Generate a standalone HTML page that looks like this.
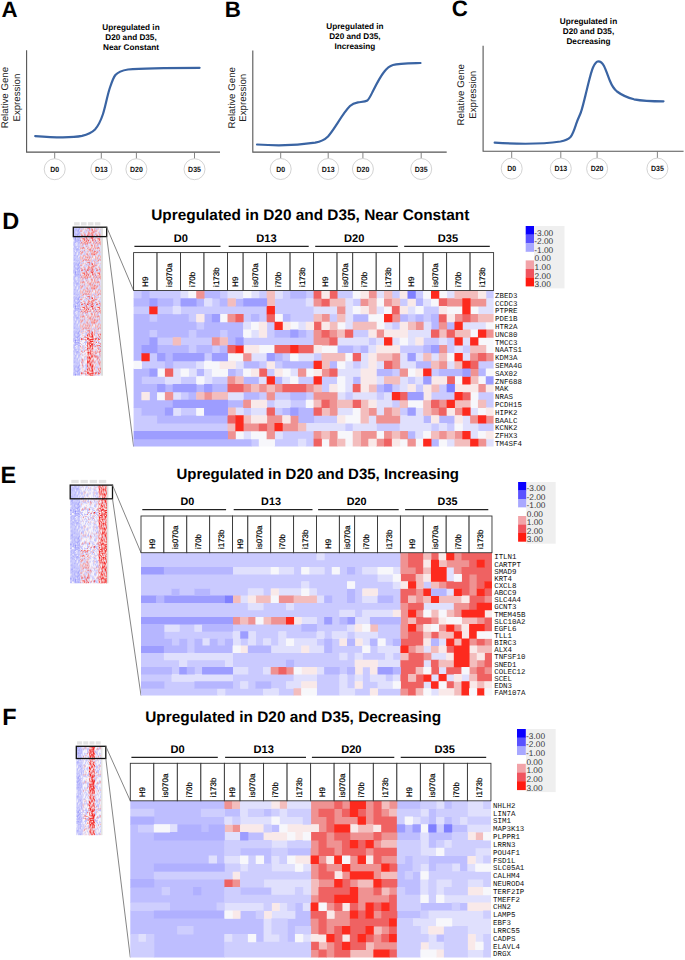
<!DOCTYPE html>
<html><head><meta charset="utf-8"><style>
html,body{margin:0;padding:0;background:#fff;width:685px;height:960px;overflow:hidden}
svg{display:block}
</style></head><body>
<svg width="685" height="960" viewBox="0 0 685 960" text-rendering="geometricPrecision">
<defs><pattern id="pB" patternUnits="userSpaceOnUse" width="15.0" height="34.199999999999996"><g transform="scale(0.75 0.95)"><path fill="#a4a4fa" d="M0 0h1v1h-1zM1 0h1v1h-1zM3 0h1v1h-1zM4 0h1v1h-1zM5 0h1v1h-1zM7 0h1v1h-1zM8 0h1v1h-1zM18 0h1v1h-1zM19 0h1v1h-1zM2 1h1v1h-1zM7 1h1v1h-1zM8 1h1v1h-1zM10 1h1v1h-1zM11 1h1v1h-1zM12 1h1v1h-1zM13 1h1v1h-1zM14 1h1v1h-1zM13 2h1v1h-1zM17 2h1v1h-1zM10 3h1v1h-1zM11 3h1v1h-1zM15 3h1v1h-1zM17 3h1v1h-1zM7 4h1v1h-1zM17 4h1v1h-1zM19 4h1v1h-1zM1 5h1v1h-1zM3 5h1v1h-1zM4 5h1v1h-1zM17 5h1v1h-1zM18 5h1v1h-1zM6 6h1v1h-1zM12 6h1v1h-1zM14 6h1v1h-1zM0 7h1v1h-1zM4 7h1v1h-1zM9 7h1v1h-1zM11 7h1v1h-1zM19 7h1v1h-1zM0 8h1v1h-1zM5 8h1v1h-1zM13 8h1v1h-1zM16 8h1v1h-1zM19 8h1v1h-1zM0 9h1v1h-1zM2 9h1v1h-1zM3 9h1v1h-1zM5 9h1v1h-1zM11 9h1v1h-1zM12 9h1v1h-1zM17 9h1v1h-1zM18 9h1v1h-1zM1 10h1v1h-1zM2 10h1v1h-1zM7 10h1v1h-1zM11 10h1v1h-1zM12 10h1v1h-1zM15 10h1v1h-1zM17 10h1v1h-1zM2 11h1v1h-1zM5 11h1v1h-1zM12 11h1v1h-1zM15 11h1v1h-1zM16 11h1v1h-1zM17 11h1v1h-1zM1 12h1v1h-1zM7 12h1v1h-1zM12 12h1v1h-1zM18 12h1v1h-1zM19 12h1v1h-1zM0 13h1v1h-1zM1 13h1v1h-1zM4 13h1v1h-1zM6 13h1v1h-1zM9 13h1v1h-1zM15 13h1v1h-1zM16 13h1v1h-1zM5 14h1v1h-1zM6 14h1v1h-1zM9 14h1v1h-1zM13 14h1v1h-1zM14 14h1v1h-1zM18 14h1v1h-1zM4 15h1v1h-1zM11 15h1v1h-1zM12 15h1v1h-1zM14 15h1v1h-1zM4 16h1v1h-1zM9 16h1v1h-1zM13 16h1v1h-1zM16 16h1v1h-1zM17 16h1v1h-1zM19 16h1v1h-1zM7 17h1v1h-1zM8 17h1v1h-1zM10 17h1v1h-1zM11 17h1v1h-1zM12 17h1v1h-1zM15 17h1v1h-1zM18 17h1v1h-1zM19 17h1v1h-1zM2 18h1v1h-1zM3 18h1v1h-1zM7 18h1v1h-1zM9 18h1v1h-1zM12 18h1v1h-1zM15 18h1v1h-1zM5 19h1v1h-1zM9 19h1v1h-1zM12 19h1v1h-1zM13 19h1v1h-1zM15 19h1v1h-1zM16 19h1v1h-1zM19 19h1v1h-1zM0 20h1v1h-1zM1 20h1v1h-1zM3 20h1v1h-1zM1 21h1v1h-1zM5 21h1v1h-1zM8 21h1v1h-1zM12 21h1v1h-1zM14 21h1v1h-1zM0 22h1v1h-1zM1 22h1v1h-1zM2 22h1v1h-1zM12 22h1v1h-1zM15 22h1v1h-1zM16 22h1v1h-1zM17 22h1v1h-1zM18 22h1v1h-1zM3 23h1v1h-1zM5 23h1v1h-1zM8 23h1v1h-1zM14 23h1v1h-1zM15 23h1v1h-1zM16 23h1v1h-1zM17 23h1v1h-1zM5 24h1v1h-1zM11 24h1v1h-1zM15 24h1v1h-1zM18 24h1v1h-1zM19 24h1v1h-1zM2 25h1v1h-1zM4 25h1v1h-1zM5 25h1v1h-1zM6 25h1v1h-1zM9 25h1v1h-1zM14 25h1v1h-1zM4 26h1v1h-1zM5 26h1v1h-1zM7 26h1v1h-1zM9 26h1v1h-1zM12 26h1v1h-1zM17 26h1v1h-1zM19 26h1v1h-1zM0 27h1v1h-1zM3 27h1v1h-1zM4 27h1v1h-1zM5 27h1v1h-1zM8 27h1v1h-1zM9 27h1v1h-1zM6 28h1v1h-1zM7 28h1v1h-1zM10 28h1v1h-1zM13 28h1v1h-1zM16 28h1v1h-1zM18 28h1v1h-1zM19 28h1v1h-1zM2 29h1v1h-1zM4 29h1v1h-1zM5 29h1v1h-1zM6 29h1v1h-1zM8 29h1v1h-1zM9 29h1v1h-1zM11 29h1v1h-1zM19 29h1v1h-1zM2 30h1v1h-1zM3 30h1v1h-1zM4 30h1v1h-1zM5 30h1v1h-1zM15 30h1v1h-1zM16 30h1v1h-1zM18 30h1v1h-1zM1 31h1v1h-1zM2 31h1v1h-1zM3 31h1v1h-1zM5 31h1v1h-1zM13 31h1v1h-1zM16 31h1v1h-1zM0 32h1v1h-1zM3 32h1v1h-1zM6 32h1v1h-1zM12 32h1v1h-1zM13 32h1v1h-1zM14 32h1v1h-1zM19 32h1v1h-1zM11 33h1v1h-1zM15 33h1v1h-1zM9 34h1v1h-1zM11 34h1v1h-1zM13 34h1v1h-1zM19 34h1v1h-1zM0 35h1v1h-1zM1 35h1v1h-1zM3 35h1v1h-1zM6 35h1v1h-1zM13 35h1v1h-1zM16 35h1v1h-1z"/><path fill="#8e8ef8" d="M2 0h1v1h-1zM12 2h1v1h-1zM8 5h1v1h-1zM13 5h1v1h-1zM15 5h1v1h-1zM16 6h1v1h-1zM7 7h1v1h-1zM15 7h1v1h-1zM7 8h1v1h-1zM11 8h1v1h-1zM14 8h1v1h-1zM3 10h1v1h-1zM10 10h1v1h-1zM13 10h1v1h-1zM19 10h1v1h-1zM9 11h1v1h-1zM0 14h1v1h-1zM2 14h1v1h-1zM7 14h1v1h-1zM12 14h1v1h-1zM1 15h1v1h-1zM7 15h1v1h-1zM8 16h1v1h-1zM10 16h1v1h-1zM3 17h1v1h-1zM5 18h1v1h-1zM11 18h1v1h-1zM16 18h1v1h-1zM8 20h1v1h-1zM11 20h1v1h-1zM14 20h1v1h-1zM9 21h1v1h-1zM8 22h1v1h-1zM11 22h1v1h-1zM10 23h1v1h-1zM1 24h1v1h-1zM6 24h1v1h-1zM1 25h1v1h-1zM3 26h1v1h-1zM15 26h1v1h-1zM2 27h1v1h-1zM19 27h1v1h-1zM3 28h1v1h-1zM5 28h1v1h-1zM11 28h1v1h-1zM17 29h1v1h-1zM10 30h1v1h-1zM5 32h1v1h-1zM12 33h1v1h-1zM13 33h1v1h-1zM14 33h1v1h-1zM0 34h1v1h-1zM1 34h1v1h-1zM11 35h1v1h-1z"/><path fill="#b4b4fc" d="M6 0h1v1h-1zM10 0h1v1h-1zM11 0h1v1h-1zM12 0h1v1h-1zM15 0h1v1h-1zM0 1h1v1h-1zM1 1h1v1h-1zM3 1h1v1h-1zM4 1h1v1h-1zM5 1h1v1h-1zM6 1h1v1h-1zM15 1h1v1h-1zM0 2h1v1h-1zM1 2h1v1h-1zM2 2h1v1h-1zM3 2h1v1h-1zM5 2h1v1h-1zM7 2h1v1h-1zM10 2h1v1h-1zM11 2h1v1h-1zM15 2h1v1h-1zM16 2h1v1h-1zM19 2h1v1h-1zM0 3h1v1h-1zM1 3h1v1h-1zM4 3h1v1h-1zM5 3h1v1h-1zM6 3h1v1h-1zM7 3h1v1h-1zM9 3h1v1h-1zM12 3h1v1h-1zM14 3h1v1h-1zM16 3h1v1h-1zM18 3h1v1h-1zM19 3h1v1h-1zM2 4h1v1h-1zM4 4h1v1h-1zM5 4h1v1h-1zM8 4h1v1h-1zM10 4h1v1h-1zM11 4h1v1h-1zM13 4h1v1h-1zM14 4h1v1h-1zM15 4h1v1h-1zM16 4h1v1h-1zM18 4h1v1h-1zM0 5h1v1h-1zM6 5h1v1h-1zM7 5h1v1h-1zM10 5h1v1h-1zM11 5h1v1h-1zM14 5h1v1h-1zM19 5h1v1h-1zM0 6h1v1h-1zM2 6h1v1h-1zM4 6h1v1h-1zM7 6h1v1h-1zM8 6h1v1h-1zM10 6h1v1h-1zM11 6h1v1h-1zM15 6h1v1h-1zM17 6h1v1h-1zM18 6h1v1h-1zM19 6h1v1h-1zM1 7h1v1h-1zM2 7h1v1h-1zM3 7h1v1h-1zM5 7h1v1h-1zM6 7h1v1h-1zM12 7h1v1h-1zM13 7h1v1h-1zM14 7h1v1h-1zM18 7h1v1h-1zM2 8h1v1h-1zM4 8h1v1h-1zM12 8h1v1h-1zM1 9h1v1h-1zM4 9h1v1h-1zM9 9h1v1h-1zM14 9h1v1h-1zM16 9h1v1h-1zM19 9h1v1h-1zM4 10h1v1h-1zM5 10h1v1h-1zM6 10h1v1h-1zM8 10h1v1h-1zM9 10h1v1h-1zM14 10h1v1h-1zM16 10h1v1h-1zM1 11h1v1h-1zM3 11h1v1h-1zM4 11h1v1h-1zM10 11h1v1h-1zM11 11h1v1h-1zM13 11h1v1h-1zM14 11h1v1h-1zM18 11h1v1h-1zM2 12h1v1h-1zM3 12h1v1h-1zM5 12h1v1h-1zM8 12h1v1h-1zM10 12h1v1h-1zM11 12h1v1h-1zM13 12h1v1h-1zM15 12h1v1h-1zM16 12h1v1h-1zM17 12h1v1h-1zM5 13h1v1h-1zM7 13h1v1h-1zM8 13h1v1h-1zM11 13h1v1h-1zM12 13h1v1h-1zM13 13h1v1h-1zM18 13h1v1h-1zM1 14h1v1h-1zM4 14h1v1h-1zM8 14h1v1h-1zM15 14h1v1h-1zM0 15h1v1h-1zM6 15h1v1h-1zM9 15h1v1h-1zM10 15h1v1h-1zM15 15h1v1h-1zM17 15h1v1h-1zM19 15h1v1h-1zM0 16h1v1h-1zM2 16h1v1h-1zM3 16h1v1h-1zM11 16h1v1h-1zM12 16h1v1h-1zM14 16h1v1h-1zM0 17h1v1h-1zM1 17h1v1h-1zM4 17h1v1h-1zM9 17h1v1h-1zM13 17h1v1h-1zM16 17h1v1h-1zM1 18h1v1h-1zM6 18h1v1h-1zM8 18h1v1h-1zM13 18h1v1h-1zM14 18h1v1h-1zM17 18h1v1h-1zM19 18h1v1h-1zM0 19h1v1h-1zM1 19h1v1h-1zM3 19h1v1h-1zM4 19h1v1h-1zM6 19h1v1h-1zM8 19h1v1h-1zM10 19h1v1h-1zM11 19h1v1h-1zM14 19h1v1h-1zM17 19h1v1h-1zM18 19h1v1h-1zM5 20h1v1h-1zM9 20h1v1h-1zM10 20h1v1h-1zM12 20h1v1h-1zM15 20h1v1h-1zM16 20h1v1h-1zM18 20h1v1h-1zM19 20h1v1h-1zM3 21h1v1h-1zM4 21h1v1h-1zM6 21h1v1h-1zM7 21h1v1h-1zM11 21h1v1h-1zM16 21h1v1h-1zM17 21h1v1h-1zM18 21h1v1h-1zM19 21h1v1h-1zM3 22h1v1h-1zM4 22h1v1h-1zM5 22h1v1h-1zM9 22h1v1h-1zM10 22h1v1h-1zM14 22h1v1h-1zM19 22h1v1h-1zM2 23h1v1h-1zM6 23h1v1h-1zM7 23h1v1h-1zM9 23h1v1h-1zM0 24h1v1h-1zM13 24h1v1h-1zM14 24h1v1h-1zM16 24h1v1h-1zM17 24h1v1h-1zM0 25h1v1h-1zM3 25h1v1h-1zM7 25h1v1h-1zM13 25h1v1h-1zM16 25h1v1h-1zM17 25h1v1h-1zM18 25h1v1h-1zM19 25h1v1h-1zM0 26h1v1h-1zM1 26h1v1h-1zM2 26h1v1h-1zM11 26h1v1h-1zM14 26h1v1h-1zM16 26h1v1h-1zM18 26h1v1h-1zM1 27h1v1h-1zM6 27h1v1h-1zM7 27h1v1h-1zM10 27h1v1h-1zM12 27h1v1h-1zM13 27h1v1h-1zM14 27h1v1h-1zM15 27h1v1h-1zM16 27h1v1h-1zM18 27h1v1h-1zM1 28h1v1h-1zM4 28h1v1h-1zM9 28h1v1h-1zM17 28h1v1h-1zM0 29h1v1h-1zM1 29h1v1h-1zM3 29h1v1h-1zM7 29h1v1h-1zM15 29h1v1h-1zM16 29h1v1h-1zM0 30h1v1h-1zM1 30h1v1h-1zM7 30h1v1h-1zM8 30h1v1h-1zM12 30h1v1h-1zM13 30h1v1h-1zM14 30h1v1h-1zM17 30h1v1h-1zM19 30h1v1h-1zM0 31h1v1h-1zM4 31h1v1h-1zM6 31h1v1h-1zM7 31h1v1h-1zM10 31h1v1h-1zM11 31h1v1h-1zM15 31h1v1h-1zM17 31h1v1h-1zM19 31h1v1h-1zM2 32h1v1h-1zM7 32h1v1h-1zM8 32h1v1h-1zM10 32h1v1h-1zM11 32h1v1h-1zM15 32h1v1h-1zM17 32h1v1h-1zM18 32h1v1h-1zM0 33h1v1h-1zM1 33h1v1h-1zM4 33h1v1h-1zM5 33h1v1h-1zM6 33h1v1h-1zM8 33h1v1h-1zM9 33h1v1h-1zM17 33h1v1h-1zM18 33h1v1h-1zM19 33h1v1h-1zM2 34h1v1h-1zM3 34h1v1h-1zM4 34h1v1h-1zM5 34h1v1h-1zM6 34h1v1h-1zM7 34h1v1h-1zM8 34h1v1h-1zM14 34h1v1h-1zM17 34h1v1h-1zM18 34h1v1h-1zM5 35h1v1h-1zM8 35h1v1h-1zM9 35h1v1h-1zM12 35h1v1h-1zM14 35h1v1h-1zM17 35h1v1h-1zM18 35h1v1h-1z"/><path fill="#c4c4fc" d="M9 0h1v1h-1zM13 0h1v1h-1zM14 0h1v1h-1zM9 1h1v1h-1zM18 1h1v1h-1zM19 1h1v1h-1zM4 2h1v1h-1zM6 2h1v1h-1zM9 2h1v1h-1zM18 2h1v1h-1zM3 3h1v1h-1zM8 3h1v1h-1zM13 3h1v1h-1zM1 4h1v1h-1zM3 4h1v1h-1zM6 4h1v1h-1zM12 4h1v1h-1zM5 5h1v1h-1zM9 5h1v1h-1zM12 5h1v1h-1zM16 5h1v1h-1zM3 6h1v1h-1zM5 6h1v1h-1zM9 6h1v1h-1zM13 6h1v1h-1zM10 7h1v1h-1zM16 7h1v1h-1zM1 8h1v1h-1zM6 8h1v1h-1zM8 8h1v1h-1zM9 8h1v1h-1zM10 8h1v1h-1zM15 8h1v1h-1zM17 8h1v1h-1zM18 8h1v1h-1zM7 9h1v1h-1zM8 9h1v1h-1zM10 9h1v1h-1zM13 9h1v1h-1zM15 9h1v1h-1zM0 10h1v1h-1zM18 10h1v1h-1zM0 11h1v1h-1zM6 11h1v1h-1zM7 11h1v1h-1zM8 11h1v1h-1zM19 11h1v1h-1zM4 12h1v1h-1zM6 12h1v1h-1zM9 12h1v1h-1zM14 12h1v1h-1zM2 13h1v1h-1zM10 13h1v1h-1zM14 13h1v1h-1zM17 13h1v1h-1zM19 13h1v1h-1zM3 14h1v1h-1zM10 14h1v1h-1zM11 14h1v1h-1zM16 14h1v1h-1zM17 14h1v1h-1zM19 14h1v1h-1zM5 15h1v1h-1zM8 15h1v1h-1zM13 15h1v1h-1zM16 15h1v1h-1zM18 15h1v1h-1zM1 16h1v1h-1zM5 16h1v1h-1zM6 16h1v1h-1zM7 16h1v1h-1zM15 16h1v1h-1zM18 16h1v1h-1zM2 17h1v1h-1zM5 17h1v1h-1zM17 17h1v1h-1zM0 18h1v1h-1zM10 18h1v1h-1zM18 18h1v1h-1zM2 19h1v1h-1zM7 19h1v1h-1zM2 20h1v1h-1zM4 20h1v1h-1zM6 20h1v1h-1zM7 20h1v1h-1zM17 20h1v1h-1zM0 21h1v1h-1zM2 21h1v1h-1zM13 21h1v1h-1zM15 21h1v1h-1zM6 22h1v1h-1zM13 22h1v1h-1zM0 23h1v1h-1zM1 23h1v1h-1zM4 23h1v1h-1zM11 23h1v1h-1zM12 23h1v1h-1zM13 23h1v1h-1zM19 23h1v1h-1zM2 24h1v1h-1zM3 24h1v1h-1zM4 24h1v1h-1zM7 24h1v1h-1zM8 24h1v1h-1zM9 24h1v1h-1zM10 24h1v1h-1zM12 24h1v1h-1zM10 25h1v1h-1zM11 25h1v1h-1zM15 25h1v1h-1zM10 26h1v1h-1zM13 26h1v1h-1zM11 27h1v1h-1zM17 27h1v1h-1zM0 28h1v1h-1zM12 28h1v1h-1zM15 28h1v1h-1zM10 29h1v1h-1zM14 29h1v1h-1zM18 29h1v1h-1zM6 30h1v1h-1zM11 30h1v1h-1zM8 31h1v1h-1zM9 31h1v1h-1zM12 31h1v1h-1zM14 31h1v1h-1zM18 31h1v1h-1zM4 32h1v1h-1zM9 32h1v1h-1zM16 32h1v1h-1zM2 33h1v1h-1zM3 33h1v1h-1zM7 33h1v1h-1zM10 33h1v1h-1zM16 33h1v1h-1zM10 34h1v1h-1zM12 34h1v1h-1zM15 34h1v1h-1zM16 34h1v1h-1zM4 35h1v1h-1zM7 35h1v1h-1zM10 35h1v1h-1zM15 35h1v1h-1zM19 35h1v1h-1z"/><path fill="#faf6f8" d="M16 0h1v1h-1zM17 0h1v1h-1zM16 1h1v1h-1zM17 1h1v1h-1zM8 2h1v1h-1zM14 2h1v1h-1zM2 3h1v1h-1zM0 4h1v1h-1zM9 4h1v1h-1zM2 5h1v1h-1zM1 6h1v1h-1zM8 7h1v1h-1zM17 7h1v1h-1zM3 8h1v1h-1zM6 9h1v1h-1zM0 12h1v1h-1zM3 13h1v1h-1zM2 15h1v1h-1zM3 15h1v1h-1zM6 17h1v1h-1zM14 17h1v1h-1zM4 18h1v1h-1zM13 20h1v1h-1zM10 21h1v1h-1zM7 22h1v1h-1zM18 23h1v1h-1zM8 25h1v1h-1zM12 25h1v1h-1zM6 26h1v1h-1zM8 26h1v1h-1zM2 28h1v1h-1zM8 28h1v1h-1zM14 28h1v1h-1zM12 29h1v1h-1zM13 29h1v1h-1zM9 30h1v1h-1zM1 32h1v1h-1zM2 35h1v1h-1z"/></g></pattern><pattern id="pM" patternUnits="userSpaceOnUse" width="15.0" height="34.199999999999996"><g transform="scale(0.75 0.95)"><path fill="#faf6f8" d="M0 0h1v1h-1zM1 0h1v1h-1zM2 0h1v1h-1zM8 0h1v1h-1zM9 0h1v1h-1zM10 0h1v1h-1zM11 0h1v1h-1zM19 0h1v1h-1zM6 1h1v1h-1zM14 1h1v1h-1zM16 1h1v1h-1zM2 2h1v1h-1zM3 2h1v1h-1zM9 2h1v1h-1zM12 2h1v1h-1zM13 2h1v1h-1zM17 2h1v1h-1zM19 2h1v1h-1zM3 3h1v1h-1zM9 3h1v1h-1zM11 3h1v1h-1zM15 3h1v1h-1zM0 4h1v1h-1zM2 4h1v1h-1zM17 4h1v1h-1zM0 5h1v1h-1zM5 5h1v1h-1zM7 5h1v1h-1zM8 5h1v1h-1zM9 5h1v1h-1zM18 5h1v1h-1zM19 5h1v1h-1zM0 6h1v1h-1zM4 6h1v1h-1zM5 6h1v1h-1zM12 6h1v1h-1zM13 6h1v1h-1zM18 6h1v1h-1zM1 7h1v1h-1zM5 7h1v1h-1zM7 7h1v1h-1zM12 7h1v1h-1zM19 7h1v1h-1zM0 8h1v1h-1zM1 8h1v1h-1zM3 8h1v1h-1zM4 8h1v1h-1zM9 8h1v1h-1zM13 8h1v1h-1zM15 8h1v1h-1zM19 8h1v1h-1zM2 9h1v1h-1zM14 9h1v1h-1zM15 9h1v1h-1zM18 9h1v1h-1zM5 10h1v1h-1zM8 10h1v1h-1zM9 10h1v1h-1zM11 10h1v1h-1zM12 10h1v1h-1zM16 10h1v1h-1zM1 11h1v1h-1zM7 11h1v1h-1zM13 11h1v1h-1zM15 11h1v1h-1zM18 11h1v1h-1zM9 12h1v1h-1zM7 13h1v1h-1zM13 13h1v1h-1zM15 13h1v1h-1zM16 13h1v1h-1zM18 13h1v1h-1zM19 13h1v1h-1zM1 14h1v1h-1zM2 14h1v1h-1zM4 14h1v1h-1zM7 14h1v1h-1zM8 14h1v1h-1zM11 14h1v1h-1zM13 14h1v1h-1zM15 14h1v1h-1zM18 14h1v1h-1zM9 15h1v1h-1zM10 15h1v1h-1zM18 15h1v1h-1zM2 16h1v1h-1zM6 16h1v1h-1zM14 16h1v1h-1zM15 16h1v1h-1zM18 16h1v1h-1zM6 17h1v1h-1zM8 17h1v1h-1zM9 17h1v1h-1zM13 17h1v1h-1zM15 17h1v1h-1zM2 18h1v1h-1zM4 18h1v1h-1zM5 18h1v1h-1zM6 18h1v1h-1zM12 18h1v1h-1zM3 19h1v1h-1zM5 19h1v1h-1zM6 19h1v1h-1zM8 19h1v1h-1zM13 19h1v1h-1zM0 20h1v1h-1zM1 20h1v1h-1zM2 20h1v1h-1zM3 20h1v1h-1zM10 20h1v1h-1zM13 20h1v1h-1zM15 20h1v1h-1zM16 20h1v1h-1zM17 20h1v1h-1zM18 20h1v1h-1zM1 22h1v1h-1zM2 22h1v1h-1zM9 22h1v1h-1zM14 22h1v1h-1zM17 22h1v1h-1zM0 23h1v1h-1zM4 23h1v1h-1zM7 23h1v1h-1zM12 23h1v1h-1zM13 23h1v1h-1zM16 23h1v1h-1zM17 23h1v1h-1zM3 24h1v1h-1zM4 24h1v1h-1zM10 24h1v1h-1zM12 24h1v1h-1zM14 24h1v1h-1zM2 25h1v1h-1zM5 25h1v1h-1zM12 25h1v1h-1zM14 25h1v1h-1zM15 25h1v1h-1zM4 26h1v1h-1zM7 26h1v1h-1zM10 26h1v1h-1zM11 26h1v1h-1zM12 26h1v1h-1zM2 27h1v1h-1zM3 27h1v1h-1zM11 27h1v1h-1zM0 28h1v1h-1zM1 28h1v1h-1zM6 28h1v1h-1zM9 28h1v1h-1zM10 28h1v1h-1zM13 28h1v1h-1zM16 28h1v1h-1zM17 28h1v1h-1zM5 29h1v1h-1zM8 29h1v1h-1zM9 29h1v1h-1zM15 29h1v1h-1zM16 29h1v1h-1zM18 29h1v1h-1zM1 30h1v1h-1zM5 30h1v1h-1zM10 30h1v1h-1zM11 30h1v1h-1zM12 30h1v1h-1zM15 30h1v1h-1zM19 30h1v1h-1zM8 31h1v1h-1zM7 32h1v1h-1zM3 33h1v1h-1zM5 33h1v1h-1zM16 33h1v1h-1zM0 34h1v1h-1zM6 34h1v1h-1zM10 34h1v1h-1zM11 34h1v1h-1zM12 34h1v1h-1zM17 34h1v1h-1zM8 35h1v1h-1zM13 35h1v1h-1z"/><path fill="#f22a2a" d="M3 0h1v1h-1zM4 0h1v1h-1zM12 0h1v1h-1zM14 0h1v1h-1zM16 0h1v1h-1zM18 0h1v1h-1zM3 1h1v1h-1zM4 1h1v1h-1zM7 1h1v1h-1zM10 1h1v1h-1zM12 1h1v1h-1zM15 1h1v1h-1zM17 1h1v1h-1zM18 1h1v1h-1zM5 2h1v1h-1zM14 2h1v1h-1zM0 3h1v1h-1zM8 3h1v1h-1zM12 3h1v1h-1zM16 3h1v1h-1zM4 4h1v1h-1zM10 4h1v1h-1zM15 4h1v1h-1zM16 4h1v1h-1zM1 5h1v1h-1zM13 5h1v1h-1zM6 6h1v1h-1zM6 7h1v1h-1zM15 7h1v1h-1zM2 8h1v1h-1zM10 8h1v1h-1zM11 8h1v1h-1zM18 8h1v1h-1zM7 9h1v1h-1zM16 9h1v1h-1zM19 10h1v1h-1zM3 11h1v1h-1zM12 11h1v1h-1zM5 12h1v1h-1zM10 12h1v1h-1zM17 12h1v1h-1zM2 13h1v1h-1zM4 13h1v1h-1zM5 13h1v1h-1zM6 13h1v1h-1zM14 13h1v1h-1zM1 15h1v1h-1zM2 15h1v1h-1zM3 15h1v1h-1zM4 15h1v1h-1zM5 15h1v1h-1zM6 15h1v1h-1zM8 15h1v1h-1zM15 15h1v1h-1zM5 16h1v1h-1zM16 16h1v1h-1zM14 17h1v1h-1zM0 18h1v1h-1zM7 19h1v1h-1zM9 19h1v1h-1zM14 19h1v1h-1zM1 21h1v1h-1zM7 21h1v1h-1zM13 21h1v1h-1zM14 21h1v1h-1zM15 21h1v1h-1zM17 21h1v1h-1zM18 21h1v1h-1zM4 22h1v1h-1zM19 22h1v1h-1zM6 23h1v1h-1zM10 23h1v1h-1zM1 24h1v1h-1zM17 24h1v1h-1zM18 24h1v1h-1zM19 24h1v1h-1zM1 25h1v1h-1zM3 25h1v1h-1zM2 26h1v1h-1zM3 26h1v1h-1zM6 26h1v1h-1zM19 26h1v1h-1zM5 27h1v1h-1zM7 27h1v1h-1zM17 27h1v1h-1zM4 28h1v1h-1zM5 28h1v1h-1zM18 28h1v1h-1zM1 29h1v1h-1zM17 29h1v1h-1zM19 29h1v1h-1zM2 30h1v1h-1zM7 30h1v1h-1zM8 30h1v1h-1zM13 30h1v1h-1zM17 30h1v1h-1zM3 31h1v1h-1zM4 31h1v1h-1zM10 31h1v1h-1zM12 31h1v1h-1zM17 31h1v1h-1zM19 31h1v1h-1zM1 32h1v1h-1zM8 32h1v1h-1zM13 32h1v1h-1zM16 32h1v1h-1zM17 32h1v1h-1zM2 33h1v1h-1zM4 33h1v1h-1zM14 33h1v1h-1zM1 34h1v1h-1zM2 34h1v1h-1zM3 34h1v1h-1zM13 34h1v1h-1zM15 34h1v1h-1zM3 35h1v1h-1zM10 35h1v1h-1zM11 35h1v1h-1zM12 35h1v1h-1zM15 35h1v1h-1z"/><path fill="#f4b0b0" d="M5 0h1v1h-1zM13 0h1v1h-1zM0 1h1v1h-1zM1 1h1v1h-1zM11 1h1v1h-1zM13 1h1v1h-1zM0 2h1v1h-1zM1 2h1v1h-1zM4 2h1v1h-1zM10 2h1v1h-1zM11 2h1v1h-1zM16 2h1v1h-1zM2 3h1v1h-1zM5 3h1v1h-1zM6 3h1v1h-1zM14 3h1v1h-1zM17 3h1v1h-1zM6 4h1v1h-1zM13 4h1v1h-1zM2 5h1v1h-1zM8 6h1v1h-1zM10 6h1v1h-1zM17 6h1v1h-1zM2 7h1v1h-1zM3 7h1v1h-1zM14 7h1v1h-1zM16 7h1v1h-1zM17 7h1v1h-1zM5 8h1v1h-1zM7 8h1v1h-1zM8 8h1v1h-1zM12 8h1v1h-1zM17 8h1v1h-1zM0 9h1v1h-1zM3 9h1v1h-1zM5 9h1v1h-1zM8 9h1v1h-1zM11 9h1v1h-1zM17 9h1v1h-1zM1 10h1v1h-1zM7 10h1v1h-1zM13 10h1v1h-1zM15 10h1v1h-1zM17 10h1v1h-1zM18 10h1v1h-1zM8 11h1v1h-1zM11 11h1v1h-1zM17 11h1v1h-1zM0 12h1v1h-1zM1 12h1v1h-1zM2 12h1v1h-1zM3 12h1v1h-1zM14 12h1v1h-1zM16 12h1v1h-1zM3 13h1v1h-1zM11 13h1v1h-1zM17 13h1v1h-1zM3 14h1v1h-1zM5 14h1v1h-1zM6 14h1v1h-1zM16 14h1v1h-1zM17 14h1v1h-1zM1 16h1v1h-1zM3 16h1v1h-1zM11 16h1v1h-1zM2 17h1v1h-1zM3 17h1v1h-1zM10 17h1v1h-1zM12 17h1v1h-1zM19 17h1v1h-1zM7 18h1v1h-1zM8 18h1v1h-1zM9 18h1v1h-1zM11 18h1v1h-1zM13 18h1v1h-1zM15 18h1v1h-1zM17 18h1v1h-1zM18 18h1v1h-1zM19 18h1v1h-1zM2 19h1v1h-1zM4 19h1v1h-1zM15 19h1v1h-1zM5 20h1v1h-1zM7 20h1v1h-1zM8 20h1v1h-1zM9 20h1v1h-1zM19 20h1v1h-1zM0 21h1v1h-1zM4 21h1v1h-1zM9 21h1v1h-1zM10 21h1v1h-1zM12 21h1v1h-1zM16 21h1v1h-1zM0 22h1v1h-1zM10 22h1v1h-1zM5 23h1v1h-1zM8 23h1v1h-1zM9 23h1v1h-1zM19 23h1v1h-1zM7 24h1v1h-1zM15 24h1v1h-1zM11 25h1v1h-1zM1 26h1v1h-1zM5 26h1v1h-1zM8 26h1v1h-1zM9 26h1v1h-1zM17 26h1v1h-1zM0 27h1v1h-1zM9 27h1v1h-1zM14 27h1v1h-1zM16 27h1v1h-1zM11 28h1v1h-1zM19 28h1v1h-1zM0 29h1v1h-1zM3 29h1v1h-1zM6 29h1v1h-1zM10 29h1v1h-1zM11 29h1v1h-1zM0 30h1v1h-1zM9 31h1v1h-1zM14 31h1v1h-1zM4 32h1v1h-1zM14 32h1v1h-1zM8 33h1v1h-1zM10 33h1v1h-1zM9 34h1v1h-1zM16 34h1v1h-1zM0 35h1v1h-1zM5 35h1v1h-1zM6 35h1v1h-1zM7 35h1v1h-1zM16 35h1v1h-1zM17 35h1v1h-1zM18 35h1v1h-1zM19 35h1v1h-1z"/><path fill="#f06060" d="M6 0h1v1h-1zM15 2h1v1h-1zM4 3h1v1h-1zM10 3h1v1h-1zM13 3h1v1h-1zM18 3h1v1h-1zM19 3h1v1h-1zM7 4h1v1h-1zM11 4h1v1h-1zM14 4h1v1h-1zM6 5h1v1h-1zM10 5h1v1h-1zM14 5h1v1h-1zM16 5h1v1h-1zM1 6h1v1h-1zM2 6h1v1h-1zM3 6h1v1h-1zM9 6h1v1h-1zM6 8h1v1h-1zM1 9h1v1h-1zM4 9h1v1h-1zM9 9h1v1h-1zM10 9h1v1h-1zM12 9h1v1h-1zM0 10h1v1h-1zM4 10h1v1h-1zM0 11h1v1h-1zM2 11h1v1h-1zM5 11h1v1h-1zM19 11h1v1h-1zM6 12h1v1h-1zM7 12h1v1h-1zM0 13h1v1h-1zM8 13h1v1h-1zM9 13h1v1h-1zM10 13h1v1h-1zM9 14h1v1h-1zM7 15h1v1h-1zM16 15h1v1h-1zM19 15h1v1h-1zM4 16h1v1h-1zM12 16h1v1h-1zM17 16h1v1h-1zM7 17h1v1h-1zM11 17h1v1h-1zM18 17h1v1h-1zM3 18h1v1h-1zM14 18h1v1h-1zM16 18h1v1h-1zM1 19h1v1h-1zM10 19h1v1h-1zM16 19h1v1h-1zM18 19h1v1h-1zM19 19h1v1h-1zM12 20h1v1h-1zM11 21h1v1h-1zM5 22h1v1h-1zM11 22h1v1h-1zM16 22h1v1h-1zM1 23h1v1h-1zM6 24h1v1h-1zM16 24h1v1h-1zM6 25h1v1h-1zM10 25h1v1h-1zM13 25h1v1h-1zM19 25h1v1h-1zM15 26h1v1h-1zM4 27h1v1h-1zM8 27h1v1h-1zM2 28h1v1h-1zM3 28h1v1h-1zM2 29h1v1h-1zM4 29h1v1h-1zM12 29h1v1h-1zM3 30h1v1h-1zM18 30h1v1h-1zM0 31h1v1h-1zM2 31h1v1h-1zM5 31h1v1h-1zM13 31h1v1h-1zM16 31h1v1h-1zM2 32h1v1h-1zM3 32h1v1h-1zM9 32h1v1h-1zM10 32h1v1h-1zM18 32h1v1h-1zM0 33h1v1h-1zM15 33h1v1h-1zM18 33h1v1h-1zM4 34h1v1h-1zM1 35h1v1h-1zM9 35h1v1h-1z"/><path fill="#c4c4fc" d="M7 0h1v1h-1zM15 0h1v1h-1zM17 0h1v1h-1zM2 1h1v1h-1zM5 1h1v1h-1zM8 1h1v1h-1zM9 1h1v1h-1zM19 1h1v1h-1zM6 2h1v1h-1zM7 2h1v1h-1zM8 2h1v1h-1zM18 2h1v1h-1zM1 3h1v1h-1zM7 3h1v1h-1zM1 4h1v1h-1zM3 4h1v1h-1zM5 4h1v1h-1zM8 4h1v1h-1zM9 4h1v1h-1zM12 4h1v1h-1zM18 4h1v1h-1zM19 4h1v1h-1zM3 5h1v1h-1zM4 5h1v1h-1zM11 5h1v1h-1zM12 5h1v1h-1zM15 5h1v1h-1zM17 5h1v1h-1zM7 6h1v1h-1zM11 6h1v1h-1zM14 6h1v1h-1zM15 6h1v1h-1zM16 6h1v1h-1zM19 6h1v1h-1zM0 7h1v1h-1zM4 7h1v1h-1zM8 7h1v1h-1zM9 7h1v1h-1zM10 7h1v1h-1zM11 7h1v1h-1zM13 7h1v1h-1zM18 7h1v1h-1zM14 8h1v1h-1zM16 8h1v1h-1zM6 9h1v1h-1zM13 9h1v1h-1zM19 9h1v1h-1zM2 10h1v1h-1zM3 10h1v1h-1zM6 10h1v1h-1zM10 10h1v1h-1zM14 10h1v1h-1zM4 11h1v1h-1zM6 11h1v1h-1zM9 11h1v1h-1zM10 11h1v1h-1zM14 11h1v1h-1zM16 11h1v1h-1zM4 12h1v1h-1zM8 12h1v1h-1zM11 12h1v1h-1zM12 12h1v1h-1zM13 12h1v1h-1zM15 12h1v1h-1zM18 12h1v1h-1zM19 12h1v1h-1zM1 13h1v1h-1zM12 13h1v1h-1zM0 14h1v1h-1zM10 14h1v1h-1zM12 14h1v1h-1zM14 14h1v1h-1zM19 14h1v1h-1zM0 15h1v1h-1zM11 15h1v1h-1zM12 15h1v1h-1zM13 15h1v1h-1zM14 15h1v1h-1zM17 15h1v1h-1zM0 16h1v1h-1zM7 16h1v1h-1zM8 16h1v1h-1zM9 16h1v1h-1zM10 16h1v1h-1zM13 16h1v1h-1zM19 16h1v1h-1zM0 17h1v1h-1zM1 17h1v1h-1zM4 17h1v1h-1zM5 17h1v1h-1zM16 17h1v1h-1zM17 17h1v1h-1zM1 18h1v1h-1zM10 18h1v1h-1zM0 19h1v1h-1zM11 19h1v1h-1zM12 19h1v1h-1zM17 19h1v1h-1zM4 20h1v1h-1zM6 20h1v1h-1zM11 20h1v1h-1zM14 20h1v1h-1zM2 21h1v1h-1zM3 21h1v1h-1zM5 21h1v1h-1zM6 21h1v1h-1zM8 21h1v1h-1zM19 21h1v1h-1zM3 22h1v1h-1zM6 22h1v1h-1zM7 22h1v1h-1zM8 22h1v1h-1zM12 22h1v1h-1zM13 22h1v1h-1zM15 22h1v1h-1zM18 22h1v1h-1zM2 23h1v1h-1zM3 23h1v1h-1zM11 23h1v1h-1zM14 23h1v1h-1zM15 23h1v1h-1zM18 23h1v1h-1zM0 24h1v1h-1zM2 24h1v1h-1zM5 24h1v1h-1zM8 24h1v1h-1zM9 24h1v1h-1zM11 24h1v1h-1zM13 24h1v1h-1zM0 25h1v1h-1zM4 25h1v1h-1zM7 25h1v1h-1zM8 25h1v1h-1zM9 25h1v1h-1zM16 25h1v1h-1zM17 25h1v1h-1zM18 25h1v1h-1zM0 26h1v1h-1zM13 26h1v1h-1zM14 26h1v1h-1zM16 26h1v1h-1zM18 26h1v1h-1zM1 27h1v1h-1zM6 27h1v1h-1zM10 27h1v1h-1zM12 27h1v1h-1zM13 27h1v1h-1zM15 27h1v1h-1zM18 27h1v1h-1zM19 27h1v1h-1zM7 28h1v1h-1zM8 28h1v1h-1zM12 28h1v1h-1zM14 28h1v1h-1zM15 28h1v1h-1zM7 29h1v1h-1zM13 29h1v1h-1zM14 29h1v1h-1zM4 30h1v1h-1zM6 30h1v1h-1zM9 30h1v1h-1zM14 30h1v1h-1zM16 30h1v1h-1zM1 31h1v1h-1zM6 31h1v1h-1zM7 31h1v1h-1zM11 31h1v1h-1zM15 31h1v1h-1zM18 31h1v1h-1zM0 32h1v1h-1zM5 32h1v1h-1zM6 32h1v1h-1zM11 32h1v1h-1zM12 32h1v1h-1zM15 32h1v1h-1zM19 32h1v1h-1zM1 33h1v1h-1zM6 33h1v1h-1zM7 33h1v1h-1zM9 33h1v1h-1zM11 33h1v1h-1zM12 33h1v1h-1zM13 33h1v1h-1zM17 33h1v1h-1zM19 33h1v1h-1zM5 34h1v1h-1zM7 34h1v1h-1zM8 34h1v1h-1zM14 34h1v1h-1zM18 34h1v1h-1zM19 34h1v1h-1zM2 35h1v1h-1zM4 35h1v1h-1zM14 35h1v1h-1z"/></g></pattern><pattern id="pR" patternUnits="userSpaceOnUse" width="15.0" height="34.199999999999996"><g transform="scale(0.75 0.95)"><path fill="#f22a2a" d="M0 0h1v1h-1zM4 0h1v1h-1zM5 0h1v1h-1zM6 0h1v1h-1zM7 0h1v1h-1zM9 0h1v1h-1zM11 0h1v1h-1zM12 0h1v1h-1zM16 0h1v1h-1zM17 0h1v1h-1zM18 0h1v1h-1zM6 1h1v1h-1zM12 1h1v1h-1zM14 1h1v1h-1zM15 1h1v1h-1zM2 2h1v1h-1zM5 2h1v1h-1zM6 2h1v1h-1zM8 2h1v1h-1zM12 2h1v1h-1zM14 2h1v1h-1zM15 2h1v1h-1zM16 2h1v1h-1zM17 2h1v1h-1zM18 2h1v1h-1zM4 3h1v1h-1zM5 3h1v1h-1zM9 3h1v1h-1zM14 3h1v1h-1zM18 3h1v1h-1zM2 4h1v1h-1zM6 4h1v1h-1zM8 4h1v1h-1zM9 4h1v1h-1zM10 4h1v1h-1zM12 4h1v1h-1zM13 4h1v1h-1zM14 4h1v1h-1zM18 4h1v1h-1zM0 5h1v1h-1zM1 5h1v1h-1zM2 5h1v1h-1zM4 5h1v1h-1zM5 5h1v1h-1zM6 5h1v1h-1zM8 5h1v1h-1zM10 5h1v1h-1zM12 5h1v1h-1zM13 5h1v1h-1zM19 5h1v1h-1zM0 6h1v1h-1zM4 6h1v1h-1zM7 6h1v1h-1zM9 6h1v1h-1zM10 6h1v1h-1zM11 6h1v1h-1zM12 6h1v1h-1zM13 6h1v1h-1zM14 6h1v1h-1zM16 6h1v1h-1zM19 6h1v1h-1zM1 7h1v1h-1zM4 7h1v1h-1zM5 7h1v1h-1zM7 7h1v1h-1zM9 7h1v1h-1zM11 7h1v1h-1zM12 7h1v1h-1zM14 7h1v1h-1zM15 7h1v1h-1zM16 7h1v1h-1zM0 8h1v1h-1zM2 8h1v1h-1zM4 8h1v1h-1zM7 8h1v1h-1zM8 8h1v1h-1zM9 8h1v1h-1zM11 8h1v1h-1zM13 8h1v1h-1zM14 8h1v1h-1zM16 8h1v1h-1zM7 9h1v1h-1zM8 9h1v1h-1zM12 9h1v1h-1zM14 9h1v1h-1zM15 9h1v1h-1zM16 9h1v1h-1zM17 9h1v1h-1zM19 9h1v1h-1zM8 10h1v1h-1zM10 10h1v1h-1zM11 10h1v1h-1zM14 10h1v1h-1zM17 10h1v1h-1zM18 10h1v1h-1zM19 10h1v1h-1zM0 11h1v1h-1zM2 11h1v1h-1zM9 11h1v1h-1zM13 11h1v1h-1zM16 11h1v1h-1zM18 11h1v1h-1zM0 12h1v1h-1zM1 12h1v1h-1zM3 12h1v1h-1zM8 12h1v1h-1zM13 12h1v1h-1zM15 12h1v1h-1zM17 12h1v1h-1zM18 12h1v1h-1zM1 13h1v1h-1zM4 13h1v1h-1zM6 13h1v1h-1zM9 13h1v1h-1zM10 13h1v1h-1zM11 13h1v1h-1zM16 13h1v1h-1zM5 14h1v1h-1zM6 14h1v1h-1zM9 14h1v1h-1zM3 15h1v1h-1zM8 15h1v1h-1zM18 15h1v1h-1zM19 15h1v1h-1zM0 16h1v1h-1zM1 16h1v1h-1zM2 16h1v1h-1zM4 16h1v1h-1zM6 16h1v1h-1zM7 16h1v1h-1zM9 16h1v1h-1zM10 16h1v1h-1zM11 16h1v1h-1zM12 16h1v1h-1zM14 16h1v1h-1zM15 16h1v1h-1zM16 16h1v1h-1zM18 16h1v1h-1zM19 16h1v1h-1zM7 17h1v1h-1zM8 17h1v1h-1zM13 17h1v1h-1zM17 17h1v1h-1zM18 17h1v1h-1zM2 18h1v1h-1zM4 18h1v1h-1zM6 18h1v1h-1zM9 18h1v1h-1zM11 18h1v1h-1zM12 18h1v1h-1zM13 18h1v1h-1zM15 18h1v1h-1zM0 19h1v1h-1zM1 19h1v1h-1zM2 19h1v1h-1zM3 19h1v1h-1zM5 19h1v1h-1zM6 19h1v1h-1zM11 19h1v1h-1zM12 19h1v1h-1zM14 19h1v1h-1zM15 19h1v1h-1zM17 19h1v1h-1zM18 19h1v1h-1zM1 20h1v1h-1zM14 20h1v1h-1zM16 20h1v1h-1zM18 20h1v1h-1zM13 21h1v1h-1zM14 21h1v1h-1zM18 21h1v1h-1zM19 21h1v1h-1zM3 22h1v1h-1zM7 22h1v1h-1zM13 22h1v1h-1zM0 23h1v1h-1zM2 23h1v1h-1zM9 23h1v1h-1zM12 23h1v1h-1zM13 23h1v1h-1zM18 23h1v1h-1zM0 24h1v1h-1zM4 24h1v1h-1zM7 24h1v1h-1zM9 24h1v1h-1zM15 24h1v1h-1zM17 24h1v1h-1zM19 24h1v1h-1zM1 25h1v1h-1zM3 25h1v1h-1zM4 25h1v1h-1zM10 25h1v1h-1zM13 25h1v1h-1zM14 25h1v1h-1zM15 25h1v1h-1zM0 26h1v1h-1zM3 26h1v1h-1zM5 26h1v1h-1zM6 26h1v1h-1zM9 26h1v1h-1zM11 26h1v1h-1zM14 26h1v1h-1zM17 26h1v1h-1zM18 26h1v1h-1zM2 27h1v1h-1zM6 27h1v1h-1zM9 27h1v1h-1zM10 27h1v1h-1zM13 27h1v1h-1zM15 27h1v1h-1zM16 27h1v1h-1zM0 28h1v1h-1zM8 28h1v1h-1zM10 28h1v1h-1zM17 28h1v1h-1zM19 28h1v1h-1zM2 29h1v1h-1zM5 29h1v1h-1zM6 29h1v1h-1zM9 29h1v1h-1zM10 29h1v1h-1zM15 29h1v1h-1zM17 29h1v1h-1zM18 29h1v1h-1zM1 30h1v1h-1zM3 30h1v1h-1zM4 30h1v1h-1zM5 30h1v1h-1zM11 30h1v1h-1zM13 30h1v1h-1zM14 30h1v1h-1zM18 30h1v1h-1zM1 31h1v1h-1zM2 31h1v1h-1zM4 31h1v1h-1zM5 31h1v1h-1zM6 31h1v1h-1zM11 31h1v1h-1zM13 31h1v1h-1zM16 31h1v1h-1zM18 31h1v1h-1zM19 31h1v1h-1zM2 32h1v1h-1zM4 32h1v1h-1zM8 32h1v1h-1zM10 32h1v1h-1zM11 32h1v1h-1zM12 32h1v1h-1zM13 32h1v1h-1zM14 32h1v1h-1zM17 32h1v1h-1zM19 32h1v1h-1zM5 33h1v1h-1zM7 33h1v1h-1zM8 33h1v1h-1zM11 33h1v1h-1zM12 33h1v1h-1zM14 33h1v1h-1zM18 33h1v1h-1zM3 34h1v1h-1zM4 34h1v1h-1zM9 34h1v1h-1zM11 34h1v1h-1zM16 34h1v1h-1zM1 35h1v1h-1zM2 35h1v1h-1zM3 35h1v1h-1zM7 35h1v1h-1zM8 35h1v1h-1zM10 35h1v1h-1zM11 35h1v1h-1zM12 35h1v1h-1zM13 35h1v1h-1zM14 35h1v1h-1zM15 35h1v1h-1zM18 35h1v1h-1zM19 35h1v1h-1z"/><path fill="#f4b0b0" d="M1 0h1v1h-1zM2 0h1v1h-1zM15 0h1v1h-1zM10 1h1v1h-1zM19 1h1v1h-1zM0 2h1v1h-1zM3 2h1v1h-1zM10 2h1v1h-1zM19 2h1v1h-1zM2 3h1v1h-1zM8 3h1v1h-1zM17 3h1v1h-1zM0 4h1v1h-1zM1 4h1v1h-1zM3 4h1v1h-1zM4 4h1v1h-1zM5 4h1v1h-1zM11 4h1v1h-1zM15 4h1v1h-1zM16 4h1v1h-1zM17 4h1v1h-1zM7 5h1v1h-1zM18 5h1v1h-1zM5 6h1v1h-1zM8 6h1v1h-1zM18 6h1v1h-1zM3 7h1v1h-1zM1 8h1v1h-1zM6 8h1v1h-1zM17 8h1v1h-1zM18 8h1v1h-1zM3 9h1v1h-1zM4 9h1v1h-1zM9 9h1v1h-1zM11 9h1v1h-1zM0 10h1v1h-1zM5 10h1v1h-1zM7 10h1v1h-1zM12 11h1v1h-1zM17 11h1v1h-1zM2 12h1v1h-1zM10 12h1v1h-1zM3 13h1v1h-1zM12 13h1v1h-1zM1 14h1v1h-1zM2 14h1v1h-1zM3 14h1v1h-1zM4 14h1v1h-1zM8 14h1v1h-1zM10 14h1v1h-1zM11 14h1v1h-1zM18 14h1v1h-1zM4 15h1v1h-1zM6 15h1v1h-1zM16 15h1v1h-1zM17 16h1v1h-1zM0 17h1v1h-1zM2 17h1v1h-1zM3 17h1v1h-1zM4 17h1v1h-1zM9 17h1v1h-1zM14 17h1v1h-1zM19 17h1v1h-1zM0 18h1v1h-1zM3 18h1v1h-1zM5 18h1v1h-1zM16 18h1v1h-1zM17 18h1v1h-1zM19 18h1v1h-1zM3 20h1v1h-1zM4 20h1v1h-1zM7 20h1v1h-1zM10 20h1v1h-1zM12 20h1v1h-1zM19 20h1v1h-1zM2 21h1v1h-1zM3 21h1v1h-1zM6 21h1v1h-1zM8 21h1v1h-1zM11 21h1v1h-1zM12 21h1v1h-1zM6 22h1v1h-1zM11 22h1v1h-1zM14 22h1v1h-1zM17 22h1v1h-1zM4 23h1v1h-1zM11 23h1v1h-1zM6 24h1v1h-1zM8 24h1v1h-1zM10 24h1v1h-1zM12 24h1v1h-1zM14 24h1v1h-1zM18 24h1v1h-1zM2 25h1v1h-1zM5 25h1v1h-1zM6 25h1v1h-1zM8 25h1v1h-1zM11 25h1v1h-1zM12 25h1v1h-1zM18 25h1v1h-1zM19 25h1v1h-1zM1 26h1v1h-1zM4 26h1v1h-1zM12 26h1v1h-1zM15 26h1v1h-1zM19 26h1v1h-1zM1 27h1v1h-1zM4 27h1v1h-1zM8 27h1v1h-1zM17 27h1v1h-1zM18 27h1v1h-1zM1 28h1v1h-1zM4 28h1v1h-1zM6 28h1v1h-1zM15 28h1v1h-1zM18 28h1v1h-1zM0 29h1v1h-1zM1 29h1v1h-1zM7 29h1v1h-1zM13 29h1v1h-1zM16 29h1v1h-1zM19 29h1v1h-1zM0 30h1v1h-1zM17 30h1v1h-1zM10 31h1v1h-1zM3 32h1v1h-1zM6 32h1v1h-1zM15 32h1v1h-1zM0 33h1v1h-1zM9 33h1v1h-1zM16 33h1v1h-1zM17 33h1v1h-1zM19 33h1v1h-1zM10 34h1v1h-1zM17 34h1v1h-1zM16 35h1v1h-1z"/><path fill="#faf6f8" d="M3 0h1v1h-1zM8 0h1v1h-1zM14 0h1v1h-1zM19 0h1v1h-1zM0 1h1v1h-1zM1 1h1v1h-1zM2 1h1v1h-1zM3 1h1v1h-1zM5 1h1v1h-1zM7 1h1v1h-1zM9 1h1v1h-1zM16 1h1v1h-1zM17 1h1v1h-1zM1 2h1v1h-1zM6 3h1v1h-1zM7 3h1v1h-1zM11 3h1v1h-1zM12 3h1v1h-1zM13 3h1v1h-1zM15 3h1v1h-1zM7 4h1v1h-1zM11 5h1v1h-1zM3 6h1v1h-1zM6 6h1v1h-1zM17 6h1v1h-1zM0 7h1v1h-1zM8 7h1v1h-1zM10 7h1v1h-1zM18 7h1v1h-1zM3 8h1v1h-1zM5 8h1v1h-1zM10 8h1v1h-1zM15 8h1v1h-1zM5 9h1v1h-1zM10 9h1v1h-1zM18 9h1v1h-1zM1 10h1v1h-1zM3 10h1v1h-1zM6 10h1v1h-1zM9 10h1v1h-1zM15 10h1v1h-1zM3 11h1v1h-1zM4 11h1v1h-1zM7 11h1v1h-1zM19 11h1v1h-1zM4 12h1v1h-1zM7 12h1v1h-1zM9 12h1v1h-1zM14 12h1v1h-1zM16 12h1v1h-1zM8 13h1v1h-1zM15 13h1v1h-1zM19 13h1v1h-1zM0 14h1v1h-1zM7 14h1v1h-1zM13 14h1v1h-1zM14 14h1v1h-1zM16 14h1v1h-1zM11 15h1v1h-1zM12 15h1v1h-1zM17 15h1v1h-1zM1 17h1v1h-1zM5 17h1v1h-1zM6 17h1v1h-1zM12 17h1v1h-1zM7 18h1v1h-1zM10 18h1v1h-1zM4 19h1v1h-1zM7 19h1v1h-1zM8 19h1v1h-1zM19 19h1v1h-1zM0 20h1v1h-1zM2 20h1v1h-1zM6 20h1v1h-1zM8 20h1v1h-1zM11 20h1v1h-1zM15 20h1v1h-1zM1 21h1v1h-1zM4 21h1v1h-1zM7 21h1v1h-1zM9 21h1v1h-1zM10 21h1v1h-1zM0 22h1v1h-1zM2 22h1v1h-1zM4 22h1v1h-1zM9 22h1v1h-1zM10 22h1v1h-1zM16 22h1v1h-1zM19 22h1v1h-1zM10 23h1v1h-1zM16 23h1v1h-1zM19 23h1v1h-1zM1 24h1v1h-1zM5 24h1v1h-1zM7 25h1v1h-1zM17 25h1v1h-1zM8 26h1v1h-1zM13 26h1v1h-1zM0 27h1v1h-1zM3 27h1v1h-1zM11 27h1v1h-1zM14 27h1v1h-1zM2 28h1v1h-1zM9 28h1v1h-1zM11 28h1v1h-1zM12 28h1v1h-1zM13 28h1v1h-1zM14 28h1v1h-1zM3 29h1v1h-1zM6 30h1v1h-1zM7 30h1v1h-1zM8 30h1v1h-1zM15 30h1v1h-1zM16 30h1v1h-1zM19 30h1v1h-1zM7 31h1v1h-1zM8 31h1v1h-1zM9 31h1v1h-1zM12 31h1v1h-1zM17 31h1v1h-1zM0 32h1v1h-1zM7 32h1v1h-1zM13 33h1v1h-1zM15 33h1v1h-1zM7 34h1v1h-1zM8 34h1v1h-1zM12 34h1v1h-1zM18 34h1v1h-1zM4 35h1v1h-1zM9 35h1v1h-1z"/><path fill="#f06060" d="M10 0h1v1h-1zM13 0h1v1h-1zM8 1h1v1h-1zM11 1h1v1h-1zM13 1h1v1h-1zM4 2h1v1h-1zM7 2h1v1h-1zM9 2h1v1h-1zM11 2h1v1h-1zM13 2h1v1h-1zM1 3h1v1h-1zM10 3h1v1h-1zM16 3h1v1h-1zM19 4h1v1h-1zM9 5h1v1h-1zM14 5h1v1h-1zM16 5h1v1h-1zM17 5h1v1h-1zM1 6h1v1h-1zM15 6h1v1h-1zM2 7h1v1h-1zM6 7h1v1h-1zM13 7h1v1h-1zM17 7h1v1h-1zM12 8h1v1h-1zM0 9h1v1h-1zM2 9h1v1h-1zM4 10h1v1h-1zM13 10h1v1h-1zM16 10h1v1h-1zM5 11h1v1h-1zM8 11h1v1h-1zM10 11h1v1h-1zM14 11h1v1h-1zM15 11h1v1h-1zM5 12h1v1h-1zM6 12h1v1h-1zM11 12h1v1h-1zM19 12h1v1h-1zM2 13h1v1h-1zM5 13h1v1h-1zM7 13h1v1h-1zM13 13h1v1h-1zM12 14h1v1h-1zM15 14h1v1h-1zM17 14h1v1h-1zM19 14h1v1h-1zM1 15h1v1h-1zM7 15h1v1h-1zM9 15h1v1h-1zM10 15h1v1h-1zM14 15h1v1h-1zM15 15h1v1h-1zM13 16h1v1h-1zM10 17h1v1h-1zM11 17h1v1h-1zM15 17h1v1h-1zM16 17h1v1h-1zM14 18h1v1h-1zM18 18h1v1h-1zM9 19h1v1h-1zM10 19h1v1h-1zM13 19h1v1h-1zM9 20h1v1h-1zM13 20h1v1h-1zM17 20h1v1h-1zM0 21h1v1h-1zM5 21h1v1h-1zM15 21h1v1h-1zM16 21h1v1h-1zM1 22h1v1h-1zM5 22h1v1h-1zM8 22h1v1h-1zM12 22h1v1h-1zM15 22h1v1h-1zM18 22h1v1h-1zM5 23h1v1h-1zM7 23h1v1h-1zM8 23h1v1h-1zM14 23h1v1h-1zM17 23h1v1h-1zM2 24h1v1h-1zM13 24h1v1h-1zM16 24h1v1h-1zM0 25h1v1h-1zM16 25h1v1h-1zM2 26h1v1h-1zM7 26h1v1h-1zM10 26h1v1h-1zM16 26h1v1h-1zM5 27h1v1h-1zM7 27h1v1h-1zM12 27h1v1h-1zM3 28h1v1h-1zM5 28h1v1h-1zM4 29h1v1h-1zM8 29h1v1h-1zM12 29h1v1h-1zM14 29h1v1h-1zM9 30h1v1h-1zM0 31h1v1h-1zM1 32h1v1h-1zM5 32h1v1h-1zM16 32h1v1h-1zM18 32h1v1h-1zM2 33h1v1h-1zM3 33h1v1h-1zM4 33h1v1h-1zM6 33h1v1h-1zM10 33h1v1h-1zM0 34h1v1h-1zM1 34h1v1h-1zM13 34h1v1h-1zM14 34h1v1h-1zM15 34h1v1h-1zM19 34h1v1h-1zM0 35h1v1h-1zM6 35h1v1h-1z"/><path fill="#c4c4fc" d="M4 1h1v1h-1zM18 1h1v1h-1zM0 3h1v1h-1zM3 3h1v1h-1zM19 3h1v1h-1zM3 5h1v1h-1zM15 5h1v1h-1zM2 6h1v1h-1zM19 7h1v1h-1zM19 8h1v1h-1zM1 9h1v1h-1zM6 9h1v1h-1zM13 9h1v1h-1zM2 10h1v1h-1zM12 10h1v1h-1zM1 11h1v1h-1zM6 11h1v1h-1zM11 11h1v1h-1zM12 12h1v1h-1zM0 13h1v1h-1zM14 13h1v1h-1zM17 13h1v1h-1zM18 13h1v1h-1zM0 15h1v1h-1zM2 15h1v1h-1zM5 15h1v1h-1zM13 15h1v1h-1zM3 16h1v1h-1zM5 16h1v1h-1zM8 16h1v1h-1zM1 18h1v1h-1zM8 18h1v1h-1zM16 19h1v1h-1zM5 20h1v1h-1zM17 21h1v1h-1zM1 23h1v1h-1zM3 23h1v1h-1zM6 23h1v1h-1zM15 23h1v1h-1zM3 24h1v1h-1zM11 24h1v1h-1zM9 25h1v1h-1zM19 27h1v1h-1zM7 28h1v1h-1zM16 28h1v1h-1zM11 29h1v1h-1zM2 30h1v1h-1zM10 30h1v1h-1zM12 30h1v1h-1zM3 31h1v1h-1zM14 31h1v1h-1zM15 31h1v1h-1zM9 32h1v1h-1zM1 33h1v1h-1zM2 34h1v1h-1zM5 34h1v1h-1zM6 34h1v1h-1zM5 35h1v1h-1zM17 35h1v1h-1z"/></g></pattern><pattern id="pRR" patternUnits="userSpaceOnUse" width="15.0" height="34.199999999999996"><g transform="scale(0.75 0.95)"><path fill="#f22a2a" d="M0 0h1v1h-1zM4 0h1v1h-1zM5 0h1v1h-1zM8 0h1v1h-1zM10 0h1v1h-1zM12 0h1v1h-1zM13 0h1v1h-1zM15 0h1v1h-1zM16 0h1v1h-1zM19 0h1v1h-1zM2 1h1v1h-1zM4 1h1v1h-1zM5 1h1v1h-1zM6 1h1v1h-1zM7 1h1v1h-1zM9 1h1v1h-1zM11 1h1v1h-1zM15 1h1v1h-1zM18 1h1v1h-1zM19 1h1v1h-1zM1 2h1v1h-1zM2 2h1v1h-1zM3 2h1v1h-1zM4 2h1v1h-1zM6 2h1v1h-1zM7 2h1v1h-1zM9 2h1v1h-1zM10 2h1v1h-1zM11 2h1v1h-1zM13 2h1v1h-1zM14 2h1v1h-1zM15 2h1v1h-1zM16 2h1v1h-1zM19 2h1v1h-1zM0 3h1v1h-1zM1 3h1v1h-1zM3 3h1v1h-1zM4 3h1v1h-1zM5 3h1v1h-1zM8 3h1v1h-1zM9 3h1v1h-1zM12 3h1v1h-1zM15 3h1v1h-1zM16 3h1v1h-1zM19 3h1v1h-1zM0 4h1v1h-1zM1 4h1v1h-1zM3 4h1v1h-1zM4 4h1v1h-1zM5 4h1v1h-1zM6 4h1v1h-1zM7 4h1v1h-1zM10 4h1v1h-1zM12 4h1v1h-1zM13 4h1v1h-1zM14 4h1v1h-1zM15 4h1v1h-1zM16 4h1v1h-1zM17 4h1v1h-1zM19 4h1v1h-1zM0 5h1v1h-1zM3 5h1v1h-1zM5 5h1v1h-1zM10 5h1v1h-1zM12 5h1v1h-1zM13 5h1v1h-1zM17 5h1v1h-1zM0 6h1v1h-1zM2 6h1v1h-1zM3 6h1v1h-1zM4 6h1v1h-1zM5 6h1v1h-1zM6 6h1v1h-1zM8 6h1v1h-1zM9 6h1v1h-1zM10 6h1v1h-1zM12 6h1v1h-1zM14 6h1v1h-1zM15 6h1v1h-1zM16 6h1v1h-1zM17 6h1v1h-1zM18 6h1v1h-1zM19 6h1v1h-1zM1 7h1v1h-1zM3 7h1v1h-1zM6 7h1v1h-1zM10 7h1v1h-1zM11 7h1v1h-1zM12 7h1v1h-1zM13 7h1v1h-1zM16 7h1v1h-1zM0 8h1v1h-1zM2 8h1v1h-1zM7 8h1v1h-1zM9 8h1v1h-1zM10 8h1v1h-1zM11 8h1v1h-1zM13 8h1v1h-1zM14 8h1v1h-1zM16 8h1v1h-1zM18 8h1v1h-1zM0 9h1v1h-1zM3 9h1v1h-1zM5 9h1v1h-1zM10 9h1v1h-1zM11 9h1v1h-1zM12 9h1v1h-1zM14 9h1v1h-1zM15 9h1v1h-1zM0 10h1v1h-1zM2 10h1v1h-1zM4 10h1v1h-1zM5 10h1v1h-1zM8 10h1v1h-1zM11 10h1v1h-1zM12 10h1v1h-1zM13 10h1v1h-1zM15 10h1v1h-1zM16 10h1v1h-1zM17 10h1v1h-1zM18 10h1v1h-1zM19 10h1v1h-1zM0 11h1v1h-1zM1 11h1v1h-1zM3 11h1v1h-1zM4 11h1v1h-1zM7 11h1v1h-1zM12 11h1v1h-1zM13 11h1v1h-1zM17 11h1v1h-1zM18 11h1v1h-1zM0 12h1v1h-1zM2 12h1v1h-1zM4 12h1v1h-1zM5 12h1v1h-1zM7 12h1v1h-1zM8 12h1v1h-1zM10 12h1v1h-1zM12 12h1v1h-1zM15 12h1v1h-1zM16 12h1v1h-1zM18 12h1v1h-1zM0 13h1v1h-1zM2 13h1v1h-1zM4 13h1v1h-1zM5 13h1v1h-1zM6 13h1v1h-1zM7 13h1v1h-1zM10 13h1v1h-1zM11 13h1v1h-1zM12 13h1v1h-1zM14 13h1v1h-1zM15 13h1v1h-1zM18 13h1v1h-1zM1 14h1v1h-1zM2 14h1v1h-1zM3 14h1v1h-1zM5 14h1v1h-1zM6 14h1v1h-1zM8 14h1v1h-1zM10 14h1v1h-1zM11 14h1v1h-1zM13 14h1v1h-1zM15 14h1v1h-1zM18 14h1v1h-1zM1 15h1v1h-1zM3 15h1v1h-1zM6 15h1v1h-1zM8 15h1v1h-1zM12 15h1v1h-1zM14 15h1v1h-1zM16 15h1v1h-1zM18 15h1v1h-1zM19 15h1v1h-1zM0 16h1v1h-1zM1 16h1v1h-1zM2 16h1v1h-1zM5 16h1v1h-1zM7 16h1v1h-1zM8 16h1v1h-1zM9 16h1v1h-1zM13 16h1v1h-1zM14 16h1v1h-1zM15 16h1v1h-1zM16 16h1v1h-1zM17 16h1v1h-1zM18 16h1v1h-1zM19 16h1v1h-1zM0 17h1v1h-1zM4 17h1v1h-1zM5 17h1v1h-1zM7 17h1v1h-1zM8 17h1v1h-1zM14 17h1v1h-1zM18 17h1v1h-1zM19 17h1v1h-1zM0 18h1v1h-1zM1 18h1v1h-1zM3 18h1v1h-1zM4 18h1v1h-1zM6 18h1v1h-1zM7 18h1v1h-1zM8 18h1v1h-1zM9 18h1v1h-1zM10 18h1v1h-1zM13 18h1v1h-1zM16 18h1v1h-1zM18 18h1v1h-1zM1 19h1v1h-1zM3 19h1v1h-1zM4 19h1v1h-1zM6 19h1v1h-1zM7 19h1v1h-1zM8 19h1v1h-1zM10 19h1v1h-1zM16 19h1v1h-1zM18 19h1v1h-1zM19 19h1v1h-1zM1 20h1v1h-1zM3 20h1v1h-1zM4 20h1v1h-1zM5 20h1v1h-1zM6 20h1v1h-1zM9 20h1v1h-1zM10 20h1v1h-1zM11 20h1v1h-1zM13 20h1v1h-1zM14 20h1v1h-1zM16 20h1v1h-1zM17 20h1v1h-1zM18 20h1v1h-1zM19 20h1v1h-1zM1 21h1v1h-1zM2 21h1v1h-1zM6 21h1v1h-1zM11 21h1v1h-1zM12 21h1v1h-1zM14 21h1v1h-1zM16 21h1v1h-1zM17 21h1v1h-1zM18 21h1v1h-1zM0 22h1v1h-1zM1 22h1v1h-1zM6 22h1v1h-1zM8 22h1v1h-1zM9 22h1v1h-1zM14 22h1v1h-1zM15 22h1v1h-1zM16 22h1v1h-1zM18 22h1v1h-1zM19 22h1v1h-1zM0 23h1v1h-1zM1 23h1v1h-1zM3 23h1v1h-1zM4 23h1v1h-1zM6 23h1v1h-1zM7 23h1v1h-1zM8 23h1v1h-1zM10 23h1v1h-1zM15 23h1v1h-1zM17 23h1v1h-1zM19 23h1v1h-1zM0 24h1v1h-1zM1 24h1v1h-1zM3 24h1v1h-1zM5 24h1v1h-1zM6 24h1v1h-1zM7 24h1v1h-1zM11 24h1v1h-1zM12 24h1v1h-1zM16 24h1v1h-1zM0 25h1v1h-1zM2 25h1v1h-1zM3 25h1v1h-1zM4 25h1v1h-1zM5 25h1v1h-1zM7 25h1v1h-1zM8 25h1v1h-1zM10 25h1v1h-1zM11 25h1v1h-1zM14 25h1v1h-1zM16 25h1v1h-1zM17 25h1v1h-1zM19 25h1v1h-1zM1 26h1v1h-1zM2 26h1v1h-1zM3 26h1v1h-1zM4 26h1v1h-1zM9 26h1v1h-1zM10 26h1v1h-1zM11 26h1v1h-1zM12 26h1v1h-1zM13 26h1v1h-1zM16 26h1v1h-1zM18 26h1v1h-1zM8 27h1v1h-1zM12 27h1v1h-1zM14 27h1v1h-1zM15 27h1v1h-1zM17 27h1v1h-1zM19 27h1v1h-1zM1 28h1v1h-1zM2 28h1v1h-1zM3 28h1v1h-1zM4 28h1v1h-1zM6 28h1v1h-1zM7 28h1v1h-1zM8 28h1v1h-1zM10 28h1v1h-1zM14 28h1v1h-1zM15 28h1v1h-1zM16 28h1v1h-1zM17 28h1v1h-1zM19 28h1v1h-1zM2 29h1v1h-1zM3 29h1v1h-1zM5 29h1v1h-1zM6 29h1v1h-1zM8 29h1v1h-1zM9 29h1v1h-1zM10 29h1v1h-1zM11 29h1v1h-1zM13 29h1v1h-1zM16 29h1v1h-1zM17 29h1v1h-1zM19 29h1v1h-1zM1 30h1v1h-1zM2 30h1v1h-1zM3 30h1v1h-1zM4 30h1v1h-1zM5 30h1v1h-1zM6 30h1v1h-1zM11 30h1v1h-1zM13 30h1v1h-1zM15 30h1v1h-1zM17 30h1v1h-1zM19 30h1v1h-1zM1 31h1v1h-1zM3 31h1v1h-1zM4 31h1v1h-1zM5 31h1v1h-1zM8 31h1v1h-1zM10 31h1v1h-1zM11 31h1v1h-1zM12 31h1v1h-1zM13 31h1v1h-1zM14 31h1v1h-1zM16 31h1v1h-1zM1 32h1v1h-1zM3 32h1v1h-1zM4 32h1v1h-1zM5 32h1v1h-1zM9 32h1v1h-1zM10 32h1v1h-1zM11 32h1v1h-1zM15 32h1v1h-1zM16 32h1v1h-1zM17 32h1v1h-1zM18 32h1v1h-1zM0 33h1v1h-1zM1 33h1v1h-1zM2 33h1v1h-1zM3 33h1v1h-1zM4 33h1v1h-1zM5 33h1v1h-1zM8 33h1v1h-1zM9 33h1v1h-1zM10 33h1v1h-1zM11 33h1v1h-1zM14 33h1v1h-1zM15 33h1v1h-1zM16 33h1v1h-1zM18 33h1v1h-1zM19 33h1v1h-1zM1 34h1v1h-1zM4 34h1v1h-1zM6 34h1v1h-1zM8 34h1v1h-1zM9 34h1v1h-1zM10 34h1v1h-1zM13 34h1v1h-1zM15 34h1v1h-1zM19 34h1v1h-1zM0 35h1v1h-1zM1 35h1v1h-1zM2 35h1v1h-1zM3 35h1v1h-1zM4 35h1v1h-1zM5 35h1v1h-1zM7 35h1v1h-1zM8 35h1v1h-1zM9 35h1v1h-1zM10 35h1v1h-1zM11 35h1v1h-1zM15 35h1v1h-1zM18 35h1v1h-1z"/><path fill="#f4b0b0" d="M1 0h1v1h-1zM6 0h1v1h-1zM9 0h1v1h-1zM11 0h1v1h-1zM17 0h1v1h-1zM14 1h1v1h-1zM5 2h1v1h-1zM12 2h1v1h-1zM17 2h1v1h-1zM10 3h1v1h-1zM13 3h1v1h-1zM4 5h1v1h-1zM9 5h1v1h-1zM16 5h1v1h-1zM7 6h1v1h-1zM13 6h1v1h-1zM0 7h1v1h-1zM8 8h1v1h-1zM15 8h1v1h-1zM17 9h1v1h-1zM18 9h1v1h-1zM7 10h1v1h-1zM9 11h1v1h-1zM11 11h1v1h-1zM14 11h1v1h-1zM16 11h1v1h-1zM19 11h1v1h-1zM3 12h1v1h-1zM3 13h1v1h-1zM7 14h1v1h-1zM14 14h1v1h-1zM16 14h1v1h-1zM17 14h1v1h-1zM5 15h1v1h-1zM13 15h1v1h-1zM11 16h1v1h-1zM1 17h1v1h-1zM12 17h1v1h-1zM17 17h1v1h-1zM11 18h1v1h-1zM19 18h1v1h-1zM11 19h1v1h-1zM8 20h1v1h-1zM0 21h1v1h-1zM4 21h1v1h-1zM5 21h1v1h-1zM10 21h1v1h-1zM15 21h1v1h-1zM19 21h1v1h-1zM2 22h1v1h-1zM12 23h1v1h-1zM8 24h1v1h-1zM10 24h1v1h-1zM19 24h1v1h-1zM1 25h1v1h-1zM9 25h1v1h-1zM5 26h1v1h-1zM7 26h1v1h-1zM14 26h1v1h-1zM0 27h1v1h-1zM5 28h1v1h-1zM13 28h1v1h-1zM18 28h1v1h-1zM14 29h1v1h-1zM8 30h1v1h-1zM12 30h1v1h-1zM14 30h1v1h-1zM16 30h1v1h-1zM0 31h1v1h-1zM2 31h1v1h-1zM17 31h1v1h-1zM6 32h1v1h-1zM8 32h1v1h-1zM14 32h1v1h-1zM19 32h1v1h-1zM7 33h1v1h-1zM14 34h1v1h-1zM17 34h1v1h-1zM18 34h1v1h-1zM12 35h1v1h-1zM19 35h1v1h-1z"/><path fill="#f06060" d="M2 0h1v1h-1zM7 0h1v1h-1zM18 0h1v1h-1zM0 1h1v1h-1zM1 1h1v1h-1zM3 1h1v1h-1zM12 1h1v1h-1zM16 1h1v1h-1zM17 1h1v1h-1zM18 2h1v1h-1zM2 3h1v1h-1zM11 3h1v1h-1zM17 3h1v1h-1zM2 4h1v1h-1zM9 4h1v1h-1zM1 5h1v1h-1zM6 5h1v1h-1zM7 5h1v1h-1zM15 5h1v1h-1zM19 5h1v1h-1zM11 6h1v1h-1zM2 7h1v1h-1zM4 7h1v1h-1zM5 7h1v1h-1zM8 7h1v1h-1zM9 7h1v1h-1zM17 7h1v1h-1zM19 7h1v1h-1zM12 8h1v1h-1zM17 8h1v1h-1zM1 9h1v1h-1zM2 9h1v1h-1zM6 10h1v1h-1zM9 10h1v1h-1zM6 11h1v1h-1zM8 11h1v1h-1zM10 11h1v1h-1zM15 11h1v1h-1zM1 12h1v1h-1zM9 12h1v1h-1zM14 12h1v1h-1zM17 12h1v1h-1zM19 12h1v1h-1zM8 13h1v1h-1zM13 13h1v1h-1zM17 13h1v1h-1zM12 14h1v1h-1zM2 15h1v1h-1zM4 15h1v1h-1zM7 15h1v1h-1zM10 15h1v1h-1zM15 15h1v1h-1zM3 16h1v1h-1zM12 16h1v1h-1zM10 17h1v1h-1zM16 17h1v1h-1zM5 18h1v1h-1zM12 18h1v1h-1zM15 18h1v1h-1zM12 19h1v1h-1zM0 20h1v1h-1zM7 20h1v1h-1zM3 21h1v1h-1zM5 22h1v1h-1zM12 22h1v1h-1zM11 23h1v1h-1zM13 23h1v1h-1zM16 23h1v1h-1zM2 24h1v1h-1zM4 24h1v1h-1zM18 24h1v1h-1zM6 25h1v1h-1zM15 25h1v1h-1zM8 26h1v1h-1zM15 26h1v1h-1zM1 27h1v1h-1zM2 27h1v1h-1zM3 27h1v1h-1zM6 27h1v1h-1zM11 27h1v1h-1zM18 27h1v1h-1zM9 28h1v1h-1zM11 28h1v1h-1zM0 29h1v1h-1zM4 29h1v1h-1zM7 29h1v1h-1zM15 29h1v1h-1zM0 30h1v1h-1zM7 30h1v1h-1zM6 31h1v1h-1zM7 31h1v1h-1zM18 31h1v1h-1zM7 32h1v1h-1zM13 32h1v1h-1zM12 33h1v1h-1zM17 33h1v1h-1zM0 34h1v1h-1zM3 34h1v1h-1zM11 34h1v1h-1zM12 34h1v1h-1zM16 35h1v1h-1z"/><path fill="#faf6f8" d="M3 0h1v1h-1zM14 0h1v1h-1zM13 1h1v1h-1zM0 2h1v1h-1zM8 2h1v1h-1zM6 3h1v1h-1zM7 3h1v1h-1zM14 3h1v1h-1zM18 3h1v1h-1zM11 4h1v1h-1zM18 4h1v1h-1zM2 5h1v1h-1zM8 5h1v1h-1zM11 5h1v1h-1zM14 5h1v1h-1zM18 5h1v1h-1zM1 6h1v1h-1zM7 7h1v1h-1zM14 7h1v1h-1zM15 7h1v1h-1zM18 7h1v1h-1zM1 8h1v1h-1zM4 8h1v1h-1zM5 8h1v1h-1zM6 8h1v1h-1zM7 9h1v1h-1zM8 9h1v1h-1zM9 9h1v1h-1zM13 9h1v1h-1zM16 9h1v1h-1zM19 9h1v1h-1zM1 10h1v1h-1zM3 10h1v1h-1zM10 10h1v1h-1zM14 10h1v1h-1zM2 11h1v1h-1zM5 11h1v1h-1zM6 12h1v1h-1zM11 12h1v1h-1zM13 12h1v1h-1zM1 13h1v1h-1zM9 13h1v1h-1zM16 13h1v1h-1zM19 13h1v1h-1zM4 14h1v1h-1zM9 14h1v1h-1zM19 14h1v1h-1zM0 15h1v1h-1zM9 15h1v1h-1zM11 15h1v1h-1zM17 15h1v1h-1zM6 16h1v1h-1zM2 17h1v1h-1zM3 17h1v1h-1zM6 17h1v1h-1zM9 17h1v1h-1zM11 17h1v1h-1zM13 17h1v1h-1zM15 17h1v1h-1zM2 18h1v1h-1zM14 18h1v1h-1zM17 18h1v1h-1zM0 19h1v1h-1zM2 19h1v1h-1zM5 19h1v1h-1zM9 19h1v1h-1zM14 19h1v1h-1zM15 19h1v1h-1zM17 19h1v1h-1zM12 20h1v1h-1zM15 20h1v1h-1zM7 21h1v1h-1zM8 21h1v1h-1zM9 21h1v1h-1zM13 21h1v1h-1zM3 22h1v1h-1zM4 22h1v1h-1zM7 22h1v1h-1zM10 22h1v1h-1zM11 22h1v1h-1zM13 22h1v1h-1zM17 22h1v1h-1zM2 23h1v1h-1zM9 23h1v1h-1zM14 23h1v1h-1zM18 23h1v1h-1zM9 24h1v1h-1zM13 24h1v1h-1zM14 24h1v1h-1zM17 24h1v1h-1zM12 25h1v1h-1zM13 25h1v1h-1zM17 26h1v1h-1zM19 26h1v1h-1zM4 27h1v1h-1zM7 27h1v1h-1zM9 27h1v1h-1zM10 27h1v1h-1zM13 27h1v1h-1zM16 27h1v1h-1zM0 28h1v1h-1zM12 28h1v1h-1zM1 29h1v1h-1zM12 29h1v1h-1zM18 29h1v1h-1zM9 30h1v1h-1zM10 30h1v1h-1zM18 30h1v1h-1zM9 31h1v1h-1zM15 31h1v1h-1zM19 31h1v1h-1zM0 32h1v1h-1zM2 32h1v1h-1zM12 32h1v1h-1zM6 33h1v1h-1zM2 34h1v1h-1zM7 34h1v1h-1zM16 34h1v1h-1zM13 35h1v1h-1zM14 35h1v1h-1zM17 35h1v1h-1z"/><path fill="#c4c4fc" d="M8 1h1v1h-1zM10 1h1v1h-1zM8 4h1v1h-1zM3 8h1v1h-1zM19 8h1v1h-1zM4 9h1v1h-1zM6 9h1v1h-1zM0 14h1v1h-1zM4 16h1v1h-1zM10 16h1v1h-1zM13 19h1v1h-1zM2 20h1v1h-1zM5 23h1v1h-1zM15 24h1v1h-1zM18 25h1v1h-1zM0 26h1v1h-1zM6 26h1v1h-1zM5 27h1v1h-1zM13 33h1v1h-1zM5 34h1v1h-1zM6 35h1v1h-1z"/></g></pattern><pattern id="pW" patternUnits="userSpaceOnUse" width="15.0" height="34.199999999999996"><g transform="scale(0.75 0.95)"><path fill="#c4c4fc" d="M0 0h1v1h-1zM2 0h1v1h-1zM4 0h1v1h-1zM6 0h1v1h-1zM7 0h1v1h-1zM8 0h1v1h-1zM9 0h1v1h-1zM12 0h1v1h-1zM16 0h1v1h-1zM17 0h1v1h-1zM18 0h1v1h-1zM0 1h1v1h-1zM1 1h1v1h-1zM6 1h1v1h-1zM8 1h1v1h-1zM9 1h1v1h-1zM10 1h1v1h-1zM12 1h1v1h-1zM13 1h1v1h-1zM14 1h1v1h-1zM15 1h1v1h-1zM19 1h1v1h-1zM0 2h1v1h-1zM1 2h1v1h-1zM3 2h1v1h-1zM4 2h1v1h-1zM9 2h1v1h-1zM10 2h1v1h-1zM12 2h1v1h-1zM14 2h1v1h-1zM18 2h1v1h-1zM0 3h1v1h-1zM4 3h1v1h-1zM5 3h1v1h-1zM6 3h1v1h-1zM8 3h1v1h-1zM10 3h1v1h-1zM11 3h1v1h-1zM12 3h1v1h-1zM15 3h1v1h-1zM16 3h1v1h-1zM18 3h1v1h-1zM19 3h1v1h-1zM0 4h1v1h-1zM3 4h1v1h-1zM4 4h1v1h-1zM6 4h1v1h-1zM7 4h1v1h-1zM8 4h1v1h-1zM13 4h1v1h-1zM16 4h1v1h-1zM17 4h1v1h-1zM18 4h1v1h-1zM0 5h1v1h-1zM1 5h1v1h-1zM2 5h1v1h-1zM3 5h1v1h-1zM5 5h1v1h-1zM8 5h1v1h-1zM11 5h1v1h-1zM13 5h1v1h-1zM14 5h1v1h-1zM17 5h1v1h-1zM18 5h1v1h-1zM2 6h1v1h-1zM3 6h1v1h-1zM5 6h1v1h-1zM6 6h1v1h-1zM8 6h1v1h-1zM12 6h1v1h-1zM13 6h1v1h-1zM14 6h1v1h-1zM15 6h1v1h-1zM17 6h1v1h-1zM19 6h1v1h-1zM1 7h1v1h-1zM2 7h1v1h-1zM3 7h1v1h-1zM4 7h1v1h-1zM5 7h1v1h-1zM6 7h1v1h-1zM9 7h1v1h-1zM10 7h1v1h-1zM12 7h1v1h-1zM15 7h1v1h-1zM16 7h1v1h-1zM18 7h1v1h-1zM19 7h1v1h-1zM0 8h1v1h-1zM5 8h1v1h-1zM7 8h1v1h-1zM8 8h1v1h-1zM9 8h1v1h-1zM11 8h1v1h-1zM13 8h1v1h-1zM14 8h1v1h-1zM15 8h1v1h-1zM16 8h1v1h-1zM17 8h1v1h-1zM0 9h1v1h-1zM4 9h1v1h-1zM6 9h1v1h-1zM7 9h1v1h-1zM8 9h1v1h-1zM11 9h1v1h-1zM14 9h1v1h-1zM15 9h1v1h-1zM17 9h1v1h-1zM0 10h1v1h-1zM2 10h1v1h-1zM3 10h1v1h-1zM4 10h1v1h-1zM9 10h1v1h-1zM11 10h1v1h-1zM13 10h1v1h-1zM14 10h1v1h-1zM16 10h1v1h-1zM18 10h1v1h-1zM19 10h1v1h-1zM0 11h1v1h-1zM1 11h1v1h-1zM4 11h1v1h-1zM5 11h1v1h-1zM6 11h1v1h-1zM7 11h1v1h-1zM8 11h1v1h-1zM10 11h1v1h-1zM13 11h1v1h-1zM14 11h1v1h-1zM16 11h1v1h-1zM17 11h1v1h-1zM19 11h1v1h-1zM0 12h1v1h-1zM2 12h1v1h-1zM5 12h1v1h-1zM6 12h1v1h-1zM7 12h1v1h-1zM8 12h1v1h-1zM11 12h1v1h-1zM12 12h1v1h-1zM13 12h1v1h-1zM15 12h1v1h-1zM17 12h1v1h-1zM18 12h1v1h-1zM19 12h1v1h-1zM2 13h1v1h-1zM4 13h1v1h-1zM8 13h1v1h-1zM10 13h1v1h-1zM12 13h1v1h-1zM13 13h1v1h-1zM17 13h1v1h-1zM0 14h1v1h-1zM1 14h1v1h-1zM3 14h1v1h-1zM4 14h1v1h-1zM5 14h1v1h-1zM6 14h1v1h-1zM7 14h1v1h-1zM8 14h1v1h-1zM9 14h1v1h-1zM10 14h1v1h-1zM11 14h1v1h-1zM12 14h1v1h-1zM14 14h1v1h-1zM18 14h1v1h-1zM19 14h1v1h-1zM0 15h1v1h-1zM3 15h1v1h-1zM4 15h1v1h-1zM7 15h1v1h-1zM8 15h1v1h-1zM9 15h1v1h-1zM10 15h1v1h-1zM13 15h1v1h-1zM16 15h1v1h-1zM19 15h1v1h-1zM0 16h1v1h-1zM4 16h1v1h-1zM8 16h1v1h-1zM9 16h1v1h-1zM10 16h1v1h-1zM12 16h1v1h-1zM14 16h1v1h-1zM15 16h1v1h-1zM16 16h1v1h-1zM17 16h1v1h-1zM18 16h1v1h-1zM19 16h1v1h-1zM2 17h1v1h-1zM3 17h1v1h-1zM4 17h1v1h-1zM5 17h1v1h-1zM6 17h1v1h-1zM7 17h1v1h-1zM8 17h1v1h-1zM10 17h1v1h-1zM12 17h1v1h-1zM13 17h1v1h-1zM15 17h1v1h-1zM16 17h1v1h-1zM17 17h1v1h-1zM1 18h1v1h-1zM4 18h1v1h-1zM6 18h1v1h-1zM7 18h1v1h-1zM9 18h1v1h-1zM10 18h1v1h-1zM11 18h1v1h-1zM12 18h1v1h-1zM13 18h1v1h-1zM15 18h1v1h-1zM16 18h1v1h-1zM1 19h1v1h-1zM4 19h1v1h-1zM5 19h1v1h-1zM7 19h1v1h-1zM8 19h1v1h-1zM9 19h1v1h-1zM10 19h1v1h-1zM11 19h1v1h-1zM16 19h1v1h-1zM18 19h1v1h-1zM19 19h1v1h-1zM1 20h1v1h-1zM2 20h1v1h-1zM3 20h1v1h-1zM6 20h1v1h-1zM8 20h1v1h-1zM9 20h1v1h-1zM10 20h1v1h-1zM11 20h1v1h-1zM15 20h1v1h-1zM19 20h1v1h-1zM4 21h1v1h-1zM5 21h1v1h-1zM7 21h1v1h-1zM9 21h1v1h-1zM10 21h1v1h-1zM11 21h1v1h-1zM13 21h1v1h-1zM14 21h1v1h-1zM15 21h1v1h-1zM17 21h1v1h-1zM18 21h1v1h-1zM0 22h1v1h-1zM1 22h1v1h-1zM2 22h1v1h-1zM4 22h1v1h-1zM5 22h1v1h-1zM7 22h1v1h-1zM11 22h1v1h-1zM12 22h1v1h-1zM17 22h1v1h-1zM18 22h1v1h-1zM0 23h1v1h-1zM2 23h1v1h-1zM5 23h1v1h-1zM6 23h1v1h-1zM8 23h1v1h-1zM11 23h1v1h-1zM13 23h1v1h-1zM16 23h1v1h-1zM17 23h1v1h-1zM18 23h1v1h-1zM1 24h1v1h-1zM2 24h1v1h-1zM3 24h1v1h-1zM5 24h1v1h-1zM6 24h1v1h-1zM7 24h1v1h-1zM8 24h1v1h-1zM9 24h1v1h-1zM10 24h1v1h-1zM12 24h1v1h-1zM13 24h1v1h-1zM14 24h1v1h-1zM16 24h1v1h-1zM17 24h1v1h-1zM18 24h1v1h-1zM19 24h1v1h-1zM0 25h1v1h-1zM4 25h1v1h-1zM5 25h1v1h-1zM7 25h1v1h-1zM8 25h1v1h-1zM10 25h1v1h-1zM11 25h1v1h-1zM12 25h1v1h-1zM13 25h1v1h-1zM14 25h1v1h-1zM15 25h1v1h-1zM19 25h1v1h-1zM1 26h1v1h-1zM2 26h1v1h-1zM5 26h1v1h-1zM7 26h1v1h-1zM9 26h1v1h-1zM10 26h1v1h-1zM13 26h1v1h-1zM15 26h1v1h-1zM16 26h1v1h-1zM19 26h1v1h-1zM1 27h1v1h-1zM3 27h1v1h-1zM5 27h1v1h-1zM6 27h1v1h-1zM7 27h1v1h-1zM9 27h1v1h-1zM11 27h1v1h-1zM18 27h1v1h-1zM19 27h1v1h-1zM0 28h1v1h-1zM2 28h1v1h-1zM5 28h1v1h-1zM6 28h1v1h-1zM7 28h1v1h-1zM8 28h1v1h-1zM14 28h1v1h-1zM18 28h1v1h-1zM0 29h1v1h-1zM2 29h1v1h-1zM5 29h1v1h-1zM6 29h1v1h-1zM7 29h1v1h-1zM8 29h1v1h-1zM12 29h1v1h-1zM13 29h1v1h-1zM16 29h1v1h-1zM19 29h1v1h-1zM0 30h1v1h-1zM1 30h1v1h-1zM2 30h1v1h-1zM3 30h1v1h-1zM4 30h1v1h-1zM7 30h1v1h-1zM9 30h1v1h-1zM11 30h1v1h-1zM12 30h1v1h-1zM13 30h1v1h-1zM15 30h1v1h-1zM18 30h1v1h-1zM19 30h1v1h-1zM1 31h1v1h-1zM3 31h1v1h-1zM4 31h1v1h-1zM9 31h1v1h-1zM12 31h1v1h-1zM15 31h1v1h-1zM16 31h1v1h-1zM17 31h1v1h-1zM0 32h1v1h-1zM2 32h1v1h-1zM3 32h1v1h-1zM4 32h1v1h-1zM6 32h1v1h-1zM8 32h1v1h-1zM11 32h1v1h-1zM12 32h1v1h-1zM13 32h1v1h-1zM15 32h1v1h-1zM16 32h1v1h-1zM17 32h1v1h-1zM18 32h1v1h-1zM3 33h1v1h-1zM4 33h1v1h-1zM5 33h1v1h-1zM6 33h1v1h-1zM9 33h1v1h-1zM10 33h1v1h-1zM11 33h1v1h-1zM13 33h1v1h-1zM16 33h1v1h-1zM17 33h1v1h-1zM18 33h1v1h-1zM1 34h1v1h-1zM6 34h1v1h-1zM7 34h1v1h-1zM9 34h1v1h-1zM14 34h1v1h-1zM16 34h1v1h-1zM17 34h1v1h-1zM19 34h1v1h-1zM3 35h1v1h-1zM4 35h1v1h-1zM7 35h1v1h-1zM8 35h1v1h-1zM9 35h1v1h-1zM10 35h1v1h-1zM14 35h1v1h-1zM16 35h1v1h-1zM17 35h1v1h-1zM19 35h1v1h-1z"/><path fill="#f22a2a" d="M1 0h1v1h-1zM5 0h1v1h-1zM16 1h1v1h-1zM11 4h1v1h-1zM4 5h1v1h-1zM18 6h1v1h-1zM6 15h1v1h-1zM8 21h1v1h-1zM6 22h1v1h-1zM10 23h1v1h-1zM0 24h1v1h-1zM17 25h1v1h-1zM19 32h1v1h-1zM1 35h1v1h-1zM5 35h1v1h-1zM6 35h1v1h-1z"/><path fill="#faf6f8" d="M3 0h1v1h-1zM10 0h1v1h-1zM11 0h1v1h-1zM13 0h1v1h-1zM14 0h1v1h-1zM15 0h1v1h-1zM19 0h1v1h-1zM2 1h1v1h-1zM3 1h1v1h-1zM4 1h1v1h-1zM7 1h1v1h-1zM11 1h1v1h-1zM17 1h1v1h-1zM18 1h1v1h-1zM2 2h1v1h-1zM6 2h1v1h-1zM8 2h1v1h-1zM11 2h1v1h-1zM13 2h1v1h-1zM15 2h1v1h-1zM16 2h1v1h-1zM17 2h1v1h-1zM19 2h1v1h-1zM1 3h1v1h-1zM2 3h1v1h-1zM7 3h1v1h-1zM9 3h1v1h-1zM13 3h1v1h-1zM17 3h1v1h-1zM5 4h1v1h-1zM9 4h1v1h-1zM12 4h1v1h-1zM14 4h1v1h-1zM15 4h1v1h-1zM19 4h1v1h-1zM6 5h1v1h-1zM7 5h1v1h-1zM9 5h1v1h-1zM10 5h1v1h-1zM12 5h1v1h-1zM15 5h1v1h-1zM16 5h1v1h-1zM19 5h1v1h-1zM1 6h1v1h-1zM4 6h1v1h-1zM7 6h1v1h-1zM9 6h1v1h-1zM11 6h1v1h-1zM16 6h1v1h-1zM0 7h1v1h-1zM7 7h1v1h-1zM8 7h1v1h-1zM11 7h1v1h-1zM13 7h1v1h-1zM14 7h1v1h-1zM17 7h1v1h-1zM1 8h1v1h-1zM2 8h1v1h-1zM3 8h1v1h-1zM4 8h1v1h-1zM12 8h1v1h-1zM18 8h1v1h-1zM19 8h1v1h-1zM2 9h1v1h-1zM3 9h1v1h-1zM5 9h1v1h-1zM9 9h1v1h-1zM10 9h1v1h-1zM12 9h1v1h-1zM13 9h1v1h-1zM16 9h1v1h-1zM19 9h1v1h-1zM1 10h1v1h-1zM5 10h1v1h-1zM7 10h1v1h-1zM8 10h1v1h-1zM10 10h1v1h-1zM12 10h1v1h-1zM15 10h1v1h-1zM17 10h1v1h-1zM2 11h1v1h-1zM3 11h1v1h-1zM9 11h1v1h-1zM11 11h1v1h-1zM12 11h1v1h-1zM15 11h1v1h-1zM18 11h1v1h-1zM1 12h1v1h-1zM3 12h1v1h-1zM4 12h1v1h-1zM9 12h1v1h-1zM10 12h1v1h-1zM14 12h1v1h-1zM16 12h1v1h-1zM0 13h1v1h-1zM1 13h1v1h-1zM3 13h1v1h-1zM6 13h1v1h-1zM7 13h1v1h-1zM9 13h1v1h-1zM14 13h1v1h-1zM15 13h1v1h-1zM16 13h1v1h-1zM18 13h1v1h-1zM19 13h1v1h-1zM2 14h1v1h-1zM15 14h1v1h-1zM16 14h1v1h-1zM17 14h1v1h-1zM1 15h1v1h-1zM2 15h1v1h-1zM5 15h1v1h-1zM11 15h1v1h-1zM14 15h1v1h-1zM15 15h1v1h-1zM18 15h1v1h-1zM1 16h1v1h-1zM2 16h1v1h-1zM3 16h1v1h-1zM6 16h1v1h-1zM7 16h1v1h-1zM13 16h1v1h-1zM0 17h1v1h-1zM1 17h1v1h-1zM9 17h1v1h-1zM11 17h1v1h-1zM14 17h1v1h-1zM18 17h1v1h-1zM19 17h1v1h-1zM0 18h1v1h-1zM2 18h1v1h-1zM3 18h1v1h-1zM5 18h1v1h-1zM8 18h1v1h-1zM14 18h1v1h-1zM18 18h1v1h-1zM19 18h1v1h-1zM0 19h1v1h-1zM2 19h1v1h-1zM3 19h1v1h-1zM6 19h1v1h-1zM12 19h1v1h-1zM14 19h1v1h-1zM15 19h1v1h-1zM17 19h1v1h-1zM0 20h1v1h-1zM4 20h1v1h-1zM5 20h1v1h-1zM7 20h1v1h-1zM12 20h1v1h-1zM14 20h1v1h-1zM16 20h1v1h-1zM17 20h1v1h-1zM0 21h1v1h-1zM2 21h1v1h-1zM6 21h1v1h-1zM12 21h1v1h-1zM16 21h1v1h-1zM19 21h1v1h-1zM3 22h1v1h-1zM8 22h1v1h-1zM9 22h1v1h-1zM10 22h1v1h-1zM13 22h1v1h-1zM15 22h1v1h-1zM16 22h1v1h-1zM19 22h1v1h-1zM1 23h1v1h-1zM3 23h1v1h-1zM4 23h1v1h-1zM7 23h1v1h-1zM9 23h1v1h-1zM15 23h1v1h-1zM19 23h1v1h-1zM4 24h1v1h-1zM15 24h1v1h-1zM3 25h1v1h-1zM6 25h1v1h-1zM9 25h1v1h-1zM16 25h1v1h-1zM18 25h1v1h-1zM3 26h1v1h-1zM4 26h1v1h-1zM6 26h1v1h-1zM11 26h1v1h-1zM12 26h1v1h-1zM14 26h1v1h-1zM17 26h1v1h-1zM18 26h1v1h-1zM2 27h1v1h-1zM4 27h1v1h-1zM10 27h1v1h-1zM12 27h1v1h-1zM13 27h1v1h-1zM14 27h1v1h-1zM15 27h1v1h-1zM16 27h1v1h-1zM17 27h1v1h-1zM1 28h1v1h-1zM3 28h1v1h-1zM4 28h1v1h-1zM9 28h1v1h-1zM10 28h1v1h-1zM11 28h1v1h-1zM12 28h1v1h-1zM13 28h1v1h-1zM16 28h1v1h-1zM17 28h1v1h-1zM19 28h1v1h-1zM1 29h1v1h-1zM3 29h1v1h-1zM4 29h1v1h-1zM9 29h1v1h-1zM10 29h1v1h-1zM11 29h1v1h-1zM14 29h1v1h-1zM15 29h1v1h-1zM17 29h1v1h-1zM18 29h1v1h-1zM5 30h1v1h-1zM6 30h1v1h-1zM8 30h1v1h-1zM10 30h1v1h-1zM16 30h1v1h-1zM17 30h1v1h-1zM0 31h1v1h-1zM2 31h1v1h-1zM6 31h1v1h-1zM7 31h1v1h-1zM8 31h1v1h-1zM11 31h1v1h-1zM14 31h1v1h-1zM1 32h1v1h-1zM5 32h1v1h-1zM7 32h1v1h-1zM0 33h1v1h-1zM1 33h1v1h-1zM2 33h1v1h-1zM7 33h1v1h-1zM12 33h1v1h-1zM14 33h1v1h-1zM15 33h1v1h-1zM0 34h1v1h-1zM2 34h1v1h-1zM4 34h1v1h-1zM5 34h1v1h-1zM8 34h1v1h-1zM10 34h1v1h-1zM11 34h1v1h-1zM12 34h1v1h-1zM13 34h1v1h-1zM15 34h1v1h-1zM18 34h1v1h-1zM0 35h1v1h-1zM2 35h1v1h-1zM11 35h1v1h-1zM12 35h1v1h-1zM13 35h1v1h-1zM15 35h1v1h-1z"/><path fill="#f4b0b0" d="M5 1h1v1h-1zM5 2h1v1h-1zM7 2h1v1h-1zM3 3h1v1h-1zM1 4h1v1h-1zM2 4h1v1h-1zM10 4h1v1h-1zM0 6h1v1h-1zM10 6h1v1h-1zM6 8h1v1h-1zM10 8h1v1h-1zM1 9h1v1h-1zM5 13h1v1h-1zM11 13h1v1h-1zM12 15h1v1h-1zM17 15h1v1h-1zM5 16h1v1h-1zM11 16h1v1h-1zM17 18h1v1h-1zM13 19h1v1h-1zM13 20h1v1h-1zM18 20h1v1h-1zM1 21h1v1h-1zM3 21h1v1h-1zM14 22h1v1h-1zM12 23h1v1h-1zM11 24h1v1h-1zM2 25h1v1h-1zM0 26h1v1h-1zM8 26h1v1h-1zM0 27h1v1h-1zM8 27h1v1h-1zM15 28h1v1h-1zM5 31h1v1h-1zM18 31h1v1h-1zM9 32h1v1h-1zM14 32h1v1h-1zM8 33h1v1h-1zM19 33h1v1h-1zM3 34h1v1h-1z"/><path fill="#f06060" d="M14 3h1v1h-1zM18 9h1v1h-1zM6 10h1v1h-1zM13 14h1v1h-1zM14 23h1v1h-1zM1 25h1v1h-1zM14 30h1v1h-1zM10 31h1v1h-1zM13 31h1v1h-1zM19 31h1v1h-1zM10 32h1v1h-1zM18 35h1v1h-1z"/></g></pattern><pattern id="pW2" patternUnits="userSpaceOnUse" width="15.0" height="34.199999999999996"><g transform="scale(0.75 0.95)"><path fill="#faf6f8" d="M0 0h1v1h-1zM1 0h1v1h-1zM2 0h1v1h-1zM3 0h1v1h-1zM4 0h1v1h-1zM9 0h1v1h-1zM10 0h1v1h-1zM13 0h1v1h-1zM1 1h1v1h-1zM5 1h1v1h-1zM8 1h1v1h-1zM9 1h1v1h-1zM17 1h1v1h-1zM0 2h1v1h-1zM1 2h1v1h-1zM7 2h1v1h-1zM9 2h1v1h-1zM11 2h1v1h-1zM12 2h1v1h-1zM13 2h1v1h-1zM17 2h1v1h-1zM18 2h1v1h-1zM19 2h1v1h-1zM1 3h1v1h-1zM2 3h1v1h-1zM3 3h1v1h-1zM4 4h1v1h-1zM8 4h1v1h-1zM10 4h1v1h-1zM12 4h1v1h-1zM18 4h1v1h-1zM1 5h1v1h-1zM4 5h1v1h-1zM9 5h1v1h-1zM16 5h1v1h-1zM18 5h1v1h-1zM3 6h1v1h-1zM4 6h1v1h-1zM5 6h1v1h-1zM6 6h1v1h-1zM7 6h1v1h-1zM8 6h1v1h-1zM9 6h1v1h-1zM14 6h1v1h-1zM15 6h1v1h-1zM19 6h1v1h-1zM2 7h1v1h-1zM3 7h1v1h-1zM5 7h1v1h-1zM9 7h1v1h-1zM10 7h1v1h-1zM19 7h1v1h-1zM6 8h1v1h-1zM7 8h1v1h-1zM9 8h1v1h-1zM11 8h1v1h-1zM12 8h1v1h-1zM5 9h1v1h-1zM11 9h1v1h-1zM0 10h1v1h-1zM4 10h1v1h-1zM6 10h1v1h-1zM9 10h1v1h-1zM14 10h1v1h-1zM16 10h1v1h-1zM17 10h1v1h-1zM19 10h1v1h-1zM2 11h1v1h-1zM4 11h1v1h-1zM9 11h1v1h-1zM11 11h1v1h-1zM18 11h1v1h-1zM19 11h1v1h-1zM1 12h1v1h-1zM5 12h1v1h-1zM6 12h1v1h-1zM8 12h1v1h-1zM9 12h1v1h-1zM10 12h1v1h-1zM11 12h1v1h-1zM13 12h1v1h-1zM15 12h1v1h-1zM16 12h1v1h-1zM0 13h1v1h-1zM2 13h1v1h-1zM4 13h1v1h-1zM10 13h1v1h-1zM17 13h1v1h-1zM19 13h1v1h-1zM3 14h1v1h-1zM7 14h1v1h-1zM11 14h1v1h-1zM18 14h1v1h-1zM0 15h1v1h-1zM14 15h1v1h-1zM15 15h1v1h-1zM19 15h1v1h-1zM1 16h1v1h-1zM2 16h1v1h-1zM4 16h1v1h-1zM5 16h1v1h-1zM8 16h1v1h-1zM2 17h1v1h-1zM5 17h1v1h-1zM6 17h1v1h-1zM7 17h1v1h-1zM8 17h1v1h-1zM12 17h1v1h-1zM13 17h1v1h-1zM14 17h1v1h-1zM15 17h1v1h-1zM17 17h1v1h-1zM1 18h1v1h-1zM3 18h1v1h-1zM6 18h1v1h-1zM7 18h1v1h-1zM11 18h1v1h-1zM18 18h1v1h-1zM2 19h1v1h-1zM3 19h1v1h-1zM5 19h1v1h-1zM11 19h1v1h-1zM14 19h1v1h-1zM15 19h1v1h-1zM18 19h1v1h-1zM8 20h1v1h-1zM12 20h1v1h-1zM14 20h1v1h-1zM16 20h1v1h-1zM17 20h1v1h-1zM18 20h1v1h-1zM2 21h1v1h-1zM8 21h1v1h-1zM10 21h1v1h-1zM16 21h1v1h-1zM17 21h1v1h-1zM19 21h1v1h-1zM5 22h1v1h-1zM18 22h1v1h-1zM19 22h1v1h-1zM0 23h1v1h-1zM4 23h1v1h-1zM6 23h1v1h-1zM7 23h1v1h-1zM9 23h1v1h-1zM11 23h1v1h-1zM13 23h1v1h-1zM14 23h1v1h-1zM19 23h1v1h-1zM3 24h1v1h-1zM5 24h1v1h-1zM6 24h1v1h-1zM8 24h1v1h-1zM14 24h1v1h-1zM15 24h1v1h-1zM19 24h1v1h-1zM0 25h1v1h-1zM3 25h1v1h-1zM5 25h1v1h-1zM7 25h1v1h-1zM9 25h1v1h-1zM11 25h1v1h-1zM13 25h1v1h-1zM15 25h1v1h-1zM16 25h1v1h-1zM17 25h1v1h-1zM2 26h1v1h-1zM5 26h1v1h-1zM12 26h1v1h-1zM13 26h1v1h-1zM16 26h1v1h-1zM17 26h1v1h-1zM6 27h1v1h-1zM11 27h1v1h-1zM15 27h1v1h-1zM18 27h1v1h-1zM19 27h1v1h-1zM1 28h1v1h-1zM3 28h1v1h-1zM4 28h1v1h-1zM7 28h1v1h-1zM8 28h1v1h-1zM10 28h1v1h-1zM12 28h1v1h-1zM19 28h1v1h-1zM0 29h1v1h-1zM4 29h1v1h-1zM6 29h1v1h-1zM10 29h1v1h-1zM12 29h1v1h-1zM16 29h1v1h-1zM0 30h1v1h-1zM2 30h1v1h-1zM5 30h1v1h-1zM6 30h1v1h-1zM10 30h1v1h-1zM14 30h1v1h-1zM16 30h1v1h-1zM17 30h1v1h-1zM5 31h1v1h-1zM6 31h1v1h-1zM18 31h1v1h-1zM2 32h1v1h-1zM5 32h1v1h-1zM19 32h1v1h-1zM2 33h1v1h-1zM10 33h1v1h-1zM13 33h1v1h-1zM16 33h1v1h-1zM2 34h1v1h-1zM4 34h1v1h-1zM8 34h1v1h-1zM12 34h1v1h-1zM13 34h1v1h-1zM17 34h1v1h-1zM19 34h1v1h-1zM1 35h1v1h-1zM2 35h1v1h-1zM3 35h1v1h-1zM9 35h1v1h-1zM13 35h1v1h-1zM14 35h1v1h-1zM15 35h1v1h-1zM17 35h1v1h-1z"/><path fill="#c4c4fc" d="M5 0h1v1h-1zM7 0h1v1h-1zM12 0h1v1h-1zM14 0h1v1h-1zM15 0h1v1h-1zM17 0h1v1h-1zM18 0h1v1h-1zM19 0h1v1h-1zM2 1h1v1h-1zM7 1h1v1h-1zM10 1h1v1h-1zM11 1h1v1h-1zM14 1h1v1h-1zM15 1h1v1h-1zM16 1h1v1h-1zM3 2h1v1h-1zM4 2h1v1h-1zM6 2h1v1h-1zM8 2h1v1h-1zM10 2h1v1h-1zM0 3h1v1h-1zM4 3h1v1h-1zM5 3h1v1h-1zM6 3h1v1h-1zM7 3h1v1h-1zM13 3h1v1h-1zM14 3h1v1h-1zM16 3h1v1h-1zM17 3h1v1h-1zM18 3h1v1h-1zM0 4h1v1h-1zM5 4h1v1h-1zM11 4h1v1h-1zM16 4h1v1h-1zM17 4h1v1h-1zM5 5h1v1h-1zM7 5h1v1h-1zM8 5h1v1h-1zM12 5h1v1h-1zM13 5h1v1h-1zM14 5h1v1h-1zM2 6h1v1h-1zM11 6h1v1h-1zM12 6h1v1h-1zM13 6h1v1h-1zM16 6h1v1h-1zM17 6h1v1h-1zM1 7h1v1h-1zM6 7h1v1h-1zM7 7h1v1h-1zM12 7h1v1h-1zM14 7h1v1h-1zM16 7h1v1h-1zM17 7h1v1h-1zM0 8h1v1h-1zM1 8h1v1h-1zM2 8h1v1h-1zM3 8h1v1h-1zM4 8h1v1h-1zM5 8h1v1h-1zM8 8h1v1h-1zM13 8h1v1h-1zM14 8h1v1h-1zM15 8h1v1h-1zM18 8h1v1h-1zM19 8h1v1h-1zM0 9h1v1h-1zM1 9h1v1h-1zM2 9h1v1h-1zM6 9h1v1h-1zM8 9h1v1h-1zM17 9h1v1h-1zM18 9h1v1h-1zM19 9h1v1h-1zM1 10h1v1h-1zM3 10h1v1h-1zM8 10h1v1h-1zM13 10h1v1h-1zM15 10h1v1h-1zM18 10h1v1h-1zM1 11h1v1h-1zM3 11h1v1h-1zM5 11h1v1h-1zM10 11h1v1h-1zM12 11h1v1h-1zM14 11h1v1h-1zM16 11h1v1h-1zM0 12h1v1h-1zM2 12h1v1h-1zM4 12h1v1h-1zM7 12h1v1h-1zM18 12h1v1h-1zM19 12h1v1h-1zM3 13h1v1h-1zM5 13h1v1h-1zM7 13h1v1h-1zM8 13h1v1h-1zM11 13h1v1h-1zM12 13h1v1h-1zM13 13h1v1h-1zM16 13h1v1h-1zM18 13h1v1h-1zM0 14h1v1h-1zM2 14h1v1h-1zM8 14h1v1h-1zM9 14h1v1h-1zM10 14h1v1h-1zM12 14h1v1h-1zM13 14h1v1h-1zM14 14h1v1h-1zM15 14h1v1h-1zM16 14h1v1h-1zM17 14h1v1h-1zM2 15h1v1h-1zM5 15h1v1h-1zM11 15h1v1h-1zM3 16h1v1h-1zM9 16h1v1h-1zM10 16h1v1h-1zM12 16h1v1h-1zM13 16h1v1h-1zM14 16h1v1h-1zM15 16h1v1h-1zM16 16h1v1h-1zM19 16h1v1h-1zM0 17h1v1h-1zM1 17h1v1h-1zM3 17h1v1h-1zM4 17h1v1h-1zM11 17h1v1h-1zM16 17h1v1h-1zM2 18h1v1h-1zM5 18h1v1h-1zM8 18h1v1h-1zM9 18h1v1h-1zM13 18h1v1h-1zM14 18h1v1h-1zM15 18h1v1h-1zM17 18h1v1h-1zM1 19h1v1h-1zM6 19h1v1h-1zM9 19h1v1h-1zM12 19h1v1h-1zM13 19h1v1h-1zM1 20h1v1h-1zM5 20h1v1h-1zM9 20h1v1h-1zM10 20h1v1h-1zM15 20h1v1h-1zM19 20h1v1h-1zM0 21h1v1h-1zM1 21h1v1h-1zM3 21h1v1h-1zM4 21h1v1h-1zM7 21h1v1h-1zM9 21h1v1h-1zM11 21h1v1h-1zM15 21h1v1h-1zM2 22h1v1h-1zM3 22h1v1h-1zM4 22h1v1h-1zM6 22h1v1h-1zM7 22h1v1h-1zM9 22h1v1h-1zM10 22h1v1h-1zM14 22h1v1h-1zM2 23h1v1h-1zM3 23h1v1h-1zM5 23h1v1h-1zM10 23h1v1h-1zM17 23h1v1h-1zM18 23h1v1h-1zM0 24h1v1h-1zM1 24h1v1h-1zM10 24h1v1h-1zM11 24h1v1h-1zM12 24h1v1h-1zM16 24h1v1h-1zM1 25h1v1h-1zM2 25h1v1h-1zM4 25h1v1h-1zM8 25h1v1h-1zM10 25h1v1h-1zM14 25h1v1h-1zM18 25h1v1h-1zM19 25h1v1h-1zM0 26h1v1h-1zM3 26h1v1h-1zM7 26h1v1h-1zM8 26h1v1h-1zM9 26h1v1h-1zM10 26h1v1h-1zM11 26h1v1h-1zM15 26h1v1h-1zM18 26h1v1h-1zM1 27h1v1h-1zM3 27h1v1h-1zM4 27h1v1h-1zM7 27h1v1h-1zM8 27h1v1h-1zM9 27h1v1h-1zM12 27h1v1h-1zM14 27h1v1h-1zM17 27h1v1h-1zM0 28h1v1h-1zM2 28h1v1h-1zM6 28h1v1h-1zM9 28h1v1h-1zM15 28h1v1h-1zM16 28h1v1h-1zM17 28h1v1h-1zM18 28h1v1h-1zM2 29h1v1h-1zM3 29h1v1h-1zM8 29h1v1h-1zM9 29h1v1h-1zM13 29h1v1h-1zM15 29h1v1h-1zM18 29h1v1h-1zM19 29h1v1h-1zM1 30h1v1h-1zM3 30h1v1h-1zM4 30h1v1h-1zM7 30h1v1h-1zM9 30h1v1h-1zM11 30h1v1h-1zM18 30h1v1h-1zM0 31h1v1h-1zM2 31h1v1h-1zM3 31h1v1h-1zM4 31h1v1h-1zM7 31h1v1h-1zM8 31h1v1h-1zM11 31h1v1h-1zM12 31h1v1h-1zM17 31h1v1h-1zM9 32h1v1h-1zM10 32h1v1h-1zM12 32h1v1h-1zM13 32h1v1h-1zM15 32h1v1h-1zM0 33h1v1h-1zM3 33h1v1h-1zM6 33h1v1h-1zM14 33h1v1h-1zM18 33h1v1h-1zM19 33h1v1h-1zM0 34h1v1h-1zM3 34h1v1h-1zM5 34h1v1h-1zM6 34h1v1h-1zM9 34h1v1h-1zM10 34h1v1h-1zM14 34h1v1h-1zM15 34h1v1h-1zM16 34h1v1h-1zM7 35h1v1h-1zM10 35h1v1h-1zM11 35h1v1h-1zM12 35h1v1h-1zM16 35h1v1h-1zM19 35h1v1h-1z"/><path fill="#f4b0b0" d="M6 0h1v1h-1zM16 0h1v1h-1zM3 1h1v1h-1zM4 1h1v1h-1zM6 1h1v1h-1zM12 1h1v1h-1zM18 1h1v1h-1zM16 2h1v1h-1zM8 3h1v1h-1zM1 4h1v1h-1zM2 4h1v1h-1zM15 4h1v1h-1zM0 5h1v1h-1zM6 5h1v1h-1zM10 5h1v1h-1zM11 5h1v1h-1zM15 5h1v1h-1zM19 5h1v1h-1zM0 7h1v1h-1zM4 7h1v1h-1zM8 7h1v1h-1zM18 7h1v1h-1zM10 8h1v1h-1zM4 9h1v1h-1zM9 9h1v1h-1zM10 9h1v1h-1zM12 9h1v1h-1zM7 10h1v1h-1zM11 10h1v1h-1zM6 11h1v1h-1zM15 11h1v1h-1zM17 11h1v1h-1zM14 12h1v1h-1zM1 13h1v1h-1zM9 13h1v1h-1zM1 14h1v1h-1zM5 14h1v1h-1zM19 14h1v1h-1zM1 15h1v1h-1zM4 15h1v1h-1zM12 15h1v1h-1zM18 15h1v1h-1zM6 16h1v1h-1zM7 16h1v1h-1zM18 16h1v1h-1zM0 18h1v1h-1zM10 18h1v1h-1zM16 18h1v1h-1zM0 19h1v1h-1zM7 19h1v1h-1zM8 19h1v1h-1zM10 19h1v1h-1zM16 19h1v1h-1zM0 20h1v1h-1zM6 20h1v1h-1zM7 20h1v1h-1zM12 21h1v1h-1zM14 21h1v1h-1zM18 21h1v1h-1zM0 22h1v1h-1zM8 22h1v1h-1zM1 23h1v1h-1zM8 23h1v1h-1zM16 23h1v1h-1zM2 24h1v1h-1zM9 24h1v1h-1zM17 24h1v1h-1zM6 25h1v1h-1zM12 25h1v1h-1zM1 26h1v1h-1zM4 26h1v1h-1zM19 26h1v1h-1zM0 27h1v1h-1zM2 27h1v1h-1zM16 27h1v1h-1zM1 29h1v1h-1zM5 29h1v1h-1zM7 29h1v1h-1zM14 29h1v1h-1zM17 29h1v1h-1zM8 30h1v1h-1zM15 30h1v1h-1zM10 31h1v1h-1zM13 31h1v1h-1zM16 31h1v1h-1zM19 31h1v1h-1zM17 32h1v1h-1zM1 33h1v1h-1zM5 33h1v1h-1zM8 33h1v1h-1zM9 33h1v1h-1zM17 33h1v1h-1zM1 34h1v1h-1zM7 34h1v1h-1zM11 34h1v1h-1zM4 35h1v1h-1zM5 35h1v1h-1zM6 35h1v1h-1zM8 35h1v1h-1z"/><path fill="#f22a2a" d="M8 0h1v1h-1zM0 1h1v1h-1zM13 1h1v1h-1zM2 2h1v1h-1zM5 2h1v1h-1zM14 2h1v1h-1zM10 3h1v1h-1zM12 3h1v1h-1zM3 4h1v1h-1zM9 4h1v1h-1zM13 4h1v1h-1zM14 4h1v1h-1zM17 5h1v1h-1zM1 6h1v1h-1zM10 6h1v1h-1zM18 6h1v1h-1zM11 7h1v1h-1zM13 7h1v1h-1zM17 8h1v1h-1zM13 9h1v1h-1zM14 9h1v1h-1zM15 9h1v1h-1zM10 10h1v1h-1zM12 10h1v1h-1zM0 11h1v1h-1zM7 11h1v1h-1zM8 11h1v1h-1zM3 12h1v1h-1zM17 12h1v1h-1zM6 13h1v1h-1zM14 13h1v1h-1zM4 14h1v1h-1zM6 14h1v1h-1zM6 15h1v1h-1zM7 15h1v1h-1zM8 15h1v1h-1zM9 15h1v1h-1zM16 15h1v1h-1zM17 15h1v1h-1zM17 16h1v1h-1zM9 17h1v1h-1zM10 17h1v1h-1zM18 17h1v1h-1zM19 17h1v1h-1zM12 18h1v1h-1zM17 19h1v1h-1zM3 20h1v1h-1zM4 20h1v1h-1zM11 20h1v1h-1zM13 20h1v1h-1zM5 21h1v1h-1zM1 22h1v1h-1zM11 22h1v1h-1zM13 22h1v1h-1zM17 22h1v1h-1zM4 24h1v1h-1zM13 24h1v1h-1zM18 24h1v1h-1zM13 27h1v1h-1zM5 28h1v1h-1zM11 28h1v1h-1zM13 28h1v1h-1zM14 28h1v1h-1zM12 30h1v1h-1zM15 31h1v1h-1zM7 32h1v1h-1zM8 32h1v1h-1zM11 32h1v1h-1zM14 32h1v1h-1zM16 32h1v1h-1zM4 33h1v1h-1zM7 33h1v1h-1zM11 33h1v1h-1zM12 33h1v1h-1zM15 33h1v1h-1zM18 35h1v1h-1z"/><path fill="#f06060" d="M11 0h1v1h-1zM19 1h1v1h-1zM15 2h1v1h-1zM9 3h1v1h-1zM11 3h1v1h-1zM15 3h1v1h-1zM19 3h1v1h-1zM6 4h1v1h-1zM7 4h1v1h-1zM19 4h1v1h-1zM2 5h1v1h-1zM3 5h1v1h-1zM0 6h1v1h-1zM15 7h1v1h-1zM16 8h1v1h-1zM3 9h1v1h-1zM7 9h1v1h-1zM16 9h1v1h-1zM2 10h1v1h-1zM5 10h1v1h-1zM13 11h1v1h-1zM12 12h1v1h-1zM15 13h1v1h-1zM3 15h1v1h-1zM10 15h1v1h-1zM13 15h1v1h-1zM0 16h1v1h-1zM11 16h1v1h-1zM4 18h1v1h-1zM19 18h1v1h-1zM4 19h1v1h-1zM19 19h1v1h-1zM2 20h1v1h-1zM6 21h1v1h-1zM13 21h1v1h-1zM12 22h1v1h-1zM15 22h1v1h-1zM16 22h1v1h-1zM12 23h1v1h-1zM15 23h1v1h-1zM7 24h1v1h-1zM6 26h1v1h-1zM14 26h1v1h-1zM5 27h1v1h-1zM10 27h1v1h-1zM11 29h1v1h-1zM13 30h1v1h-1zM19 30h1v1h-1zM1 31h1v1h-1zM9 31h1v1h-1zM14 31h1v1h-1zM0 32h1v1h-1zM1 32h1v1h-1zM3 32h1v1h-1zM4 32h1v1h-1zM6 32h1v1h-1zM18 32h1v1h-1zM18 34h1v1h-1zM0 35h1v1h-1z"/></g></pattern><pattern id="pW3" patternUnits="userSpaceOnUse" width="15.0" height="34.199999999999996"><g transform="scale(0.75 0.95)"><path fill="#f4b0b0" d="M0 0h1v1h-1zM3 0h1v1h-1zM0 1h1v1h-1zM16 1h1v1h-1zM19 1h1v1h-1zM2 2h1v1h-1zM3 2h1v1h-1zM8 2h1v1h-1zM17 2h1v1h-1zM18 2h1v1h-1zM2 3h1v1h-1zM10 3h1v1h-1zM15 3h1v1h-1zM0 4h1v1h-1zM4 4h1v1h-1zM9 4h1v1h-1zM10 4h1v1h-1zM17 4h1v1h-1zM7 5h1v1h-1zM8 5h1v1h-1zM6 6h1v1h-1zM6 7h1v1h-1zM7 7h1v1h-1zM10 7h1v1h-1zM2 8h1v1h-1zM17 8h1v1h-1zM6 9h1v1h-1zM9 9h1v1h-1zM17 9h1v1h-1zM15 10h1v1h-1zM8 11h1v1h-1zM13 11h1v1h-1zM14 12h1v1h-1zM17 12h1v1h-1zM19 12h1v1h-1zM1 13h1v1h-1zM2 13h1v1h-1zM4 13h1v1h-1zM6 13h1v1h-1zM7 14h1v1h-1zM14 14h1v1h-1zM15 14h1v1h-1zM2 15h1v1h-1zM11 15h1v1h-1zM5 16h1v1h-1zM5 17h1v1h-1zM6 17h1v1h-1zM9 17h1v1h-1zM13 17h1v1h-1zM7 18h1v1h-1zM14 18h1v1h-1zM18 18h1v1h-1zM12 19h1v1h-1zM5 20h1v1h-1zM8 20h1v1h-1zM11 20h1v1h-1zM18 21h1v1h-1zM4 22h1v1h-1zM5 22h1v1h-1zM15 22h1v1h-1zM14 23h1v1h-1zM10 24h1v1h-1zM18 24h1v1h-1zM0 25h1v1h-1zM5 25h1v1h-1zM7 25h1v1h-1zM9 25h1v1h-1zM4 27h1v1h-1zM17 27h1v1h-1zM13 28h1v1h-1zM2 29h1v1h-1zM9 29h1v1h-1zM10 29h1v1h-1zM11 29h1v1h-1zM14 29h1v1h-1zM10 30h1v1h-1zM4 31h1v1h-1zM10 31h1v1h-1zM11 31h1v1h-1zM17 31h1v1h-1zM2 32h1v1h-1zM13 32h1v1h-1zM4 33h1v1h-1zM14 33h1v1h-1zM18 34h1v1h-1zM3 35h1v1h-1z"/><path fill="#c4c4fc" d="M1 0h1v1h-1zM10 0h1v1h-1zM12 0h1v1h-1zM13 0h1v1h-1zM14 0h1v1h-1zM15 0h1v1h-1zM18 0h1v1h-1zM1 1h1v1h-1zM2 1h1v1h-1zM3 1h1v1h-1zM7 1h1v1h-1zM9 1h1v1h-1zM11 1h1v1h-1zM13 1h1v1h-1zM14 1h1v1h-1zM18 1h1v1h-1zM0 2h1v1h-1zM1 2h1v1h-1zM4 2h1v1h-1zM9 2h1v1h-1zM13 2h1v1h-1zM14 2h1v1h-1zM0 3h1v1h-1zM3 3h1v1h-1zM4 3h1v1h-1zM5 3h1v1h-1zM6 3h1v1h-1zM7 3h1v1h-1zM9 3h1v1h-1zM11 3h1v1h-1zM12 3h1v1h-1zM14 3h1v1h-1zM19 3h1v1h-1zM2 4h1v1h-1zM5 4h1v1h-1zM11 4h1v1h-1zM12 4h1v1h-1zM18 4h1v1h-1zM19 4h1v1h-1zM2 5h1v1h-1zM5 5h1v1h-1zM6 5h1v1h-1zM9 5h1v1h-1zM10 5h1v1h-1zM11 5h1v1h-1zM14 5h1v1h-1zM15 5h1v1h-1zM16 5h1v1h-1zM17 5h1v1h-1zM18 5h1v1h-1zM0 6h1v1h-1zM3 6h1v1h-1zM4 6h1v1h-1zM5 6h1v1h-1zM11 6h1v1h-1zM12 6h1v1h-1zM13 6h1v1h-1zM17 6h1v1h-1zM18 6h1v1h-1zM0 7h1v1h-1zM1 7h1v1h-1zM8 7h1v1h-1zM11 7h1v1h-1zM12 7h1v1h-1zM14 7h1v1h-1zM15 7h1v1h-1zM18 7h1v1h-1zM19 7h1v1h-1zM0 8h1v1h-1zM1 8h1v1h-1zM3 8h1v1h-1zM7 8h1v1h-1zM9 8h1v1h-1zM10 8h1v1h-1zM11 8h1v1h-1zM12 8h1v1h-1zM15 8h1v1h-1zM16 8h1v1h-1zM18 8h1v1h-1zM1 9h1v1h-1zM2 9h1v1h-1zM7 9h1v1h-1zM10 9h1v1h-1zM14 9h1v1h-1zM2 10h1v1h-1zM3 10h1v1h-1zM5 10h1v1h-1zM7 10h1v1h-1zM9 10h1v1h-1zM11 10h1v1h-1zM12 10h1v1h-1zM16 10h1v1h-1zM17 10h1v1h-1zM0 11h1v1h-1zM1 11h1v1h-1zM6 11h1v1h-1zM9 11h1v1h-1zM14 11h1v1h-1zM16 11h1v1h-1zM17 11h1v1h-1zM19 11h1v1h-1zM2 12h1v1h-1zM4 12h1v1h-1zM5 12h1v1h-1zM8 12h1v1h-1zM10 12h1v1h-1zM12 12h1v1h-1zM13 12h1v1h-1zM18 12h1v1h-1zM3 13h1v1h-1zM7 13h1v1h-1zM8 13h1v1h-1zM9 13h1v1h-1zM11 13h1v1h-1zM12 13h1v1h-1zM14 13h1v1h-1zM17 13h1v1h-1zM18 13h1v1h-1zM1 14h1v1h-1zM9 14h1v1h-1zM10 14h1v1h-1zM18 14h1v1h-1zM19 14h1v1h-1zM0 15h1v1h-1zM4 15h1v1h-1zM5 15h1v1h-1zM7 15h1v1h-1zM8 15h1v1h-1zM12 15h1v1h-1zM14 15h1v1h-1zM15 15h1v1h-1zM16 15h1v1h-1zM17 15h1v1h-1zM19 15h1v1h-1zM0 16h1v1h-1zM1 16h1v1h-1zM2 16h1v1h-1zM4 16h1v1h-1zM6 16h1v1h-1zM7 16h1v1h-1zM8 16h1v1h-1zM12 16h1v1h-1zM15 16h1v1h-1zM18 16h1v1h-1zM0 17h1v1h-1zM8 17h1v1h-1zM10 17h1v1h-1zM12 17h1v1h-1zM14 17h1v1h-1zM15 17h1v1h-1zM16 17h1v1h-1zM17 17h1v1h-1zM19 17h1v1h-1zM1 18h1v1h-1zM6 18h1v1h-1zM8 18h1v1h-1zM11 18h1v1h-1zM12 18h1v1h-1zM13 18h1v1h-1zM15 18h1v1h-1zM16 18h1v1h-1zM2 19h1v1h-1zM3 19h1v1h-1zM4 19h1v1h-1zM7 19h1v1h-1zM8 19h1v1h-1zM13 19h1v1h-1zM16 19h1v1h-1zM2 20h1v1h-1zM3 20h1v1h-1zM4 20h1v1h-1zM6 20h1v1h-1zM7 20h1v1h-1zM9 20h1v1h-1zM13 20h1v1h-1zM16 20h1v1h-1zM1 21h1v1h-1zM2 21h1v1h-1zM3 21h1v1h-1zM5 21h1v1h-1zM9 21h1v1h-1zM10 21h1v1h-1zM11 21h1v1h-1zM12 21h1v1h-1zM14 21h1v1h-1zM16 21h1v1h-1zM19 21h1v1h-1zM6 22h1v1h-1zM9 22h1v1h-1zM12 22h1v1h-1zM14 22h1v1h-1zM6 23h1v1h-1zM9 23h1v1h-1zM10 23h1v1h-1zM13 23h1v1h-1zM15 23h1v1h-1zM17 23h1v1h-1zM19 23h1v1h-1zM1 24h1v1h-1zM6 24h1v1h-1zM7 24h1v1h-1zM11 24h1v1h-1zM13 24h1v1h-1zM14 24h1v1h-1zM15 24h1v1h-1zM17 24h1v1h-1zM19 24h1v1h-1zM1 25h1v1h-1zM2 25h1v1h-1zM11 25h1v1h-1zM12 25h1v1h-1zM13 25h1v1h-1zM14 25h1v1h-1zM15 25h1v1h-1zM16 25h1v1h-1zM17 25h1v1h-1zM0 26h1v1h-1zM3 26h1v1h-1zM6 26h1v1h-1zM8 26h1v1h-1zM10 26h1v1h-1zM11 26h1v1h-1zM14 26h1v1h-1zM15 26h1v1h-1zM16 26h1v1h-1zM17 26h1v1h-1zM0 27h1v1h-1zM1 27h1v1h-1zM2 27h1v1h-1zM6 27h1v1h-1zM7 27h1v1h-1zM11 27h1v1h-1zM12 27h1v1h-1zM13 27h1v1h-1zM14 27h1v1h-1zM15 27h1v1h-1zM18 27h1v1h-1zM19 27h1v1h-1zM0 28h1v1h-1zM1 28h1v1h-1zM2 28h1v1h-1zM6 28h1v1h-1zM7 28h1v1h-1zM8 28h1v1h-1zM14 28h1v1h-1zM15 28h1v1h-1zM19 28h1v1h-1zM1 29h1v1h-1zM3 29h1v1h-1zM4 29h1v1h-1zM7 29h1v1h-1zM12 29h1v1h-1zM13 29h1v1h-1zM15 29h1v1h-1zM16 29h1v1h-1zM0 30h1v1h-1zM2 30h1v1h-1zM6 30h1v1h-1zM8 30h1v1h-1zM12 30h1v1h-1zM14 30h1v1h-1zM19 30h1v1h-1zM0 31h1v1h-1zM1 31h1v1h-1zM3 31h1v1h-1zM5 31h1v1h-1zM7 31h1v1h-1zM8 31h1v1h-1zM12 31h1v1h-1zM18 31h1v1h-1zM19 31h1v1h-1zM1 32h1v1h-1zM3 32h1v1h-1zM5 32h1v1h-1zM7 32h1v1h-1zM10 32h1v1h-1zM11 32h1v1h-1zM17 32h1v1h-1zM0 33h1v1h-1zM3 33h1v1h-1zM11 33h1v1h-1zM12 33h1v1h-1zM15 33h1v1h-1zM16 33h1v1h-1zM17 33h1v1h-1zM18 33h1v1h-1zM0 34h1v1h-1zM1 34h1v1h-1zM5 34h1v1h-1zM6 34h1v1h-1zM8 34h1v1h-1zM10 34h1v1h-1zM15 34h1v1h-1zM16 34h1v1h-1zM19 34h1v1h-1zM4 35h1v1h-1zM5 35h1v1h-1zM8 35h1v1h-1zM13 35h1v1h-1zM14 35h1v1h-1zM15 35h1v1h-1zM16 35h1v1h-1zM18 35h1v1h-1zM19 35h1v1h-1z"/><path fill="#faf6f8" d="M2 0h1v1h-1zM4 0h1v1h-1zM5 0h1v1h-1zM6 0h1v1h-1zM7 0h1v1h-1zM8 0h1v1h-1zM9 0h1v1h-1zM11 0h1v1h-1zM16 0h1v1h-1zM17 0h1v1h-1zM19 0h1v1h-1zM4 1h1v1h-1zM5 1h1v1h-1zM8 1h1v1h-1zM10 1h1v1h-1zM12 1h1v1h-1zM15 1h1v1h-1zM17 1h1v1h-1zM5 2h1v1h-1zM6 2h1v1h-1zM7 2h1v1h-1zM10 2h1v1h-1zM11 2h1v1h-1zM12 2h1v1h-1zM15 2h1v1h-1zM1 3h1v1h-1zM8 3h1v1h-1zM13 3h1v1h-1zM16 3h1v1h-1zM17 3h1v1h-1zM18 3h1v1h-1zM1 4h1v1h-1zM3 4h1v1h-1zM6 4h1v1h-1zM8 4h1v1h-1zM13 4h1v1h-1zM14 4h1v1h-1zM15 4h1v1h-1zM16 4h1v1h-1zM0 5h1v1h-1zM1 5h1v1h-1zM3 5h1v1h-1zM4 5h1v1h-1zM12 5h1v1h-1zM19 5h1v1h-1zM1 6h1v1h-1zM7 6h1v1h-1zM8 6h1v1h-1zM10 6h1v1h-1zM14 6h1v1h-1zM15 6h1v1h-1zM16 6h1v1h-1zM3 7h1v1h-1zM4 7h1v1h-1zM5 7h1v1h-1zM9 7h1v1h-1zM13 7h1v1h-1zM16 7h1v1h-1zM5 8h1v1h-1zM6 8h1v1h-1zM8 8h1v1h-1zM13 8h1v1h-1zM0 9h1v1h-1zM3 9h1v1h-1zM4 9h1v1h-1zM5 9h1v1h-1zM11 9h1v1h-1zM13 9h1v1h-1zM15 9h1v1h-1zM16 9h1v1h-1zM18 9h1v1h-1zM19 9h1v1h-1zM0 10h1v1h-1zM4 10h1v1h-1zM6 10h1v1h-1zM8 10h1v1h-1zM13 10h1v1h-1zM14 10h1v1h-1zM18 10h1v1h-1zM19 10h1v1h-1zM3 11h1v1h-1zM4 11h1v1h-1zM7 11h1v1h-1zM10 11h1v1h-1zM11 11h1v1h-1zM12 11h1v1h-1zM15 11h1v1h-1zM18 11h1v1h-1zM0 12h1v1h-1zM6 12h1v1h-1zM9 12h1v1h-1zM11 12h1v1h-1zM15 12h1v1h-1zM16 12h1v1h-1zM0 13h1v1h-1zM5 13h1v1h-1zM13 13h1v1h-1zM15 13h1v1h-1zM16 13h1v1h-1zM19 13h1v1h-1zM0 14h1v1h-1zM2 14h1v1h-1zM3 14h1v1h-1zM4 14h1v1h-1zM5 14h1v1h-1zM6 14h1v1h-1zM8 14h1v1h-1zM11 14h1v1h-1zM12 14h1v1h-1zM13 14h1v1h-1zM16 14h1v1h-1zM17 14h1v1h-1zM1 15h1v1h-1zM3 15h1v1h-1zM6 15h1v1h-1zM9 15h1v1h-1zM10 15h1v1h-1zM3 16h1v1h-1zM9 16h1v1h-1zM10 16h1v1h-1zM11 16h1v1h-1zM13 16h1v1h-1zM14 16h1v1h-1zM16 16h1v1h-1zM17 16h1v1h-1zM19 16h1v1h-1zM1 17h1v1h-1zM2 17h1v1h-1zM3 17h1v1h-1zM4 17h1v1h-1zM7 17h1v1h-1zM11 17h1v1h-1zM18 17h1v1h-1zM0 18h1v1h-1zM2 18h1v1h-1zM4 18h1v1h-1zM5 18h1v1h-1zM19 18h1v1h-1zM0 19h1v1h-1zM1 19h1v1h-1zM5 19h1v1h-1zM6 19h1v1h-1zM9 19h1v1h-1zM11 19h1v1h-1zM14 19h1v1h-1zM15 19h1v1h-1zM19 19h1v1h-1zM0 20h1v1h-1zM12 20h1v1h-1zM14 20h1v1h-1zM15 20h1v1h-1zM17 20h1v1h-1zM18 20h1v1h-1zM0 21h1v1h-1zM4 21h1v1h-1zM6 21h1v1h-1zM7 21h1v1h-1zM13 21h1v1h-1zM15 21h1v1h-1zM17 21h1v1h-1zM0 22h1v1h-1zM2 22h1v1h-1zM3 22h1v1h-1zM7 22h1v1h-1zM8 22h1v1h-1zM11 22h1v1h-1zM13 22h1v1h-1zM16 22h1v1h-1zM17 22h1v1h-1zM18 22h1v1h-1zM19 22h1v1h-1zM0 23h1v1h-1zM1 23h1v1h-1zM2 23h1v1h-1zM3 23h1v1h-1zM4 23h1v1h-1zM5 23h1v1h-1zM7 23h1v1h-1zM8 23h1v1h-1zM11 23h1v1h-1zM12 23h1v1h-1zM16 23h1v1h-1zM0 24h1v1h-1zM3 24h1v1h-1zM4 24h1v1h-1zM5 24h1v1h-1zM8 24h1v1h-1zM12 24h1v1h-1zM16 24h1v1h-1zM3 25h1v1h-1zM4 25h1v1h-1zM6 25h1v1h-1zM8 25h1v1h-1zM1 26h1v1h-1zM2 26h1v1h-1zM4 26h1v1h-1zM5 26h1v1h-1zM7 26h1v1h-1zM9 26h1v1h-1zM12 26h1v1h-1zM13 26h1v1h-1zM18 26h1v1h-1zM19 26h1v1h-1zM5 27h1v1h-1zM8 27h1v1h-1zM10 27h1v1h-1zM4 28h1v1h-1zM9 28h1v1h-1zM10 28h1v1h-1zM11 28h1v1h-1zM12 28h1v1h-1zM16 28h1v1h-1zM17 28h1v1h-1zM18 28h1v1h-1zM0 29h1v1h-1zM5 29h1v1h-1zM6 29h1v1h-1zM8 29h1v1h-1zM17 29h1v1h-1zM18 29h1v1h-1zM1 30h1v1h-1zM3 30h1v1h-1zM4 30h1v1h-1zM5 30h1v1h-1zM7 30h1v1h-1zM9 30h1v1h-1zM11 30h1v1h-1zM15 30h1v1h-1zM16 30h1v1h-1zM17 30h1v1h-1zM18 30h1v1h-1zM2 31h1v1h-1zM9 31h1v1h-1zM14 31h1v1h-1zM0 32h1v1h-1zM4 32h1v1h-1zM6 32h1v1h-1zM12 32h1v1h-1zM14 32h1v1h-1zM15 32h1v1h-1zM16 32h1v1h-1zM19 32h1v1h-1zM1 33h1v1h-1zM2 33h1v1h-1zM5 33h1v1h-1zM7 33h1v1h-1zM9 33h1v1h-1zM19 33h1v1h-1zM2 34h1v1h-1zM3 34h1v1h-1zM4 34h1v1h-1zM7 34h1v1h-1zM9 34h1v1h-1zM11 34h1v1h-1zM12 34h1v1h-1zM13 34h1v1h-1zM0 35h1v1h-1zM2 35h1v1h-1zM7 35h1v1h-1zM9 35h1v1h-1zM10 35h1v1h-1zM11 35h1v1h-1zM12 35h1v1h-1z"/><path fill="#f22a2a" d="M6 1h1v1h-1zM7 4h1v1h-1zM19 6h1v1h-1zM2 7h1v1h-1zM14 8h1v1h-1zM19 8h1v1h-1zM8 9h1v1h-1zM12 9h1v1h-1zM10 10h1v1h-1zM2 11h1v1h-1zM1 12h1v1h-1zM9 18h1v1h-1zM17 18h1v1h-1zM10 19h1v1h-1zM8 21h1v1h-1zM1 22h1v1h-1zM10 22h1v1h-1zM18 23h1v1h-1zM9 24h1v1h-1zM16 27h1v1h-1zM3 28h1v1h-1zM5 28h1v1h-1zM13 30h1v1h-1zM6 31h1v1h-1zM13 31h1v1h-1zM15 31h1v1h-1zM8 33h1v1h-1zM10 33h1v1h-1zM13 33h1v1h-1zM1 35h1v1h-1zM17 35h1v1h-1z"/><path fill="#f06060" d="M16 2h1v1h-1zM19 2h1v1h-1zM13 5h1v1h-1zM2 6h1v1h-1zM9 6h1v1h-1zM17 7h1v1h-1zM4 8h1v1h-1zM1 10h1v1h-1zM5 11h1v1h-1zM3 12h1v1h-1zM7 12h1v1h-1zM10 13h1v1h-1zM13 15h1v1h-1zM18 15h1v1h-1zM3 18h1v1h-1zM10 18h1v1h-1zM17 19h1v1h-1zM18 19h1v1h-1zM1 20h1v1h-1zM10 20h1v1h-1zM19 20h1v1h-1zM2 24h1v1h-1zM10 25h1v1h-1zM18 25h1v1h-1zM19 25h1v1h-1zM3 27h1v1h-1zM9 27h1v1h-1zM19 29h1v1h-1zM16 31h1v1h-1zM8 32h1v1h-1zM9 32h1v1h-1zM18 32h1v1h-1zM6 33h1v1h-1zM14 34h1v1h-1zM17 34h1v1h-1zM6 35h1v1h-1z"/></g></pattern></defs>
<rect width="685" height="960" fill="#fff"/>
<text x="1.6" y="16.9" style="font-family:'Liberation Sans',sans-serif;font-weight:bold;font-size:22.3px">A</text>
<text x="131" y="29.7" text-anchor="middle" style="font-family:'Liberation Sans',sans-serif;font-weight:bold;font-size:8.2px">Upregulated in</text>
<text x="131" y="39.8" text-anchor="middle" style="font-family:'Liberation Sans',sans-serif;font-weight:bold;font-size:8.2px">D20 and D35,</text>
<text x="131" y="49.8" text-anchor="middle" style="font-family:'Liberation Sans',sans-serif;font-weight:bold;font-size:8.2px">Near Constant</text>
<path d="M26.6,50.3V152.1H220" fill="none" stroke="#555" stroke-width="1.1"/>
<line x1="54.7" y1="152.1" x2="54.7" y2="158.7" stroke="#777" stroke-width="0.9"/>
<circle cx="54.7" cy="169.2" r="10.5" fill="#fff" stroke="#c8c8c8" stroke-width="0.8"/>
<text x="54.7" y="171.89999999999998" text-anchor="middle" textLength="8.9" lengthAdjust="spacingAndGlyphs" style="font-family:'Liberation Sans',sans-serif;font-weight:bold;font-size:7.6px;fill:#111">D0</text>
<line x1="101.3" y1="152.1" x2="101.3" y2="158.7" stroke="#777" stroke-width="0.9"/>
<circle cx="101.3" cy="169.2" r="10.5" fill="#fff" stroke="#c8c8c8" stroke-width="0.8"/>
<text x="101.3" y="171.89999999999998" text-anchor="middle" textLength="12.8" lengthAdjust="spacingAndGlyphs" style="font-family:'Liberation Sans',sans-serif;font-weight:bold;font-size:7.6px;fill:#111">D13</text>
<line x1="136.4" y1="152.1" x2="136.4" y2="158.7" stroke="#777" stroke-width="0.9"/>
<circle cx="136.4" cy="169.2" r="10.5" fill="#fff" stroke="#c8c8c8" stroke-width="0.8"/>
<text x="136.4" y="171.89999999999998" text-anchor="middle" textLength="12.8" lengthAdjust="spacingAndGlyphs" style="font-family:'Liberation Sans',sans-serif;font-weight:bold;font-size:7.6px;fill:#111">D20</text>
<line x1="194.5" y1="152.1" x2="194.5" y2="158.7" stroke="#777" stroke-width="0.9"/>
<circle cx="194.5" cy="169.2" r="10.5" fill="#fff" stroke="#c8c8c8" stroke-width="0.8"/>
<text x="194.5" y="171.89999999999998" text-anchor="middle" textLength="12.8" lengthAdjust="spacingAndGlyphs" style="font-family:'Liberation Sans',sans-serif;font-weight:bold;font-size:7.6px;fill:#111">D35</text>
<text transform="translate(7.9,97.6) rotate(-90)" text-anchor="middle" style="font-family:'Liberation Sans',sans-serif;font-size:9.7px;fill:#222">Relative Gene</text>
<text transform="translate(19.5,97.6) rotate(-90)" text-anchor="middle" style="font-family:'Liberation Sans',sans-serif;font-size:9.7px;fill:#222">Expression</text>
<path d="M35.2,136.1 C55,137.6 72,138 82,135.9 C88,134.5 92,132.5 95,129.5 C99,125 101,120 103,114 C105.5,106 107,97 109.5,89 C111.5,83 113,78 115.4,75 C118,72 122,70.5 128,69.5 C145,67.8 175,67.8 199.6,67.8" fill="none" stroke="#3a64a3" stroke-width="2.2" stroke-linecap="round"/>
<text x="224.8" y="16.9" style="font-family:'Liberation Sans',sans-serif;font-weight:bold;font-size:22.3px">B</text>
<text x="354.9" y="28.8" text-anchor="middle" style="font-family:'Liberation Sans',sans-serif;font-weight:bold;font-size:8.2px">Upregulated in</text>
<text x="354.9" y="38.9" text-anchor="middle" style="font-family:'Liberation Sans',sans-serif;font-weight:bold;font-size:8.2px">D20 and D35,</text>
<text x="354.9" y="48.9" text-anchor="middle" style="font-family:'Liberation Sans',sans-serif;font-weight:bold;font-size:8.2px">Increasing</text>
<path d="M252.8,50.5V152.1H446.7" fill="none" stroke="#555" stroke-width="1.1"/>
<line x1="280.7" y1="152.1" x2="280.7" y2="158.5" stroke="#777" stroke-width="0.9"/>
<circle cx="280.7" cy="169.0" r="10.5" fill="#fff" stroke="#c8c8c8" stroke-width="0.8"/>
<text x="280.7" y="171.7" text-anchor="middle" textLength="8.9" lengthAdjust="spacingAndGlyphs" style="font-family:'Liberation Sans',sans-serif;font-weight:bold;font-size:7.6px;fill:#111">D0</text>
<line x1="328.2" y1="152.1" x2="328.2" y2="158.5" stroke="#777" stroke-width="0.9"/>
<circle cx="328.2" cy="169.0" r="10.5" fill="#fff" stroke="#c8c8c8" stroke-width="0.8"/>
<text x="328.2" y="171.7" text-anchor="middle" textLength="12.8" lengthAdjust="spacingAndGlyphs" style="font-family:'Liberation Sans',sans-serif;font-weight:bold;font-size:7.6px;fill:#111">D13</text>
<line x1="362.9" y1="152.1" x2="362.9" y2="158.5" stroke="#777" stroke-width="0.9"/>
<circle cx="362.9" cy="169.0" r="10.5" fill="#fff" stroke="#c8c8c8" stroke-width="0.8"/>
<text x="362.9" y="171.7" text-anchor="middle" textLength="12.8" lengthAdjust="spacingAndGlyphs" style="font-family:'Liberation Sans',sans-serif;font-weight:bold;font-size:7.6px;fill:#111">D20</text>
<line x1="421.2" y1="152.1" x2="421.2" y2="158.5" stroke="#777" stroke-width="0.9"/>
<circle cx="421.2" cy="169.0" r="10.5" fill="#fff" stroke="#c8c8c8" stroke-width="0.8"/>
<text x="421.2" y="171.7" text-anchor="middle" textLength="12.8" lengthAdjust="spacingAndGlyphs" style="font-family:'Liberation Sans',sans-serif;font-weight:bold;font-size:7.6px;fill:#111">D35</text>
<text transform="translate(234.9,97.8) rotate(-90)" text-anchor="middle" style="font-family:'Liberation Sans',sans-serif;font-size:9.7px;fill:#222">Relative Gene</text>
<text transform="translate(246.2,97.8) rotate(-90)" text-anchor="middle" style="font-family:'Liberation Sans',sans-serif;font-size:9.7px;fill:#222">Expression</text>
<path d="M257,144.5 C275,145.8 300,145 315.2,142.7 C320,141.8 325,139.5 328,136.5 C332,132 335,127 338,122.4 C342,116 346,110 350,106 C352.5,103.5 355,102.8 358,102.3 C362,101.8 365,102 367.4,100.5 C369.5,98.5 371,95 373,91 C376,85 380,77 384,72 C387,68 389.5,66 393,65 C398,63.6 405,63.5 420.5,63" fill="none" stroke="#3a64a3" stroke-width="2.2" stroke-linecap="round"/>
<text x="451.8" y="15.7" style="font-family:'Liberation Sans',sans-serif;font-weight:bold;font-size:22.3px">C</text>
<text x="588.5" y="23.9" text-anchor="middle" style="font-family:'Liberation Sans',sans-serif;font-weight:bold;font-size:8.2px">Upregulated in</text>
<text x="588.5" y="34.1" text-anchor="middle" style="font-family:'Liberation Sans',sans-serif;font-weight:bold;font-size:8.2px">D20 and D35,</text>
<text x="588.5" y="44.3" text-anchor="middle" style="font-family:'Liberation Sans',sans-serif;font-weight:bold;font-size:8.2px">Decreasing</text>
<path d="M483.1,45.7V151.3H683.6" fill="none" stroke="#555" stroke-width="1.1"/>
<line x1="511.7" y1="151.3" x2="511.7" y2="158.1" stroke="#777" stroke-width="0.9"/>
<circle cx="511.7" cy="168.6" r="10.5" fill="#fff" stroke="#c8c8c8" stroke-width="0.8"/>
<text x="511.7" y="171.29999999999998" text-anchor="middle" textLength="8.9" lengthAdjust="spacingAndGlyphs" style="font-family:'Liberation Sans',sans-serif;font-weight:bold;font-size:7.6px;fill:#111">D0</text>
<line x1="560.8" y1="151.3" x2="560.8" y2="158.1" stroke="#777" stroke-width="0.9"/>
<circle cx="560.8" cy="168.6" r="10.5" fill="#fff" stroke="#c8c8c8" stroke-width="0.8"/>
<text x="560.8" y="171.29999999999998" text-anchor="middle" textLength="12.8" lengthAdjust="spacingAndGlyphs" style="font-family:'Liberation Sans',sans-serif;font-weight:bold;font-size:7.6px;fill:#111">D13</text>
<line x1="597.1" y1="151.3" x2="597.1" y2="158.1" stroke="#777" stroke-width="0.9"/>
<circle cx="597.1" cy="168.6" r="10.5" fill="#fff" stroke="#c8c8c8" stroke-width="0.8"/>
<text x="597.1" y="171.29999999999998" text-anchor="middle" textLength="12.8" lengthAdjust="spacingAndGlyphs" style="font-family:'Liberation Sans',sans-serif;font-weight:bold;font-size:7.6px;fill:#111">D20</text>
<line x1="657.4" y1="151.3" x2="657.4" y2="158.1" stroke="#777" stroke-width="0.9"/>
<circle cx="657.4" cy="168.6" r="10.5" fill="#fff" stroke="#c8c8c8" stroke-width="0.8"/>
<text x="657.4" y="171.29999999999998" text-anchor="middle" textLength="12.8" lengthAdjust="spacingAndGlyphs" style="font-family:'Liberation Sans',sans-serif;font-weight:bold;font-size:7.6px;fill:#111">D35</text>
<text transform="translate(464.4,94.8) rotate(-90)" text-anchor="middle" style="font-family:'Liberation Sans',sans-serif;font-size:9.7px;fill:#222">Relative Gene</text>
<text transform="translate(475.8,94.8) rotate(-90)" text-anchor="middle" style="font-family:'Liberation Sans',sans-serif;font-size:9.7px;fill:#222">Expression</text>
<path d="M494.7,142.6 C515,144 540,144.5 560.5,141.5 C565,140.7 568,139.5 570.5,137 C573,134 574.5,129 576.3,123.6 C578,118.5 579.5,116 581,112 C583,106 585,97 587,89 C589,81 591,72 593,67.5 C595,63 596.5,61.3 598.2,61.3 C600.5,61.3 602.5,63 604,66 C606,70 608,76 610,81 C612,86 614,89 617,91.5 C621,94.5 627,97.5 634,99.3 C644,101.2 655,101.3 663.5,101.3" fill="none" stroke="#3a64a3" stroke-width="2.2" stroke-linecap="round"/>
<text x="151.2" y="220.3" style="font-family:'Liberation Sans',sans-serif;font-weight:bold;font-size:15.4px">Upregulated in D20 and D35, Near Constant</text>
<text x="2.3" y="228.7" style="font-family:'Liberation Sans',sans-serif;font-weight:bold;font-size:23.5px">D</text>
<rect x="73.3" y="227.4" width="6.90" height="148.30" fill="url(#pB)"/>
<rect x="80.2" y="227.4" width="6.80" height="105.60" fill="url(#pM)"/>
<rect x="80.2" y="333" width="6.80" height="42.70" fill="url(#pW3)"/>
<rect x="87.0" y="227.4" width="6.50" height="105.60" fill="url(#pM)"/>
<rect x="87.0" y="333" width="6.50" height="42.70" fill="url(#pRR)"/>
<rect x="93.5" y="227.4" width="7.40" height="105.60" fill="url(#pM)"/>
<rect x="93.5" y="333" width="7.40" height="42.70" fill="url(#pW2)"/>
<rect x="100.9" y="227.4" width="2.1" height="148.29999999999998" fill="#dddddd"/>
<rect x="74.13" y="222.20000000000002" width="5.52" height="3.2" fill="#e3e3e3"/>
<rect x="81.03" y="222.20000000000002" width="5.52" height="3.2" fill="#e3e3e3"/>
<rect x="87.93" y="222.20000000000002" width="5.52" height="3.2" fill="#e3e3e3"/>
<rect x="94.83" y="222.20000000000002" width="5.52" height="3.2" fill="#e3e3e3"/>
<rect x="73.3" y="227.2" width="33.400000000000006" height="9.400000000000006" fill="none" stroke="#111" stroke-width="1.3"/>
<line x1="106.7" y1="227.2" x2="133.6" y2="290.5" stroke="#777" stroke-width="0.9"/>
<line x1="106.7" y1="236.6" x2="133.6" y2="446.5" stroke="#777" stroke-width="0.9"/>
<g transform="translate(133.6 290.5) scale(7.826 7.8)">
<path fill="#cacaff" d="M0 0h1.06v1.06h-1.06zM2 0h4.06v1.06h-4.06zM11 0h1.06v1.06h-1.06zM16 0h1.06v1.06h-1.06zM19 0h1.06v1.06h-1.06zM22 0h1.06v1.06h-1.06zM26 0h2.06v1.06h-2.06zM33 0h1.06v1.06h-1.06zM36 0h1.06v1.06h-1.06zM45 0h1v1.06h-1zM5 1h1.06v1.06h-1.06zM10 1h1.06v1.06h-1.06zM18 1h4.06v1.06h-4.06zM28 1h1.06v1.06h-1.06zM34 1h1.06v1.06h-1.06zM0 2h2.06v1.06h-2.06zM3 2h2.06v1.06h-2.06zM6 2h11.06v1.06h-11.06zM18 2h5.06v1.06h-5.06zM37 2h2.06v1.06h-2.06zM2 3h1.06v1.06h-1.06zM7 3h1.06v1.06h-1.06zM14 3h1.06v1.06h-1.06zM16 3h1.06v1.06h-1.06zM20 3h3.06v1.06h-3.06zM25 3h1.06v1.06h-1.06zM35 3h1.06v1.06h-1.06zM37 3h1.06v1.06h-1.06zM8 4h1.06v1.06h-1.06zM17 4h1.06v1.06h-1.06zM33 4h1.06v1.06h-1.06zM2 5h1.06v1.06h-1.06zM7 5h1.06v1.06h-1.06zM11 5h1.06v1.06h-1.06zM17 5h1.06v1.06h-1.06zM22 5h1.06v1.06h-1.06zM28 5h2.06v1.06h-2.06zM3 6h2.06v1.06h-2.06zM6 6h4.06v1.06h-4.06zM14 6h9.06v1.06h-9.06zM30 6h1.06v1.06h-1.06zM37 6h2.06v1.06h-2.06zM40 6h1.06v1.06h-1.06zM7 7h1.06v1.06h-1.06zM10 7h1.06v1.06h-1.06zM28 7h1.06v1.06h-1.06zM34 7h3.06v1.06h-3.06zM40 7h1.06v1.06h-1.06zM42 7h1.06v1.06h-1.06zM2 8h1.06v1.06h-1.06zM9 8h1.06v1.06h-1.06zM19 8h1.06v1.06h-1.06zM23 8h1.06v1.06h-1.06zM1 9h3.06v1.06h-3.06zM5 9h3.06v1.06h-3.06zM16 9h1.06v1.06h-1.06zM18 9h1.06v1.06h-1.06zM28 9h1.06v1.06h-1.06zM44 9h2v1.06h-2zM13 10h1.06v1.06h-1.06zM17 10h1.06v1.06h-1.06zM33 10h1.06v1.06h-1.06zM38 10h1.06v1.06h-1.06zM1 11h3.06v1.06h-3.06zM6 11h2.06v1.06h-2.06zM10 11h2.06v1.06h-2.06zM21 11h2.06v1.06h-2.06zM24 11h2.06v1.06h-2.06zM35 11h1.06v1.06h-1.06zM24 12h1.06v1.06h-1.06zM33 12h1.06v1.06h-1.06zM36 12h1.06v1.06h-1.06zM39 12h1.06v1.06h-1.06zM6 13h1.06v1.06h-1.06zM16 13h1.06v1.06h-1.06zM18 13h2.06v1.06h-2.06zM22 13h1.06v1.06h-1.06zM27 13h1.06v1.06h-1.06zM31 13h1.06v1.06h-1.06zM38 13h3.06v1.06h-3.06zM44 13h2v1.06h-2zM17 14h1.06v1.06h-1.06zM20 14h2.06v1.06h-2.06zM33 14h1.06v1.06h-1.06zM45 14h1v1.06h-1zM0 15h1.06v1.06h-1.06zM6 15h2.06v1.06h-2.06zM14 15h1.06v1.06h-1.06zM18 15h1.06v1.06h-1.06zM34 15h1.06v1.06h-1.06zM0 16h3.06v1.06h-3.06zM23 16h3.06v1.06h-3.06zM0 17h12.06v1.06h-12.06zM27 17h1.06v1.06h-1.06zM31 17h3.06v1.06h-3.06zM38 17h1.06v1.06h-1.06zM40 17h1.06v1.06h-1.06zM44 17h2v1.06h-2zM19 18h4.06v1.06h-4.06zM15 19h1.06v1h-1.06zM18 19h3.06v1h-3.06zM22 19h1.06v1h-1.06z"/>
<path fill="#b6b6ff" d="M1 0h1.06v1.06h-1.06zM9 0h2.06v1.06h-2.06zM20 0h2.06v1.06h-2.06zM0 1h2.06v1.06h-2.06zM3 1h2.06v1.06h-2.06zM8 1h1.06v1.06h-1.06zM11 1h1.06v1.06h-1.06zM13 1h1.06v1.06h-1.06zM36 1h1.06v1.06h-1.06zM0 3h2.06v1.06h-2.06zM3 3h4.06v1.06h-4.06zM9 3h1.06v1.06h-1.06zM15 3h1.06v1.06h-1.06zM19 3h1.06v1.06h-1.06zM28 3h2.06v1.06h-2.06zM34 3h1.06v1.06h-1.06zM36 3h1.06v1.06h-1.06zM38 3h1.06v1.06h-1.06zM0 4h8.06v1.06h-8.06zM9 4h5.06v1.06h-5.06zM38 4h1.06v1.06h-1.06zM40 4h1.06v1.06h-1.06zM0 5h2.06v1.06h-2.06zM3 5h4.06v1.06h-4.06zM8 5h3.06v1.06h-3.06zM12 5h2.06v1.06h-2.06zM18 5h2.06v1.06h-2.06zM21 5h1.06v1.06h-1.06zM0 6h2.06v1.06h-2.06zM12 6h1.06v1.06h-1.06zM0 7h1.06v1.06h-1.06zM3 7h4.06v1.06h-4.06zM8 7h2.06v1.06h-2.06zM11 7h1.06v1.06h-1.06zM26 7h2.06v1.06h-2.06zM29 7h1.06v1.06h-1.06zM37 7h1.06v1.06h-1.06zM0 8h1.06v1.06h-1.06zM4 8h1.06v1.06h-1.06zM18 8h1.06v1.06h-1.06zM4 9h1.06v1.06h-1.06zM14 9h2.06v1.06h-2.06zM19 9h4.06v1.06h-4.06zM25 9h1.06v1.06h-1.06zM36 9h2.06v1.06h-2.06zM0 10h2.06v1.06h-2.06zM8 10h1.06v1.06h-1.06zM12 10h1.06v1.06h-1.06zM31 10h2.06v1.06h-2.06zM39 10h3.06v1.06h-3.06zM44 10h1.06v1.06h-1.06zM0 11h1.06v1.06h-1.06zM14 11h2.06v1.06h-2.06zM18 11h1.06v1.06h-1.06zM28 11h1.06v1.06h-1.06zM0 12h3.06v1.06h-3.06zM4 12h1.06v1.06h-1.06zM8 12h1.06v1.06h-1.06zM10 12h2.06v1.06h-2.06zM31 12h1.06v1.06h-1.06zM0 13h1.06v1.06h-1.06zM2 13h1.06v1.06h-1.06zM7 13h1.06v1.06h-1.06zM14 13h2.06v1.06h-2.06zM20 13h2.06v1.06h-2.06zM0 14h5.06v1.06h-5.06zM12 14h2.06v1.06h-2.06zM1 15h3.06v1.06h-3.06zM19 15h1.06v1.06h-1.06zM21 15h2.06v1.06h-2.06zM3 16h9.06v1.06h-9.06zM21 16h2.06v1.06h-2.06zM37 16h1.06v1.06h-1.06zM39 16h2.06v1.06h-2.06zM35 18h1.06v1.06h-1.06zM0 19h15.06v1h-15.06zM38 19h1.06v1h-1.06z"/>
<path fill="#e0e0fd" d="M6 0h1.06v1.06h-1.06zM12 0h2.06v1.06h-2.06zM15 0h1.06v1.06h-1.06zM18 0h1.06v1.06h-1.06zM31 0h1.06v1.06h-1.06zM40 0h1.06v1.06h-1.06zM9 1h1.06v1.06h-1.06zM22 1h1.06v1.06h-1.06zM27 1h1.06v1.06h-1.06zM37 1h1.06v1.06h-1.06zM45 1h1v1.06h-1zM5 2h1.06v1.06h-1.06zM23 2h3.06v1.06h-3.06zM27 2h1.06v1.06h-1.06zM31 2h1.06v1.06h-1.06zM35 2h1.06v1.06h-1.06zM44 2h2v1.06h-2zM27 3h1.06v1.06h-1.06zM14 4h1.06v1.06h-1.06zM21 4h1.06v1.06h-1.06zM27 4h1.06v1.06h-1.06zM32 4h1.06v1.06h-1.06zM37 4h1.06v1.06h-1.06zM42 4h3.06v1.06h-3.06zM15 5h1.06v1.06h-1.06zM35 5h3.06v1.06h-3.06zM26 6h4.06v1.06h-4.06zM31 6h1.06v1.06h-1.06zM33 6h1.06v1.06h-1.06zM35 6h1.06v1.06h-1.06zM39 6h1.06v1.06h-1.06zM42 6h1.06v1.06h-1.06zM30 7h1.06v1.06h-1.06zM41 7h1.06v1.06h-1.06zM15 8h2.06v1.06h-2.06zM21 8h2.06v1.06h-2.06zM29 8h1.06v1.06h-1.06zM34 8h1.06v1.06h-1.06zM36 8h1.06v1.06h-1.06zM38 8h1.06v1.06h-1.06zM42 8h1.06v1.06h-1.06zM8 9h1.06v1.06h-1.06zM13 9h1.06v1.06h-1.06zM27 9h1.06v1.06h-1.06zM29 9h1.06v1.06h-1.06zM31 9h1.06v1.06h-1.06zM34 9h2.06v1.06h-2.06zM40 9h1.06v1.06h-1.06zM5 10h1.06v1.06h-1.06zM7 10h1.06v1.06h-1.06zM9 10h1.06v1.06h-1.06zM20 10h1.06v1.06h-1.06zM26 10h3.06v1.06h-3.06zM4 11h2.06v1.06h-2.06zM9 11h1.06v1.06h-1.06zM16 11h1.06v1.06h-1.06zM19 11h1.06v1.06h-1.06zM27 11h1.06v1.06h-1.06zM31 11h1.06v1.06h-1.06zM34 11h1.06v1.06h-1.06zM36 11h1.06v1.06h-1.06zM27 12h1.06v1.06h-1.06zM34 12h1.06v1.06h-1.06zM5 13h1.06v1.06h-1.06zM12 13h2.06v1.06h-2.06zM26 13h1.06v1.06h-1.06zM28 13h3.06v1.06h-3.06zM32 13h1.06v1.06h-1.06zM18 14h2.06v1.06h-2.06zM31 14h2.06v1.06h-2.06zM5 15h1.06v1.06h-1.06zM13 15h1.06v1.06h-1.06zM15 15h2.06v1.06h-2.06zM26 15h2.06v1.06h-2.06zM31 15h1.06v1.06h-1.06zM36 15h1.06v1.06h-1.06zM43 15h1.06v1.06h-1.06zM30 16h1.06v1.06h-1.06zM34 16h3.06v1.06h-3.06zM42 16h1.06v1.06h-1.06zM22 17h5.06v1.06h-5.06zM28 17h3.06v1.06h-3.06zM34 17h4.06v1.06h-4.06zM39 17h1.06v1.06h-1.06zM42 17h2.06v1.06h-2.06zM14 18h1.06v1.06h-1.06zM18 18h1.06v1.06h-1.06zM36 18h1.06v1.06h-1.06zM43 18h1.06v1.06h-1.06zM21 19h1.06v1h-1.06zM40 19h1.06v1h-1.06zM45 19h1v1h-1z"/>
<path fill="#f7f7fb" d="M7 0h1.06v1.06h-1.06zM14 0h1.06v1.06h-1.06zM28 0h1.06v1.06h-1.06zM37 0h1.06v1.06h-1.06zM39 0h1.06v1.06h-1.06zM31 1h1.06v1.06h-1.06zM38 1h1.06v1.06h-1.06zM28 2h1.06v1.06h-1.06zM32 2h1.06v1.06h-1.06zM36 2h1.06v1.06h-1.06zM40 2h2.06v1.06h-2.06zM43 2h1.06v1.06h-1.06zM11 3h1.06v1.06h-1.06zM18 3h1.06v1.06h-1.06zM30 3h2.06v1.06h-2.06zM15 4h1.06v1.06h-1.06zM20 4h1.06v1.06h-1.06zM26 4h1.06v1.06h-1.06zM31 4h1.06v1.06h-1.06zM45 4h1v1.06h-1zM14 5h1.06v1.06h-1.06zM43 5h1.06v1.06h-1.06zM34 6h1.06v1.06h-1.06zM44 6h2v1.06h-2zM16 7h2.06v1.06h-2.06zM24 7h2.06v1.06h-2.06zM45 7h1v1.06h-1zM12 8h2.06v1.06h-2.06zM20 8h1.06v1.06h-1.06zM27 8h1.06v1.06h-1.06zM40 8h1.06v1.06h-1.06zM0 9h1.06v1.06h-1.06zM9 9h2.06v1.06h-2.06zM26 9h1.06v1.06h-1.06zM3 10h1.06v1.06h-1.06zM6 10h1.06v1.06h-1.06zM10 10h2.06v1.06h-2.06zM14 10h1.06v1.06h-1.06zM19 10h1.06v1.06h-1.06zM22 10h1.06v1.06h-1.06zM35 10h1.06v1.06h-1.06zM45 10h1v1.06h-1zM8 11h1.06v1.06h-1.06zM20 11h1.06v1.06h-1.06zM26 11h1.06v1.06h-1.06zM41 11h1.06v1.06h-1.06zM44 11h1.06v1.06h-1.06zM26 12h1.06v1.06h-1.06zM3 13h1.06v1.06h-1.06zM43 13h1.06v1.06h-1.06zM22 14h1.06v1.06h-1.06zM35 14h2.06v1.06h-2.06zM43 14h1.06v1.06h-1.06zM8 15h1.06v1.06h-1.06zM28 15h1.06v1.06h-1.06zM44 15h1.06v1.06h-1.06zM27 16h2.06v1.06h-2.06zM41 17h1.06v1.06h-1.06zM13 18h1.06v1.06h-1.06zM15 18h2.06v1.06h-2.06zM26 18h2.06v1.06h-2.06zM31 18h1.06v1.06h-1.06zM37 18h1.06v1.06h-1.06zM44 18h1.06v1.06h-1.06zM16 19h2.06v1h-2.06zM24 19h1.06v1h-1.06zM27 19h1.06v1h-1.06zM34 19h1.06v1h-1.06zM36 19h1.06v1h-1.06zM39 19h1.06v1h-1.06z"/>
<path fill="#ef9292" d="M8 0h1.06v1.06h-1.06zM30 0h1.06v1.06h-1.06zM23 1h1.06v1.06h-1.06zM29 1h1.06v1.06h-1.06zM32 1h1.06v1.06h-1.06zM40 1h2.06v1.06h-2.06zM43 1h2.06v1.06h-2.06zM26 2h1.06v1.06h-1.06zM12 3h1.06v1.06h-1.06zM24 3h1.06v1.06h-1.06zM33 3h1.06v1.06h-1.06zM41 3h1.06v1.06h-1.06zM43 3h1.06v1.06h-1.06zM36 4h1.06v1.06h-1.06zM39 4h1.06v1.06h-1.06zM23 5h1.06v1.06h-1.06zM25 5h1.06v1.06h-1.06zM31 5h1.06v1.06h-1.06zM45 5h1v1.06h-1zM10 6h1.06v1.06h-1.06zM23 6h2.06v1.06h-2.06zM39 7h1.06v1.06h-1.06zM14 8h1.06v1.06h-1.06zM33 8h1.06v1.06h-1.06zM43 8h1.06v1.06h-1.06zM45 8h1v1.06h-1zM33 9h1.06v1.06h-1.06zM39 9h1.06v1.06h-1.06zM21 10h1.06v1.06h-1.06zM24 10h1.06v1.06h-1.06zM34 10h1.06v1.06h-1.06zM43 10h1.06v1.06h-1.06zM12 11h1.06v1.06h-1.06zM14 12h1.06v1.06h-1.06zM16 12h1.06v1.06h-1.06zM18 12h1.06v1.06h-1.06zM22 12h1.06v1.06h-1.06zM44 12h1.06v1.06h-1.06zM4 13h1.06v1.06h-1.06zM9 13h1.06v1.06h-1.06zM17 13h1.06v1.06h-1.06zM23 13h3.06v1.06h-3.06zM14 14h1.06v1.06h-1.06zM25 14h1.06v1.06h-1.06zM39 14h1.06v1.06h-1.06zM25 15h1.06v1.06h-1.06zM30 15h1.06v1.06h-1.06zM32 15h1.06v1.06h-1.06zM38 15h1.06v1.06h-1.06zM41 15h1.06v1.06h-1.06zM17 16h2.06v1.06h-2.06zM20 16h1.06v1.06h-1.06zM31 16h3.06v1.06h-3.06zM43 16h1.06v1.06h-1.06zM45 16h1v1.06h-1zM14 17h2.06v1.06h-2.06zM17 17h1.06v1.06h-1.06zM19 17h2.06v1.06h-2.06zM12 18h1.06v1.06h-1.06zM17 18h1.06v1.06h-1.06zM23 18h1.06v1.06h-1.06zM25 18h1.06v1.06h-1.06zM29 18h2.06v1.06h-2.06zM32 18h1.06v1.06h-1.06zM34 18h1.06v1.06h-1.06zM39 18h1.06v1.06h-1.06zM41 18h1.06v1.06h-1.06zM25 19h1.06v1h-1.06zM29 19h1.06v1h-1.06zM31 19h1.06v1h-1.06zM35 19h1.06v1h-1.06zM44 19h1.06v1h-1.06z"/>
<path fill="#f3bdbd" d="M17 0h1.06v1.06h-1.06zM32 0h1.06v1.06h-1.06zM41 0h3.06v1.06h-3.06zM12 1h1.06v1.06h-1.06zM17 1h1.06v1.06h-1.06zM25 1h2.06v1.06h-2.06zM30 1h1.06v1.06h-1.06zM33 1h1.06v1.06h-1.06zM30 2h1.06v1.06h-1.06zM23 3h1.06v1.06h-1.06zM26 3h1.06v1.06h-1.06zM44 3h2v1.06h-2zM25 4h1.06v1.06h-1.06zM28 4h3.06v1.06h-3.06zM35 4h1.06v1.06h-1.06zM26 5h1.06v1.06h-1.06zM39 5h1.06v1.06h-1.06zM41 5h2.06v1.06h-2.06zM5 6h1.06v1.06h-1.06zM11 6h1.06v1.06h-1.06zM43 7h2.06v1.06h-2.06zM24 8h3.06v1.06h-3.06zM31 8h2.06v1.06h-2.06zM37 8h1.06v1.06h-1.06zM39 8h1.06v1.06h-1.06zM24 9h1.06v1.06h-1.06zM38 9h1.06v1.06h-1.06zM41 9h1.06v1.06h-1.06zM13 11h1.06v1.06h-1.06zM32 11h2.06v1.06h-2.06zM43 11h1.06v1.06h-1.06zM15 12h1.06v1.06h-1.06zM17 12h1.06v1.06h-1.06zM23 12h1.06v1.06h-1.06zM30 12h1.06v1.06h-1.06zM38 12h1.06v1.06h-1.06zM8 13h1.06v1.06h-1.06zM10 13h2.06v1.06h-2.06zM23 14h1.06v1.06h-1.06zM26 14h2.06v1.06h-2.06zM29 14h1.06v1.06h-1.06zM34 14h1.06v1.06h-1.06zM37 14h1.06v1.06h-1.06zM41 14h2.06v1.06h-2.06zM44 14h1.06v1.06h-1.06zM12 15h1.06v1.06h-1.06zM24 15h1.06v1.06h-1.06zM29 15h1.06v1.06h-1.06zM33 15h1.06v1.06h-1.06zM37 15h1.06v1.06h-1.06zM14 16h1.06v1.06h-1.06zM29 16h1.06v1.06h-1.06zM12 17h1.06v1.06h-1.06zM21 17h1.06v1.06h-1.06zM24 18h1.06v1.06h-1.06zM28 18h1.06v1.06h-1.06zM33 18h1.06v1.06h-1.06zM38 18h1.06v1.06h-1.06zM40 18h1.06v1.06h-1.06zM26 19h1.06v1h-1.06zM28 19h1.06v1h-1.06zM41 19h2.06v1h-2.06z"/>
<path fill="#ef6262" d="M23 0h1.06v1.06h-1.06zM25 0h1.06v1.06h-1.06zM24 1h1.06v1.06h-1.06zM39 1h1.06v1.06h-1.06zM33 2h1.06v1.06h-1.06zM13 3h1.06v1.06h-1.06zM17 3h1.06v1.06h-1.06zM39 3h1.06v1.06h-1.06zM42 3h1.06v1.06h-1.06zM23 4h1.06v1.06h-1.06zM24 5h1.06v1.06h-1.06zM27 5h1.06v1.06h-1.06zM38 5h1.06v1.06h-1.06zM40 5h1.06v1.06h-1.06zM25 6h1.06v1.06h-1.06zM12 7h1.06v1.06h-1.06zM18 7h2.06v1.06h-2.06zM21 7h2.06v1.06h-2.06zM28 8h1.06v1.06h-1.06zM44 8h1.06v1.06h-1.06zM32 9h1.06v1.06h-1.06zM43 9h1.06v1.06h-1.06zM4 10h1.06v1.06h-1.06zM16 10h1.06v1.06h-1.06zM25 10h1.06v1.06h-1.06zM40 11h1.06v1.06h-1.06zM12 12h2.06v1.06h-2.06zM19 12h3.06v1.06h-3.06zM28 12h1.06v1.06h-1.06zM34 13h1.06v1.06h-1.06zM42 13h1.06v1.06h-1.06zM24 14h1.06v1.06h-1.06zM28 14h1.06v1.06h-1.06zM38 14h1.06v1.06h-1.06zM17 15h1.06v1.06h-1.06zM23 15h1.06v1.06h-1.06zM39 15h1.06v1.06h-1.06zM12 16h1.06v1.06h-1.06zM16 17h1.06v1.06h-1.06zM23 19h1.06v1h-1.06zM32 19h1.06v1h-1.06z"/>
<path fill="#f9e9e9" d="M24 0h1.06v1.06h-1.06zM29 0h1.06v1.06h-1.06zM34 0h1.06v1.06h-1.06zM44 0h1.06v1.06h-1.06zM35 1h1.06v1.06h-1.06zM29 2h1.06v1.06h-1.06zM34 2h1.06v1.06h-1.06zM39 2h1.06v1.06h-1.06zM8 3h1.06v1.06h-1.06zM40 3h1.06v1.06h-1.06zM16 4h1.06v1.06h-1.06zM19 4h1.06v1.06h-1.06zM22 4h1.06v1.06h-1.06zM24 4h1.06v1.06h-1.06zM34 4h1.06v1.06h-1.06zM16 5h1.06v1.06h-1.06zM30 5h1.06v1.06h-1.06zM32 5h3.06v1.06h-3.06zM36 6h1.06v1.06h-1.06zM14 7h2.06v1.06h-2.06zM23 7h1.06v1.06h-1.06zM31 7h3.06v1.06h-3.06zM30 8h1.06v1.06h-1.06zM11 9h2.06v1.06h-2.06zM17 9h1.06v1.06h-1.06zM30 9h1.06v1.06h-1.06zM15 10h1.06v1.06h-1.06zM18 10h1.06v1.06h-1.06zM23 10h1.06v1.06h-1.06zM29 10h2.06v1.06h-2.06zM36 10h1.06v1.06h-1.06zM29 11h2.06v1.06h-2.06zM38 11h2.06v1.06h-2.06zM25 12h1.06v1.06h-1.06zM29 12h1.06v1.06h-1.06zM35 12h1.06v1.06h-1.06zM37 12h1.06v1.06h-1.06zM41 12h3.06v1.06h-3.06zM45 12h1v1.06h-1zM1 13h1.06v1.06h-1.06zM37 13h1.06v1.06h-1.06zM15 14h2.06v1.06h-2.06zM30 14h1.06v1.06h-1.06zM40 15h1.06v1.06h-1.06zM45 15h1v1.06h-1zM15 16h2.06v1.06h-2.06zM19 16h1.06v1.06h-1.06zM26 16h1.06v1.06h-1.06zM38 16h1.06v1.06h-1.06zM41 16h1.06v1.06h-1.06zM45 18h1v1.06h-1zM30 19h1.06v1h-1.06zM33 19h1.06v1h-1.06z"/>
<path fill="#8080ff" d="M35 0h1.06v1.06h-1.06zM40 12h1.06v1.06h-1.06z"/>
<path fill="#fd2a1e" d="M38 0h1.06v1.06h-1.06zM42 1h1.06v1.06h-1.06zM2 2h1.06v1.06h-1.06zM17 2h1.06v1.06h-1.06zM42 2h1.06v1.06h-1.06zM32 3h1.06v1.06h-1.06zM18 4h1.06v1.06h-1.06zM41 4h1.06v1.06h-1.06zM44 5h1.06v1.06h-1.06zM32 6h1.06v1.06h-1.06zM41 6h1.06v1.06h-1.06zM43 6h1.06v1.06h-1.06zM13 7h1.06v1.06h-1.06zM20 7h1.06v1.06h-1.06zM1 8h1.06v1.06h-1.06zM41 8h1.06v1.06h-1.06zM23 9h1.06v1.06h-1.06zM42 9h1.06v1.06h-1.06zM37 10h1.06v1.06h-1.06zM17 11h1.06v1.06h-1.06zM23 11h1.06v1.06h-1.06zM42 11h1.06v1.06h-1.06zM33 13h1.06v1.06h-1.06zM41 13h1.06v1.06h-1.06zM40 14h1.06v1.06h-1.06zM42 15h1.06v1.06h-1.06zM13 16h1.06v1.06h-1.06zM44 16h1.06v1.06h-1.06zM13 17h1.06v1.06h-1.06zM18 17h1.06v1.06h-1.06zM42 18h1.06v1.06h-1.06zM37 19h1.06v1h-1.06zM43 19h1.06v1h-1.06z"/>
<path fill="#9d9dff" d="M2 1h1.06v1.06h-1.06zM6 1h2.06v1.06h-2.06zM14 1h3.06v1.06h-3.06zM10 3h1.06v1.06h-1.06zM20 5h1.06v1.06h-1.06zM2 6h1.06v1.06h-1.06zM13 6h1.06v1.06h-1.06zM1 7h2.06v1.06h-2.06zM38 7h1.06v1.06h-1.06zM3 8h1.06v1.06h-1.06zM5 8h4.06v1.06h-4.06zM10 8h2.06v1.06h-2.06zM17 8h1.06v1.06h-1.06zM35 8h1.06v1.06h-1.06zM2 10h1.06v1.06h-1.06zM42 10h1.06v1.06h-1.06zM37 11h1.06v1.06h-1.06zM45 11h1v1.06h-1zM3 12h1.06v1.06h-1.06zM5 12h3.06v1.06h-3.06zM9 12h1.06v1.06h-1.06zM32 12h1.06v1.06h-1.06zM35 13h2.06v1.06h-2.06zM5 14h7.06v1.06h-7.06zM4 15h1.06v1.06h-1.06zM9 15h3.06v1.06h-3.06zM20 15h1.06v1.06h-1.06zM35 15h1.06v1.06h-1.06zM0 18h12.06v1.06h-12.06z"/>
</g>
<line x1="134.4" y1="246.4" x2="220.5" y2="246.4" stroke="#222" stroke-width="1.3"/>
<text x="180.75" y="241.5" text-anchor="middle" style="font-family:'Liberation Sans',sans-serif;font-weight:bold;font-size:11.1px">D0</text>
<rect x="133.60" y="252.6" width="23.48" height="37.90" fill="#fff" stroke="#333" stroke-width="0.9"/>
<text transform="translate(148.24,286.90) rotate(-90)" style="font-family:'Liberation Sans',sans-serif;font-size:8px;fill:#000;stroke:#000;stroke-width:0.2">H9</text>
<rect x="157.08" y="252.6" width="23.48" height="37.90" fill="#fff" stroke="#333" stroke-width="0.9"/>
<text transform="translate(171.72,286.90) rotate(-90)" style="font-family:'Liberation Sans',sans-serif;font-size:8px;fill:#000;stroke:#000;stroke-width:0.2">is070a</text>
<rect x="180.56" y="252.6" width="23.48" height="37.90" fill="#fff" stroke="#333" stroke-width="0.9"/>
<text transform="translate(195.19,286.90) rotate(-90)" style="font-family:'Liberation Sans',sans-serif;font-size:8px;fill:#000;stroke:#000;stroke-width:0.2">i70b</text>
<rect x="204.03" y="252.6" width="23.48" height="37.90" fill="#fff" stroke="#333" stroke-width="0.9"/>
<text transform="translate(218.67,286.90) rotate(-90)" style="font-family:'Liberation Sans',sans-serif;font-size:8px;fill:#000;stroke:#000;stroke-width:0.2">i173b</text>
<line x1="228.7" y1="246.4" x2="308.7" y2="246.4" stroke="#222" stroke-width="1.3"/>
<text x="266.4" y="241.5" text-anchor="middle" style="font-family:'Liberation Sans',sans-serif;font-weight:bold;font-size:11.1px">D13</text>
<rect x="227.51" y="252.6" width="15.65" height="37.90" fill="#fff" stroke="#333" stroke-width="0.9"/>
<text transform="translate(238.24,286.90) rotate(-90)" style="font-family:'Liberation Sans',sans-serif;font-size:8px;fill:#000;stroke:#000;stroke-width:0.2">H9</text>
<rect x="243.16" y="252.6" width="23.48" height="37.90" fill="#fff" stroke="#333" stroke-width="0.9"/>
<text transform="translate(257.80,286.90) rotate(-90)" style="font-family:'Liberation Sans',sans-serif;font-size:8px;fill:#000;stroke:#000;stroke-width:0.2">is070a</text>
<rect x="266.64" y="252.6" width="23.48" height="37.90" fill="#fff" stroke="#333" stroke-width="0.9"/>
<text transform="translate(281.28,286.90) rotate(-90)" style="font-family:'Liberation Sans',sans-serif;font-size:8px;fill:#000;stroke:#000;stroke-width:0.2">i70b</text>
<rect x="290.12" y="252.6" width="23.48" height="37.90" fill="#fff" stroke="#333" stroke-width="0.9"/>
<text transform="translate(304.76,286.90) rotate(-90)" style="font-family:'Liberation Sans',sans-serif;font-size:8px;fill:#000;stroke:#000;stroke-width:0.2">i173b</text>
<line x1="315.2" y1="246.4" x2="397.8" y2="246.4" stroke="#222" stroke-width="1.3"/>
<text x="354.3" y="241.5" text-anchor="middle" style="font-family:'Liberation Sans',sans-serif;font-weight:bold;font-size:11.1px">D20</text>
<rect x="313.60" y="252.6" width="23.48" height="37.90" fill="#fff" stroke="#333" stroke-width="0.9"/>
<text transform="translate(328.24,286.90) rotate(-90)" style="font-family:'Liberation Sans',sans-serif;font-size:8px;fill:#000;stroke:#000;stroke-width:0.2">H9</text>
<rect x="337.08" y="252.6" width="15.65" height="37.90" fill="#fff" stroke="#333" stroke-width="0.9"/>
<text transform="translate(347.80,286.90) rotate(-90)" style="font-family:'Liberation Sans',sans-serif;font-size:8px;fill:#000;stroke:#000;stroke-width:0.2">is070a</text>
<rect x="352.73" y="252.6" width="23.48" height="37.90" fill="#fff" stroke="#333" stroke-width="0.9"/>
<text transform="translate(367.37,286.90) rotate(-90)" style="font-family:'Liberation Sans',sans-serif;font-size:8px;fill:#000;stroke:#000;stroke-width:0.2">i70b</text>
<rect x="376.21" y="252.6" width="23.48" height="37.90" fill="#fff" stroke="#333" stroke-width="0.9"/>
<text transform="translate(390.84,286.90) rotate(-90)" style="font-family:'Liberation Sans',sans-serif;font-size:8px;fill:#000;stroke:#000;stroke-width:0.2">i173b</text>
<line x1="404.2" y1="246.4" x2="489.8" y2="246.4" stroke="#222" stroke-width="1.3"/>
<text x="448" y="241.5" text-anchor="middle" style="font-family:'Liberation Sans',sans-serif;font-weight:bold;font-size:11.1px">D35</text>
<rect x="399.68" y="252.6" width="23.48" height="37.90" fill="#fff" stroke="#333" stroke-width="0.9"/>
<text transform="translate(414.32,286.90) rotate(-90)" style="font-family:'Liberation Sans',sans-serif;font-size:8px;fill:#000;stroke:#000;stroke-width:0.2">H9</text>
<rect x="423.16" y="252.6" width="23.48" height="37.90" fill="#fff" stroke="#333" stroke-width="0.9"/>
<text transform="translate(437.80,286.90) rotate(-90)" style="font-family:'Liberation Sans',sans-serif;font-size:8px;fill:#000;stroke:#000;stroke-width:0.2">is070a</text>
<rect x="446.64" y="252.6" width="23.48" height="37.90" fill="#fff" stroke="#333" stroke-width="0.9"/>
<text transform="translate(461.28,286.90) rotate(-90)" style="font-family:'Liberation Sans',sans-serif;font-size:8px;fill:#000;stroke:#000;stroke-width:0.2">i70b</text>
<rect x="470.12" y="252.6" width="23.48" height="37.90" fill="#fff" stroke="#333" stroke-width="0.9"/>
<text transform="translate(484.76,286.90) rotate(-90)" style="font-family:'Liberation Sans',sans-serif;font-size:8px;fill:#000;stroke:#000;stroke-width:0.2">i173b</text>
<text x="495.1" y="297.70" style="font-family:'Liberation Mono',monospace;font-size:7.45px;fill:#111">ZBED3</text>
<text x="495.1" y="305.50" style="font-family:'Liberation Mono',monospace;font-size:7.45px;fill:#111">CCDC3</text>
<text x="495.1" y="313.30" style="font-family:'Liberation Mono',monospace;font-size:7.45px;fill:#111">PTPRE</text>
<text x="495.1" y="321.10" style="font-family:'Liberation Mono',monospace;font-size:7.45px;fill:#111">PDE1B</text>
<text x="495.1" y="328.90" style="font-family:'Liberation Mono',monospace;font-size:7.45px;fill:#111">HTR2A</text>
<text x="495.1" y="336.70" style="font-family:'Liberation Mono',monospace;font-size:7.45px;fill:#111">UNC80</text>
<text x="495.1" y="344.50" style="font-family:'Liberation Mono',monospace;font-size:7.45px;fill:#111">TMCC3</text>
<text x="495.1" y="352.30" style="font-family:'Liberation Mono',monospace;font-size:7.45px;fill:#111">NAATS1</text>
<text x="495.1" y="360.10" style="font-family:'Liberation Mono',monospace;font-size:7.45px;fill:#111">KDM3A</text>
<text x="495.1" y="367.90" style="font-family:'Liberation Mono',monospace;font-size:7.45px;fill:#111">SEMA4G</text>
<text x="495.1" y="375.70" style="font-family:'Liberation Mono',monospace;font-size:7.45px;fill:#111">SAX02</text>
<text x="495.1" y="383.50" style="font-family:'Liberation Mono',monospace;font-size:7.45px;fill:#111">ZNF688</text>
<text x="495.1" y="391.30" style="font-family:'Liberation Mono',monospace;font-size:7.45px;fill:#111">MAK</text>
<text x="495.1" y="399.10" style="font-family:'Liberation Mono',monospace;font-size:7.45px;fill:#111">NRAS</text>
<text x="495.1" y="406.90" style="font-family:'Liberation Mono',monospace;font-size:7.45px;fill:#111">PCDH15</text>
<text x="495.1" y="414.70" style="font-family:'Liberation Mono',monospace;font-size:7.45px;fill:#111">HIPK2</text>
<text x="495.1" y="422.50" style="font-family:'Liberation Mono',monospace;font-size:7.45px;fill:#111">BAALC</text>
<text x="495.1" y="430.30" style="font-family:'Liberation Mono',monospace;font-size:7.45px;fill:#111">KCNK2</text>
<text x="495.1" y="438.10" style="font-family:'Liberation Mono',monospace;font-size:7.45px;fill:#111">ZFHX3</text>
<text x="495.1" y="445.90" style="font-family:'Liberation Mono',monospace;font-size:7.45px;fill:#111">TM4SF4</text>
<rect x="534.0" y="226" width="30.499999999999954" height="62.4" fill="#efefef"/>
<rect x="525.7" y="226.00" width="8.3" height="8.80" fill="#0a00ff"/>
<text x="534.30" y="235.50" style="font-family:'Liberation Sans',sans-serif;font-size:8.3px;fill:#333">-3.00</text>
<rect x="525.7" y="234.60" width="8.3" height="8.80" fill="#5a52ff"/>
<text x="534.30" y="244.10" style="font-family:'Liberation Sans',sans-serif;font-size:8.3px;fill:#333">-2.00</text>
<rect x="525.7" y="243.20" width="8.3" height="8.80" fill="#a8a8ff"/>
<text x="534.30" y="252.70" style="font-family:'Liberation Sans',sans-serif;font-size:8.3px;fill:#333">-1.00</text>
<rect x="525.7" y="251.80" width="8.3" height="8.80" fill="#ffffff"/>
<text x="534.60" y="261.30" style="font-family:'Liberation Sans',sans-serif;font-size:8.3px;fill:#333">0.00</text>
<rect x="525.7" y="260.40" width="8.3" height="8.80" fill="#f2a3a8"/>
<text x="534.60" y="269.90" style="font-family:'Liberation Sans',sans-serif;font-size:8.3px;fill:#333">1.00</text>
<rect x="525.7" y="269.00" width="8.3" height="8.80" fill="#f0545e"/>
<text x="534.60" y="278.50" style="font-family:'Liberation Sans',sans-serif;font-size:8.3px;fill:#333">2.00</text>
<rect x="525.7" y="277.60" width="8.3" height="8.80" fill="#ff1a10"/>
<text x="534.60" y="287.10" style="font-family:'Liberation Sans',sans-serif;font-size:8.3px;fill:#333">3.00</text>
<text x="176.4" y="479.3" style="font-family:'Liberation Sans',sans-serif;font-weight:bold;font-size:15px">Upregulated in D20 and D35, Increasing</text>
<text x="0.4" y="482.8" style="font-family:'Liberation Sans',sans-serif;font-weight:bold;font-size:23.5px">E</text>
<rect x="70.2" y="485.1" width="10.10" height="98.20" fill="url(#pB)"/>
<rect x="80.3" y="485.1" width="9.30" height="64.90" fill="url(#pW)"/>
<rect x="80.3" y="550" width="9.30" height="33.30" fill="url(#pM)"/>
<rect x="89.6" y="485.1" width="9.00" height="98.20" fill="url(#pW)"/>
<rect x="98.6" y="485.1" width="8.40" height="98.20" fill="url(#pRR)"/>
<rect x="107" y="485.1" width="1.4" height="98.19999999999993" fill="#dddddd"/>
<rect x="71.30" y="479.90000000000003" width="7.36" height="3.2" fill="#e3e3e3"/>
<rect x="80.50" y="479.90000000000003" width="7.36" height="3.2" fill="#e3e3e3"/>
<rect x="89.70" y="479.90000000000003" width="7.36" height="3.2" fill="#e3e3e3"/>
<rect x="98.90" y="479.90000000000003" width="7.36" height="3.2" fill="#e3e3e3"/>
<rect x="70.2" y="485.1" width="42.3" height="13.699999999999989" fill="none" stroke="#111" stroke-width="1.3"/>
<line x1="112.5" y1="485.1" x2="141" y2="552.7" stroke="#777" stroke-width="0.9"/>
<line x1="112.5" y1="498.8" x2="141" y2="695.5" stroke="#777" stroke-width="0.9"/>
<g transform="translate(141 552.7) scale(7.63 7.14)">
<path fill="#cacaff" d="M0 0h23.06v1.06h-23.06zM24 0h10.06v1.06h-10.06zM0 1h34.06v1.06h-34.06zM20 2h1.06v1.06h-1.06zM24 2h1.06v1.06h-1.06zM26 2h1.06v1.06h-1.06zM28 2h1.06v1.06h-1.06zM0 3h31.06v1.06h-31.06zM0 4h21.06v1.06h-21.06zM22 4h5.06v1.06h-5.06zM28 4h5.06v1.06h-5.06zM37 4h1.06v1.06h-1.06zM0 5h4.06v1.06h-4.06zM5 5h2.06v1.06h-2.06zM9 5h5.06v1.06h-5.06zM16 5h1.06v1.06h-1.06zM23 5h4.06v1.06h-4.06zM28 5h1.06v1.06h-1.06zM31 5h3.06v1.06h-3.06zM25 6h2.06v1.06h-2.06zM28 6h1.06v1.06h-1.06zM33 6h1.06v1.06h-1.06zM0 7h14.06v1.06h-14.06zM16 7h3.06v1.06h-3.06zM20 7h14.06v1.06h-14.06zM0 8h26.06v1.06h-26.06zM28 8h1.06v1.06h-1.06zM23 9h1.06v1.06h-1.06zM25 9h1.06v1.06h-1.06zM5 10h2.06v1.06h-2.06zM12 10h9.06v1.06h-9.06zM23 10h4.06v1.06h-4.06zM31 10h3.06v1.06h-3.06zM3 11h9.06v1.06h-9.06zM15 11h3.06v1.06h-3.06zM19 11h4.06v1.06h-4.06zM24 11h1.06v1.06h-1.06zM27 11h1.06v1.06h-1.06zM31 11h3.06v1.06h-3.06zM4 12h1.06v1.06h-1.06zM6 12h1.06v1.06h-1.06zM10 12h1.06v1.06h-1.06zM13 12h1.06v1.06h-1.06zM15 12h1.06v1.06h-1.06zM17 12h1.06v1.06h-1.06zM23 12h1.06v1.06h-1.06zM25 12h1.06v1.06h-1.06zM32 12h1.06v1.06h-1.06zM6 13h1.06v1.06h-1.06zM25 13h4.06v1.06h-4.06zM30 13h1.06v1.06h-1.06zM0 14h3.06v1.06h-3.06zM12 14h14.06v1.06h-14.06zM27 14h1.06v1.06h-1.06zM29 14h3.06v1.06h-3.06zM33 14h1.06v1.06h-1.06zM0 15h5.06v1.06h-5.06zM6 15h5.06v1.06h-5.06zM12 15h7.06v1.06h-7.06zM20 15h8.06v1.06h-8.06zM4 16h1.06v1.06h-1.06zM7 16h1.06v1.06h-1.06zM14 16h2.06v1.06h-2.06zM26 16h1.06v1.06h-1.06zM29 16h1.06v1.06h-1.06zM0 17h4.06v1.06h-4.06zM12 17h8.06v1.06h-8.06zM23 17h3.06v1.06h-3.06zM27 17h1.06v1.06h-1.06zM29 17h1.06v1.06h-1.06zM32 17h1.06v1.06h-1.06zM3 18h4.06v1.06h-4.06zM12 18h1.06v1.06h-1.06zM14 18h1.06v1.06h-1.06zM17 18h2.06v1.06h-2.06zM23 18h3.06v1.06h-3.06zM27 18h1.06v1.06h-1.06zM29 18h2.06v1.06h-2.06zM0 19h10.06v1h-10.06zM11 19h5.06v1h-5.06zM18 19h2.06v1h-2.06zM23 19h3.06v1h-3.06zM28 19h2.06v1h-2.06zM31 19h3.06v1h-3.06z"/>
<path fill="#e0e0fd" d="M23 0h1.06v1.06h-1.06zM12 2h5.06v1.06h-5.06zM18 2h2.06v1.06h-2.06zM22 2h2.06v1.06h-2.06zM29 2h2.06v1.06h-2.06zM33 2h1.06v1.06h-1.06zM40 2h1.06v1.06h-1.06zM31 3h2.06v1.06h-2.06zM40 3h1.06v1.06h-1.06zM21 4h1.06v1.06h-1.06zM33 4h1.06v1.06h-1.06zM14 5h2.06v1.06h-2.06zM18 5h3.06v1.06h-3.06zM22 5h1.06v1.06h-1.06zM40 5h1.06v1.06h-1.06zM13 6h1.06v1.06h-1.06zM23 6h1.06v1.06h-1.06zM29 6h2.06v1.06h-2.06zM14 7h2.06v1.06h-2.06zM19 7h1.06v1.06h-1.06zM37 7h4.06v1.06h-4.06zM26 8h2.06v1.06h-2.06zM29 8h4.06v1.06h-4.06zM21 9h2.06v1.06h-2.06zM28 9h2.06v1.06h-2.06zM3 10h2.06v1.06h-2.06zM7 10h1.06v1.06h-1.06zM27 10h1.06v1.06h-1.06zM12 11h1.06v1.06h-1.06zM14 11h1.06v1.06h-1.06zM18 11h1.06v1.06h-1.06zM23 11h1.06v1.06h-1.06zM25 11h2.06v1.06h-2.06zM28 11h3.06v1.06h-3.06zM8 12h1.06v1.06h-1.06zM12 12h1.06v1.06h-1.06zM14 12h1.06v1.06h-1.06zM16 12h1.06v1.06h-1.06zM18 12h1.06v1.06h-1.06zM20 12h3.06v1.06h-3.06zM29 12h1.06v1.06h-1.06zM39 12h1.06v1.06h-1.06zM17 13h4.06v1.06h-4.06zM22 13h2.06v1.06h-2.06zM31 13h3.06v1.06h-3.06zM37 13h1.06v1.06h-1.06zM3 14h9.06v1.06h-9.06zM26 14h1.06v1.06h-1.06zM28 14h1.06v1.06h-1.06zM32 14h1.06v1.06h-1.06zM38 14h2.06v1.06h-2.06zM5 15h1.06v1.06h-1.06zM11 15h1.06v1.06h-1.06zM31 15h3.06v1.06h-3.06zM37 15h1.06v1.06h-1.06zM12 16h2.06v1.06h-2.06zM16 16h1.06v1.06h-1.06zM23 16h1.06v1.06h-1.06zM39 16h1.06v1.06h-1.06zM4 17h8.06v1.06h-8.06zM20 17h3.06v1.06h-3.06zM26 17h1.06v1.06h-1.06zM28 17h1.06v1.06h-1.06zM30 17h2.06v1.06h-2.06zM33 17h1.06v1.06h-1.06zM38 17h1.06v1.06h-1.06zM40 17h1.06v1.06h-1.06zM42 17h1.06v1.06h-1.06zM13 18h1.06v1.06h-1.06zM19 18h2.06v1.06h-2.06zM26 18h1.06v1.06h-1.06zM31 18h2.06v1.06h-2.06zM37 18h1.06v1.06h-1.06zM10 19h1.06v1h-1.06zM16 19h2.06v1h-2.06zM26 19h2.06v1h-2.06zM38 19h1.06v1h-1.06z"/>
<path fill="#ef9292" d="M34 0h1.06v1.06h-1.06zM41 0h1.06v1.06h-1.06zM34 1h1.06v1.06h-1.06zM40 1h3.06v1.06h-3.06zM34 2h2.06v1.06h-2.06zM41 2h1.06v1.06h-1.06zM43 3h1.06v1.06h-1.06zM39 4h1.06v1.06h-1.06zM43 4h1.06v1.06h-1.06zM36 5h1.06v1.06h-1.06zM43 5h1.06v1.06h-1.06zM18 6h2.06v1.06h-2.06zM36 6h1.06v1.06h-1.06zM45 6h1v1.06h-1zM34 7h1.06v1.06h-1.06zM41 7h2.06v1.06h-2.06zM34 8h1.06v1.06h-1.06zM36 8h1.06v1.06h-1.06zM41 8h1.06v1.06h-1.06zM12 9h1.06v1.06h-1.06zM14 9h1.06v1.06h-1.06zM17 9h2.06v1.06h-2.06zM34 9h1.06v1.06h-1.06zM38 9h1.06v1.06h-1.06zM44 9h1.06v1.06h-1.06zM34 10h1.06v1.06h-1.06zM36 10h1.06v1.06h-1.06zM39 10h1.06v1.06h-1.06zM41 10h1.06v1.06h-1.06zM34 11h1.06v1.06h-1.06zM43 12h1.06v1.06h-1.06zM45 12h1v1.06h-1zM35 13h1.06v1.06h-1.06zM37 14h1.06v1.06h-1.06zM44 15h1.06v1.06h-1.06zM17 16h1.06v1.06h-1.06zM19 16h1.06v1.06h-1.06zM43 16h1.06v1.06h-1.06zM45 16h1v1.06h-1zM34 19h1.06v1h-1.06z"/>
<path fill="#ef6262" d="M35 0h2.06v1.06h-2.06zM38 0h1.06v1.06h-1.06zM42 0h4v1.06h-4zM35 1h2.06v1.06h-2.06zM43 1h1.06v1.06h-1.06zM45 1h1v1.06h-1zM36 2h1.06v1.06h-1.06zM42 2h4v1.06h-4zM34 3h2.06v1.06h-2.06zM42 3h1.06v1.06h-1.06zM44 3h2v1.06h-2zM40 4h3.06v1.06h-3.06zM44 4h1.06v1.06h-1.06zM34 5h2.06v1.06h-2.06zM42 5h1.06v1.06h-1.06zM45 5h1v1.06h-1zM34 6h1.06v1.06h-1.06zM43 6h2.06v1.06h-2.06zM35 7h2.06v1.06h-2.06zM43 7h1.06v1.06h-1.06zM36 9h2.06v1.06h-2.06zM45 9h1v1.06h-1zM45 10h1v1.06h-1zM35 11h2.06v1.06h-2.06zM38 11h1.06v1.06h-1.06zM34 12h3.06v1.06h-3.06zM44 12h1.06v1.06h-1.06zM40 13h1.06v1.06h-1.06zM35 14h2.06v1.06h-2.06zM45 14h1v1.06h-1zM34 15h3.06v1.06h-3.06zM38 15h1.06v1.06h-1.06zM45 15h1v1.06h-1zM18 16h1.06v1.06h-1.06zM34 16h2.06v1.06h-2.06zM38 16h1.06v1.06h-1.06zM40 16h2.06v1.06h-2.06zM44 16h1.06v1.06h-1.06zM34 17h1.06v1.06h-1.06zM36 17h1.06v1.06h-1.06zM44 17h2v1.06h-2zM34 18h3.06v1.06h-3.06zM40 18h1.06v1.06h-1.06zM35 19h1.06v1h-1.06z"/>
<path fill="#f3bdbd" d="M37 0h1.06v1.06h-1.06zM39 1h1.06v1.06h-1.06zM37 2h1.06v1.06h-1.06zM36 3h1.06v1.06h-1.06zM36 4h1.06v1.06h-1.06zM38 4h1.06v1.06h-1.06zM12 6h1.06v1.06h-1.06zM15 6h2.06v1.06h-2.06zM20 6h3.06v1.06h-3.06zM35 6h1.06v1.06h-1.06zM37 6h1.06v1.06h-1.06zM39 6h3.06v1.06h-3.06zM38 8h1.06v1.06h-1.06zM40 8h1.06v1.06h-1.06zM13 9h1.06v1.06h-1.06zM16 9h1.06v1.06h-1.06zM35 9h1.06v1.06h-1.06zM42 9h2.06v1.06h-2.06zM30 10h1.06v1.06h-1.06zM37 11h1.06v1.06h-1.06zM39 11h2.06v1.06h-2.06zM41 12h1.06v1.06h-1.06zM36 13h1.06v1.06h-1.06zM38 13h1.06v1.06h-1.06zM44 13h2v1.06h-2zM34 14h1.06v1.06h-1.06zM43 14h1.06v1.06h-1.06zM39 15h2.06v1.06h-2.06zM43 15h1.06v1.06h-1.06zM36 16h1.06v1.06h-1.06zM35 17h1.06v1.06h-1.06zM43 17h1.06v1.06h-1.06zM41 18h1.06v1.06h-1.06zM44 18h1.06v1.06h-1.06zM20 19h1.06v1h-1.06zM36 19h1.06v1h-1.06zM41 19h1.06v1h-1.06z"/>
<path fill="#f9e9e9" d="M39 0h1.06v1.06h-1.06zM37 1h1.06v1.06h-1.06zM37 3h1.06v1.06h-1.06zM34 4h1.06v1.06h-1.06zM17 5h1.06v1.06h-1.06zM29 5h2.06v1.06h-2.06zM14 6h1.06v1.06h-1.06zM42 6h1.06v1.06h-1.06zM33 8h1.06v1.06h-1.06zM45 8h1v1.06h-1zM20 9h1.06v1.06h-1.06zM39 9h1.06v1.06h-1.06zM28 10h1.06v1.06h-1.06zM37 10h1.06v1.06h-1.06zM42 10h1.06v1.06h-1.06zM42 11h1.06v1.06h-1.06zM26 12h1.06v1.06h-1.06zM28 12h1.06v1.06h-1.06zM37 12h1.06v1.06h-1.06zM13 13h1.06v1.06h-1.06zM21 13h1.06v1.06h-1.06zM39 13h1.06v1.06h-1.06zM43 13h1.06v1.06h-1.06zM40 14h1.06v1.06h-1.06zM44 14h1.06v1.06h-1.06zM28 15h3.06v1.06h-3.06zM21 16h2.06v1.06h-2.06zM28 16h1.06v1.06h-1.06zM30 16h1.06v1.06h-1.06zM41 17h1.06v1.06h-1.06zM21 18h2.06v1.06h-2.06zM28 18h1.06v1.06h-1.06zM43 18h1.06v1.06h-1.06zM45 18h1v1.06h-1zM30 19h1.06v1h-1.06zM39 19h2.06v1h-2.06z"/>
<path fill="#fd2a1e" d="M40 0h1.06v1.06h-1.06zM38 1h1.06v1.06h-1.06zM44 1h1.06v1.06h-1.06zM38 2h2.06v1.06h-2.06zM38 3h2.06v1.06h-2.06zM35 4h1.06v1.06h-1.06zM45 4h1v1.06h-1zM37 5h1.06v1.06h-1.06zM41 5h1.06v1.06h-1.06zM44 5h1.06v1.06h-1.06zM38 6h1.06v1.06h-1.06zM44 7h2v1.06h-2zM35 8h1.06v1.06h-1.06zM42 8h3.06v1.06h-3.06zM19 9h1.06v1.06h-1.06zM35 10h1.06v1.06h-1.06zM40 10h1.06v1.06h-1.06zM43 10h2.06v1.06h-2.06zM41 11h1.06v1.06h-1.06zM43 11h1.06v1.06h-1.06zM40 12h1.06v1.06h-1.06zM42 12h1.06v1.06h-1.06zM34 13h1.06v1.06h-1.06zM41 13h2.06v1.06h-2.06zM41 14h2.06v1.06h-2.06zM41 15h2.06v1.06h-2.06zM37 17h1.06v1.06h-1.06zM39 17h1.06v1.06h-1.06zM38 18h1.06v1.06h-1.06zM42 18h1.06v1.06h-1.06zM42 19h1.06v1h-1.06zM44 19h1.06v1h-1.06z"/>
<path fill="#9d9dff" d="M0 2h3.06v1.06h-3.06zM0 6h2.06v1.06h-2.06zM3 6h8.06v1.06h-8.06zM0 9h12.06v1.06h-12.06zM24 9h1.06v1.06h-1.06zM27 9h1.06v1.06h-1.06zM13 11h1.06v1.06h-1.06zM0 13h3.06v1.06h-3.06zM5 16h1.06v1.06h-1.06zM8 16h4.06v1.06h-4.06zM31 16h2.06v1.06h-2.06z"/>
<path fill="#b6b6ff" d="M3 2h9.06v1.06h-9.06zM27 2h1.06v1.06h-1.06zM4 5h1.06v1.06h-1.06zM7 5h2.06v1.06h-2.06zM27 5h1.06v1.06h-1.06zM38 5h2.06v1.06h-2.06zM2 6h1.06v1.06h-1.06zM24 6h1.06v1.06h-1.06zM27 6h1.06v1.06h-1.06zM31 6h2.06v1.06h-2.06zM26 9h1.06v1.06h-1.06zM30 9h4.06v1.06h-4.06zM0 10h3.06v1.06h-3.06zM8 10h4.06v1.06h-4.06zM21 10h2.06v1.06h-2.06zM0 11h3.06v1.06h-3.06zM0 12h4.06v1.06h-4.06zM5 12h1.06v1.06h-1.06zM7 12h1.06v1.06h-1.06zM9 12h1.06v1.06h-1.06zM11 12h1.06v1.06h-1.06zM24 12h1.06v1.06h-1.06zM27 12h1.06v1.06h-1.06zM30 12h1.06v1.06h-1.06zM33 12h1.06v1.06h-1.06zM38 12h1.06v1.06h-1.06zM3 13h3.06v1.06h-3.06zM7 13h5.06v1.06h-5.06zM14 13h3.06v1.06h-3.06zM24 13h1.06v1.06h-1.06zM19 15h1.06v1.06h-1.06zM0 16h4.06v1.06h-4.06zM6 16h1.06v1.06h-1.06zM24 16h2.06v1.06h-2.06zM27 16h1.06v1.06h-1.06zM33 16h1.06v1.06h-1.06zM0 18h3.06v1.06h-3.06zM7 18h5.06v1.06h-5.06zM15 18h2.06v1.06h-2.06z"/>
<path fill="#f7f7fb" d="M17 2h1.06v1.06h-1.06zM21 2h1.06v1.06h-1.06zM25 2h1.06v1.06h-1.06zM31 2h2.06v1.06h-2.06zM33 3h1.06v1.06h-1.06zM41 3h1.06v1.06h-1.06zM27 4h1.06v1.06h-1.06zM21 5h1.06v1.06h-1.06zM17 6h1.06v1.06h-1.06zM37 8h1.06v1.06h-1.06zM39 8h1.06v1.06h-1.06zM15 9h1.06v1.06h-1.06zM40 9h2.06v1.06h-2.06zM29 10h1.06v1.06h-1.06zM38 10h1.06v1.06h-1.06zM44 11h2v1.06h-2zM19 12h1.06v1.06h-1.06zM31 12h1.06v1.06h-1.06zM12 13h1.06v1.06h-1.06zM29 13h1.06v1.06h-1.06zM20 16h1.06v1.06h-1.06zM37 16h1.06v1.06h-1.06zM42 16h1.06v1.06h-1.06zM33 18h1.06v1.06h-1.06zM39 18h1.06v1.06h-1.06zM21 19h2.06v1h-2.06zM37 19h1.06v1h-1.06zM43 19h1.06v1h-1.06zM45 19h1v1h-1z"/>
<path fill="#8080ff" d="M11 6h1.06v1.06h-1.06z"/>
</g>
<line x1="142.3" y1="509.6" x2="226.1" y2="509.6" stroke="#222" stroke-width="1.3"/>
<text x="187.3" y="505.2" text-anchor="middle" style="font-family:'Liberation Sans',sans-serif;font-weight:bold;font-size:10.8px">D0</text>
<rect x="141.00" y="516" width="22.89" height="36.70" fill="#fff" stroke="#333" stroke-width="0.9"/>
<text transform="translate(155.34,549.10) rotate(-90)" style="font-family:'Liberation Sans',sans-serif;font-size:8px;fill:#000;stroke:#000;stroke-width:0.2">H9</text>
<rect x="163.89" y="516" width="22.89" height="36.70" fill="#fff" stroke="#333" stroke-width="0.9"/>
<text transform="translate(178.23,549.10) rotate(-90)" style="font-family:'Liberation Sans',sans-serif;font-size:8px;fill:#000;stroke:#000;stroke-width:0.2">is070a</text>
<rect x="186.78" y="516" width="22.89" height="36.70" fill="#fff" stroke="#333" stroke-width="0.9"/>
<text transform="translate(201.13,549.10) rotate(-90)" style="font-family:'Liberation Sans',sans-serif;font-size:8px;fill:#000;stroke:#000;stroke-width:0.2">i70b</text>
<rect x="209.67" y="516" width="22.89" height="36.70" fill="#fff" stroke="#333" stroke-width="0.9"/>
<text transform="translate(224.02,549.10) rotate(-90)" style="font-family:'Liberation Sans',sans-serif;font-size:8px;fill:#000;stroke:#000;stroke-width:0.2">i173b</text>
<line x1="233.7" y1="509.6" x2="312.5" y2="509.6" stroke="#222" stroke-width="1.3"/>
<text x="271" y="505.2" text-anchor="middle" style="font-family:'Liberation Sans',sans-serif;font-weight:bold;font-size:10.8px">D13</text>
<rect x="232.56" y="516" width="15.26" height="36.70" fill="#fff" stroke="#333" stroke-width="0.9"/>
<text transform="translate(243.09,549.10) rotate(-90)" style="font-family:'Liberation Sans',sans-serif;font-size:8px;fill:#000;stroke:#000;stroke-width:0.2">H9</text>
<rect x="247.82" y="516" width="22.89" height="36.70" fill="#fff" stroke="#333" stroke-width="0.9"/>
<text transform="translate(262.16,549.10) rotate(-90)" style="font-family:'Liberation Sans',sans-serif;font-size:8px;fill:#000;stroke:#000;stroke-width:0.2">is070a</text>
<rect x="270.71" y="516" width="22.89" height="36.70" fill="#fff" stroke="#333" stroke-width="0.9"/>
<text transform="translate(285.06,549.10) rotate(-90)" style="font-family:'Liberation Sans',sans-serif;font-size:8px;fill:#000;stroke:#000;stroke-width:0.2">i70b</text>
<rect x="293.60" y="516" width="22.89" height="36.70" fill="#fff" stroke="#333" stroke-width="0.9"/>
<text transform="translate(307.94,549.10) rotate(-90)" style="font-family:'Liberation Sans',sans-serif;font-size:8px;fill:#000;stroke:#000;stroke-width:0.2">i173b</text>
<line x1="318.1" y1="509.6" x2="398.7" y2="509.6" stroke="#222" stroke-width="1.3"/>
<text x="356.6" y="505.2" text-anchor="middle" style="font-family:'Liberation Sans',sans-serif;font-weight:bold;font-size:10.8px">D20</text>
<rect x="316.49" y="516" width="22.89" height="36.70" fill="#fff" stroke="#333" stroke-width="0.9"/>
<text transform="translate(330.83,549.10) rotate(-90)" style="font-family:'Liberation Sans',sans-serif;font-size:8px;fill:#000;stroke:#000;stroke-width:0.2">H9</text>
<rect x="339.38" y="516" width="15.26" height="36.70" fill="#fff" stroke="#333" stroke-width="0.9"/>
<text transform="translate(349.91,549.10) rotate(-90)" style="font-family:'Liberation Sans',sans-serif;font-size:8px;fill:#000;stroke:#000;stroke-width:0.2">is070a</text>
<rect x="354.64" y="516" width="22.89" height="36.70" fill="#fff" stroke="#333" stroke-width="0.9"/>
<text transform="translate(368.98,549.10) rotate(-90)" style="font-family:'Liberation Sans',sans-serif;font-size:8px;fill:#000;stroke:#000;stroke-width:0.2">i70b</text>
<rect x="377.53" y="516" width="22.89" height="36.70" fill="#fff" stroke="#333" stroke-width="0.9"/>
<text transform="translate(391.88,549.10) rotate(-90)" style="font-family:'Liberation Sans',sans-serif;font-size:8px;fill:#000;stroke:#000;stroke-width:0.2">i173b</text>
<line x1="405.1" y1="509.6" x2="488.3" y2="509.6" stroke="#222" stroke-width="1.3"/>
<text x="447.5" y="505.2" text-anchor="middle" style="font-family:'Liberation Sans',sans-serif;font-weight:bold;font-size:10.8px">D35</text>
<rect x="400.42" y="516" width="22.89" height="36.70" fill="#fff" stroke="#333" stroke-width="0.9"/>
<text transform="translate(414.76,549.10) rotate(-90)" style="font-family:'Liberation Sans',sans-serif;font-size:8px;fill:#000;stroke:#000;stroke-width:0.2">H9</text>
<rect x="423.31" y="516" width="22.89" height="36.70" fill="#fff" stroke="#333" stroke-width="0.9"/>
<text transform="translate(437.65,549.10) rotate(-90)" style="font-family:'Liberation Sans',sans-serif;font-size:8px;fill:#000;stroke:#000;stroke-width:0.2">is070a</text>
<rect x="446.20" y="516" width="22.89" height="36.70" fill="#fff" stroke="#333" stroke-width="0.9"/>
<text transform="translate(460.54,549.10) rotate(-90)" style="font-family:'Liberation Sans',sans-serif;font-size:8px;fill:#000;stroke:#000;stroke-width:0.2">i70b</text>
<rect x="469.09" y="516" width="22.89" height="36.70" fill="#fff" stroke="#333" stroke-width="0.9"/>
<text transform="translate(483.43,549.10) rotate(-90)" style="font-family:'Liberation Sans',sans-serif;font-size:8px;fill:#000;stroke:#000;stroke-width:0.2">i173b</text>
<text x="494.2" y="559.40" style="font-family:'Liberation Mono',monospace;font-size:7.45px;fill:#111">ITLN1</text>
<text x="494.2" y="566.54" style="font-family:'Liberation Mono',monospace;font-size:7.45px;fill:#111">CARTPT</text>
<text x="494.2" y="573.68" style="font-family:'Liberation Mono',monospace;font-size:7.45px;fill:#111">SMAD9</text>
<text x="494.2" y="580.82" style="font-family:'Liberation Mono',monospace;font-size:7.45px;fill:#111">KRT4</text>
<text x="494.2" y="587.96" style="font-family:'Liberation Mono',monospace;font-size:7.45px;fill:#111">CXCL8</text>
<text x="494.2" y="595.10" style="font-family:'Liberation Mono',monospace;font-size:7.45px;fill:#111">ABCC9</text>
<text x="494.2" y="602.24" style="font-family:'Liberation Mono',monospace;font-size:7.45px;fill:#111">SLC4A4</text>
<text x="494.2" y="609.38" style="font-family:'Liberation Mono',monospace;font-size:7.45px;fill:#111">GCNT3</text>
<text x="494.2" y="616.52" style="font-family:'Liberation Mono',monospace;font-size:7.45px;fill:#111">TMEM45B</text>
<text x="494.2" y="623.66" style="font-family:'Liberation Mono',monospace;font-size:7.45px;fill:#111">SLC10A2</text>
<text x="494.2" y="630.80" style="font-family:'Liberation Mono',monospace;font-size:7.45px;fill:#111">EGFL6</text>
<text x="494.2" y="637.94" style="font-family:'Liberation Mono',monospace;font-size:7.45px;fill:#111">TLL1</text>
<text x="494.2" y="645.08" style="font-family:'Liberation Mono',monospace;font-size:7.45px;fill:#111">BIRC3</text>
<text x="494.2" y="652.22" style="font-family:'Liberation Mono',monospace;font-size:7.45px;fill:#111">ALX4</text>
<text x="494.2" y="659.36" style="font-family:'Liberation Mono',monospace;font-size:7.45px;fill:#111">TNFSF10</text>
<text x="494.2" y="666.50" style="font-family:'Liberation Mono',monospace;font-size:7.45px;fill:#111">SNED1</text>
<text x="494.2" y="673.64" style="font-family:'Liberation Mono',monospace;font-size:7.45px;fill:#111">COLEC12</text>
<text x="494.2" y="680.78" style="font-family:'Liberation Mono',monospace;font-size:7.45px;fill:#111">SCEL</text>
<text x="494.2" y="687.92" style="font-family:'Liberation Mono',monospace;font-size:7.45px;fill:#111">EDN3</text>
<text x="494.2" y="695.06" style="font-family:'Liberation Mono',monospace;font-size:7.45px;fill:#111">FAM107A</text>
<rect x="526.2" y="482" width="29.50000000000002" height="61.7" fill="#efefef"/>
<rect x="518.1" y="482.00" width="8.1" height="8.70" fill="#0a00ff"/>
<text x="526.50" y="491.40" style="font-family:'Liberation Sans',sans-serif;font-size:8.3px;fill:#333">-3.00</text>
<rect x="518.1" y="490.50" width="8.1" height="8.70" fill="#5a52ff"/>
<text x="526.50" y="499.90" style="font-family:'Liberation Sans',sans-serif;font-size:8.3px;fill:#333">-2.00</text>
<rect x="518.1" y="499.00" width="8.1" height="8.70" fill="#a8a8ff"/>
<text x="526.50" y="508.40" style="font-family:'Liberation Sans',sans-serif;font-size:8.3px;fill:#333">-1.00</text>
<rect x="518.1" y="507.50" width="8.1" height="8.70" fill="#ffffff"/>
<text x="526.80" y="516.90" style="font-family:'Liberation Sans',sans-serif;font-size:8.3px;fill:#333">0.00</text>
<rect x="518.1" y="516.00" width="8.1" height="8.70" fill="#f2a3a8"/>
<text x="526.80" y="525.40" style="font-family:'Liberation Sans',sans-serif;font-size:8.3px;fill:#333">1.00</text>
<rect x="518.1" y="524.50" width="8.1" height="8.70" fill="#f0545e"/>
<text x="526.80" y="533.90" style="font-family:'Liberation Sans',sans-serif;font-size:8.3px;fill:#333">2.00</text>
<rect x="518.1" y="533.00" width="8.1" height="8.70" fill="#ff1a10"/>
<text x="526.80" y="542.40" style="font-family:'Liberation Sans',sans-serif;font-size:8.3px;fill:#333">3.00</text>
<text x="145.2" y="721.8" style="font-family:'Liberation Sans',sans-serif;font-weight:bold;font-size:15.4px">Upregulated in D20 and D35, Decreasing</text>
<text x="2.3" y="725" style="font-family:'Liberation Sans',sans-serif;font-weight:bold;font-size:23.5px">F</text>
<rect x="76.35" y="746.5" width="6.45" height="88.70" fill="url(#pB)"/>
<rect x="82.8" y="746.5" width="6.20" height="53.50" fill="url(#pW)"/>
<rect x="82.8" y="800" width="6.20" height="35.20" fill="url(#pW3)"/>
<rect x="89.0" y="746.5" width="6.00" height="88.70" fill="url(#pRR)"/>
<rect x="95.0" y="746.5" width="6.20" height="88.70" fill="url(#pW)"/>
<rect x="101.2" y="746.5" width="1.2" height="88.70000000000005" fill="#dddddd"/>
<rect x="77.10" y="741.3" width="4.97" height="3.2" fill="#e3e3e3"/>
<rect x="83.31" y="741.3" width="4.97" height="3.2" fill="#e3e3e3"/>
<rect x="89.52" y="741.3" width="4.97" height="3.2" fill="#e3e3e3"/>
<rect x="95.73" y="741.3" width="4.97" height="3.2" fill="#e3e3e3"/>
<rect x="76.3" y="746.3" width="29.5" height="12.200000000000045" fill="none" stroke="#111" stroke-width="1.3"/>
<line x1="105.8" y1="746.3" x2="130.3" y2="800.8" stroke="#777" stroke-width="0.9"/>
<line x1="105.8" y1="758.5" x2="130.3" y2="957.4" stroke="#777" stroke-width="0.9"/>
<g transform="translate(130.3 800.8) scale(7.84 7.83)">
<path fill="#bebeff" d="M0 0h12.06v1.06h-12.06zM34 0h3.06v1.06h-3.06zM40 0h1.06v1.06h-1.06zM3 1h6.06v1.06h-6.06zM12 1h2.06v1.06h-2.06zM17 1h1.06v1.06h-1.06zM38 1h1.06v1.06h-1.06zM3 2h9.06v1.06h-9.06zM38 2h1.06v1.06h-1.06zM40 2h1.06v1.06h-1.06zM0 3h1.06v1.06h-1.06zM9 3h1.06v1.06h-1.06zM18 3h1.06v1.06h-1.06zM35 3h1.06v1.06h-1.06zM41 3h2.06v1.06h-2.06zM0 4h3.06v1.06h-3.06zM15 4h2.06v1.06h-2.06zM34 4h3.06v1.06h-3.06zM38 4h3.06v1.06h-3.06zM0 5h12.06v1.06h-12.06zM38 5h1.06v1.06h-1.06zM0 6h12.06v1.06h-12.06zM14 6h4.06v1.06h-4.06zM20 6h3.06v1.06h-3.06zM0 7h10.06v1.06h-10.06zM11 7h1.06v1.06h-1.06zM17 7h1.06v1.06h-1.06zM35 7h1.06v1.06h-1.06zM38 7h5.06v1.06h-5.06zM0 8h3.06v1.06h-3.06zM34 8h2.06v1.06h-2.06zM38 8h1.06v1.06h-1.06zM42 8h1.06v1.06h-1.06zM0 9h3.06v1.06h-3.06zM34 9h1.06v1.06h-1.06zM36 9h1.06v1.06h-1.06zM3 10h9.06v1.06h-9.06zM34 10h3.06v1.06h-3.06zM0 11h4.06v1.06h-4.06zM5 11h3.06v1.06h-3.06zM9 11h3.06v1.06h-3.06zM14 11h4.06v1.06h-4.06zM35 11h2.06v1.06h-2.06zM0 12h12.06v1.06h-12.06zM5 13h6.06v1.06h-6.06zM21 13h1.06v1.06h-1.06zM37 13h4.06v1.06h-4.06zM42 13h1.06v1.06h-1.06zM0 14h3.06v1.06h-3.06zM14 14h2.06v1.06h-2.06zM21 14h2.06v1.06h-2.06zM34 14h3.06v1.06h-3.06zM0 15h17.06v1.06h-17.06zM20 15h3.06v1.06h-3.06zM0 16h6.06v1.06h-6.06zM8 16h9.06v1.06h-9.06zM20 16h1.06v1.06h-1.06zM3 17h9.06v1.06h-9.06zM16 17h1.06v1.06h-1.06zM20 17h1.06v1.06h-1.06zM39 17h1.06v1.06h-1.06zM3 18h9.06v1.06h-9.06zM3 19h9.06v1h-9.06z"/>
<path fill="#ef9292" d="M12 0h1.06v1.06h-1.06zM23 0h3.06v1.06h-3.06zM27 0h1.06v1.06h-1.06zM30 0h1.06v1.06h-1.06zM33 0h1.06v1.06h-1.06zM23 1h1.06v1.06h-1.06zM26 1h1.06v1.06h-1.06zM30 1h1.06v1.06h-1.06zM32 1h1.06v1.06h-1.06zM23 2h2.06v1.06h-2.06zM26 2h3.06v1.06h-3.06zM30 2h1.06v1.06h-1.06zM13 3h1.06v1.06h-1.06zM24 3h1.06v1.06h-1.06zM25 4h1.06v1.06h-1.06zM28 4h3.06v1.06h-3.06zM32 4h2.06v1.06h-2.06zM23 5h1.06v1.06h-1.06zM25 5h2.06v1.06h-2.06zM31 5h1.06v1.06h-1.06zM23 6h1.06v1.06h-1.06zM26 6h1.06v1.06h-1.06zM30 6h1.06v1.06h-1.06zM24 7h1.06v1.06h-1.06zM28 7h1.06v1.06h-1.06zM32 7h2.06v1.06h-2.06zM23 8h1.06v1.06h-1.06zM25 8h2.06v1.06h-2.06zM28 8h4.06v1.06h-4.06zM23 9h1.06v1.06h-1.06zM27 9h1.06v1.06h-1.06zM31 9h1.06v1.06h-1.06zM13 10h1.06v1.06h-1.06zM24 10h2.06v1.06h-2.06zM28 10h1.06v1.06h-1.06zM29 11h2.06v1.06h-2.06zM33 11h1.06v1.06h-1.06zM23 12h1.06v1.06h-1.06zM29 12h4.06v1.06h-4.06zM25 13h1.06v1.06h-1.06zM29 13h1.06v1.06h-1.06zM26 14h2.06v1.06h-2.06zM31 14h1.06v1.06h-1.06zM23 15h1.06v1.06h-1.06zM25 15h3.06v1.06h-3.06zM23 16h1.06v1.06h-1.06zM25 16h1.06v1.06h-1.06zM32 16h1.06v1.06h-1.06zM31 17h1.06v1.06h-1.06zM25 18h1.06v1.06h-1.06zM31 18h3.06v1.06h-3.06zM23 19h1.06v1h-1.06zM25 19h1.06v1h-1.06z"/>
<path fill="#f3bdbd" d="M13 0h1.06v1.06h-1.06zM19 0h1.06v1.06h-1.06zM32 0h1.06v1.06h-1.06zM33 1h1.06v1.06h-1.06zM12 3h1.06v1.06h-1.06zM29 3h2.06v1.06h-2.06zM44 4h1.06v1.06h-1.06zM32 5h2.06v1.06h-2.06zM32 9h2.06v1.06h-2.06zM23 10h1.06v1.06h-1.06zM29 10h2.06v1.06h-2.06zM23 11h1.06v1.06h-1.06zM32 11h1.06v1.06h-1.06zM31 16h1.06v1.06h-1.06zM24 18h1.06v1.06h-1.06zM30 18h1.06v1.06h-1.06zM28 19h3.06v1h-3.06z"/>
<path fill="#e0e0fd" d="M14 0h4.06v1.06h-4.06zM20 0h3.06v1.06h-3.06zM39 0h1.06v1.06h-1.06zM43 0h2.06v1.06h-2.06zM14 1h1.06v1.06h-1.06zM19 1h1.06v1.06h-1.06zM37 1h1.06v1.06h-1.06zM43 1h3v1.06h-3zM12 2h1.06v1.06h-1.06zM14 2h4.06v1.06h-4.06zM19 2h3.06v1.06h-3.06zM36 2h1.06v1.06h-1.06zM39 2h1.06v1.06h-1.06zM42 2h1.06v1.06h-1.06zM5 3h1.06v1.06h-1.06zM43 3h3v1.06h-3zM12 4h2.06v1.06h-2.06zM37 4h1.06v1.06h-1.06zM18 5h2.06v1.06h-2.06zM37 5h1.06v1.06h-1.06zM40 5h1.06v1.06h-1.06zM37 6h2.06v1.06h-2.06zM44 6h2v1.06h-2zM10 7h1.06v1.06h-1.06zM12 7h2.06v1.06h-2.06zM18 7h1.06v1.06h-1.06zM44 7h1.06v1.06h-1.06zM14 8h1.06v1.06h-1.06zM18 8h3.06v1.06h-3.06zM22 8h1.06v1.06h-1.06zM37 8h1.06v1.06h-1.06zM41 8h1.06v1.06h-1.06zM43 8h1.06v1.06h-1.06zM17 10h6.06v1.06h-6.06zM37 10h1.06v1.06h-1.06zM39 10h2.06v1.06h-2.06zM43 10h2.06v1.06h-2.06zM18 11h3.06v1.06h-3.06zM22 11h1.06v1.06h-1.06zM37 11h1.06v1.06h-1.06zM39 11h1.06v1.06h-1.06zM40 12h6v1.06h-6zM12 13h5.06v1.06h-5.06zM19 13h1.06v1.06h-1.06zM22 13h1.06v1.06h-1.06zM18 14h3.06v1.06h-3.06zM38 14h7.06v1.06h-7.06zM17 15h1.06v1.06h-1.06zM36 15h3.06v1.06h-3.06zM41 15h5v1.06h-5zM17 16h1.06v1.06h-1.06zM37 16h1.06v1.06h-1.06zM43 16h3v1.06h-3zM1 17h1.06v1.06h-1.06zM12 17h1.06v1.06h-1.06zM17 17h2.06v1.06h-2.06zM22 17h1.06v1.06h-1.06zM38 17h1.06v1.06h-1.06zM44 17h1.06v1.06h-1.06zM38 18h2.06v1.06h-2.06zM43 19h2.06v1h-2.06z"/>
<path fill="#f9e9e9" d="M18 0h1.06v1.06h-1.06zM14 3h3.06v1.06h-3.06zM20 3h4.06v1.06h-4.06zM28 3h1.06v1.06h-1.06zM31 3h1.06v1.06h-1.06zM17 4h3.06v1.06h-3.06zM21 4h1.06v1.06h-1.06zM43 4h1.06v1.06h-1.06zM21 7h2.06v1.06h-2.06zM25 7h1.06v1.06h-1.06zM30 7h1.06v1.06h-1.06zM43 7h1.06v1.06h-1.06zM13 9h1.06v1.06h-1.06zM26 9h1.06v1.06h-1.06zM43 11h2.06v1.06h-2.06zM18 13h1.06v1.06h-1.06zM27 13h1.06v1.06h-1.06zM43 13h3v1.06h-3zM13 14h1.06v1.06h-1.06zM17 14h1.06v1.06h-1.06zM25 14h1.06v1.06h-1.06zM38 16h2.06v1.06h-2.06zM23 17h2.06v1.06h-2.06zM27 17h1.06v1.06h-1.06zM43 17h1.06v1.06h-1.06zM37 18h1.06v1.06h-1.06zM43 18h1.06v1.06h-1.06zM39 19h1.06v1h-1.06z"/>
<path fill="#ef6262" d="M26 0h1.06v1.06h-1.06zM31 0h1.06v1.06h-1.06zM24 1h2.06v1.06h-2.06zM27 1h1.06v1.06h-1.06zM29 1h1.06v1.06h-1.06zM31 1h1.06v1.06h-1.06zM25 2h1.06v1.06h-1.06zM31 2h3.06v1.06h-3.06zM25 3h1.06v1.06h-1.06zM32 3h2.06v1.06h-2.06zM23 4h2.06v1.06h-2.06zM26 4h2.06v1.06h-2.06zM31 4h1.06v1.06h-1.06zM24 5h1.06v1.06h-1.06zM27 5h1.06v1.06h-1.06zM29 5h1.06v1.06h-1.06zM24 6h2.06v1.06h-2.06zM27 6h3.06v1.06h-3.06zM31 6h3.06v1.06h-3.06zM31 7h1.06v1.06h-1.06zM24 8h1.06v1.06h-1.06zM33 8h1.06v1.06h-1.06zM24 9h2.06v1.06h-2.06zM12 10h1.06v1.06h-1.06zM27 10h1.06v1.06h-1.06zM32 10h2.06v1.06h-2.06zM24 11h4.06v1.06h-4.06zM31 11h1.06v1.06h-1.06zM24 12h2.06v1.06h-2.06zM33 12h1.06v1.06h-1.06zM26 13h1.06v1.06h-1.06zM28 13h1.06v1.06h-1.06zM31 13h1.06v1.06h-1.06zM33 13h1.06v1.06h-1.06zM23 14h2.06v1.06h-2.06zM29 14h1.06v1.06h-1.06zM32 14h2.06v1.06h-2.06zM24 15h1.06v1.06h-1.06zM28 15h5.06v1.06h-5.06zM24 16h1.06v1.06h-1.06zM26 16h1.06v1.06h-1.06zM28 16h2.06v1.06h-2.06zM33 16h1.06v1.06h-1.06zM26 17h1.06v1.06h-1.06zM28 17h1.06v1.06h-1.06zM30 17h1.06v1.06h-1.06zM32 17h1.06v1.06h-1.06zM23 18h1.06v1.06h-1.06zM26 18h1.06v1.06h-1.06zM28 18h2.06v1.06h-2.06zM24 19h1.06v1h-1.06zM26 19h2.06v1h-2.06zM33 19h1.06v1h-1.06z"/>
<path fill="#fd2a1e" d="M28 0h2.06v1.06h-2.06zM28 1h1.06v1.06h-1.06zM29 2h1.06v1.06h-1.06zM26 3h2.06v1.06h-2.06zM28 5h1.06v1.06h-1.06zM30 5h1.06v1.06h-1.06zM23 7h1.06v1.06h-1.06zM26 7h1.06v1.06h-1.06zM29 7h1.06v1.06h-1.06zM27 8h1.06v1.06h-1.06zM32 8h1.06v1.06h-1.06zM28 9h3.06v1.06h-3.06zM26 10h1.06v1.06h-1.06zM31 10h1.06v1.06h-1.06zM28 11h1.06v1.06h-1.06zM26 12h3.06v1.06h-3.06zM23 13h1.06v1.06h-1.06zM30 13h1.06v1.06h-1.06zM32 13h1.06v1.06h-1.06zM28 14h1.06v1.06h-1.06zM30 14h1.06v1.06h-1.06zM33 15h1.06v1.06h-1.06zM27 16h1.06v1.06h-1.06zM30 16h1.06v1.06h-1.06zM25 17h1.06v1.06h-1.06zM29 17h1.06v1.06h-1.06zM33 17h1.06v1.06h-1.06zM27 18h1.06v1.06h-1.06zM31 19h2.06v1h-2.06z"/>
<path fill="#cecefe" d="M37 0h2.06v1.06h-2.06zM41 0h2.06v1.06h-2.06zM45 0h1v1.06h-1zM0 1h3.06v1.06h-3.06zM9 1h3.06v1.06h-3.06zM15 1h2.06v1.06h-2.06zM18 1h1.06v1.06h-1.06zM20 1h3.06v1.06h-3.06zM34 1h3.06v1.06h-3.06zM39 1h4.06v1.06h-4.06zM13 2h1.06v1.06h-1.06zM22 2h1.06v1.06h-1.06zM34 2h1.06v1.06h-1.06zM37 2h1.06v1.06h-1.06zM41 2h1.06v1.06h-1.06zM43 2h3v1.06h-3zM1 3h2.06v1.06h-2.06zM17 3h1.06v1.06h-1.06zM39 3h1.06v1.06h-1.06zM41 4h2.06v1.06h-2.06zM12 5h6.06v1.06h-6.06zM20 5h3.06v1.06h-3.06zM34 5h3.06v1.06h-3.06zM39 5h1.06v1.06h-1.06zM41 5h5v1.06h-5zM12 6h2.06v1.06h-2.06zM18 6h2.06v1.06h-2.06zM34 6h3.06v1.06h-3.06zM40 6h4.06v1.06h-4.06zM15 7h1.06v1.06h-1.06zM19 7h1.06v1.06h-1.06zM34 7h1.06v1.06h-1.06zM36 7h2.06v1.06h-2.06zM45 7h1v1.06h-1zM12 8h2.06v1.06h-2.06zM15 8h3.06v1.06h-3.06zM36 8h1.06v1.06h-1.06zM39 8h2.06v1.06h-2.06zM3 9h10.06v1.06h-10.06zM14 9h9.06v1.06h-9.06zM35 9h1.06v1.06h-1.06zM38 9h8v1.06h-8zM14 10h3.06v1.06h-3.06zM38 10h1.06v1.06h-1.06zM41 10h2.06v1.06h-2.06zM45 10h1v1.06h-1zM4 11h1.06v1.06h-1.06zM12 11h2.06v1.06h-2.06zM21 11h1.06v1.06h-1.06zM34 11h1.06v1.06h-1.06zM38 11h1.06v1.06h-1.06zM40 11h3.06v1.06h-3.06zM12 12h11.06v1.06h-11.06zM34 12h3.06v1.06h-3.06zM38 12h1.06v1.06h-1.06zM0 13h5.06v1.06h-5.06zM11 13h1.06v1.06h-1.06zM17 13h1.06v1.06h-1.06zM20 13h1.06v1.06h-1.06zM34 13h3.06v1.06h-3.06zM41 13h1.06v1.06h-1.06zM16 14h1.06v1.06h-1.06zM37 14h1.06v1.06h-1.06zM45 14h1v1.06h-1zM18 15h2.06v1.06h-2.06zM34 15h2.06v1.06h-2.06zM6 16h2.06v1.06h-2.06zM18 16h2.06v1.06h-2.06zM21 16h2.06v1.06h-2.06zM34 16h3.06v1.06h-3.06zM40 16h3.06v1.06h-3.06zM0 17h1.06v1.06h-1.06zM2 17h1.06v1.06h-1.06zM13 17h2.06v1.06h-2.06zM19 17h1.06v1.06h-1.06zM34 17h4.06v1.06h-4.06zM40 17h3.06v1.06h-3.06zM45 17h1v1.06h-1zM0 18h3.06v1.06h-3.06zM12 18h11.06v1.06h-11.06zM34 18h3.06v1.06h-3.06zM40 18h3.06v1.06h-3.06zM45 18h1v1.06h-1zM0 19h3.06v1h-3.06zM12 19h11.06v1h-11.06zM34 19h3.06v1h-3.06zM40 19h3.06v1h-3.06zM45 19h1v1h-1z"/>
<path fill="#b0b0ff" d="M0 2h3.06v1.06h-3.06zM6 3h3.06v1.06h-3.06zM10 3h2.06v1.06h-2.06zM3 4h9.06v1.06h-9.06zM3 8h9.06v1.06h-9.06zM0 10h3.06v1.06h-3.06zM8 11h1.06v1.06h-1.06zM3 14h9.06v1.06h-9.06z"/>
<path fill="#f7f7fb" d="M18 2h1.06v1.06h-1.06zM35 2h1.06v1.06h-1.06zM3 3h2.06v1.06h-2.06zM19 3h1.06v1.06h-1.06zM37 3h1.06v1.06h-1.06zM20 4h1.06v1.06h-1.06zM22 4h1.06v1.06h-1.06zM45 4h1v1.06h-1zM39 6h1.06v1.06h-1.06zM14 7h1.06v1.06h-1.06zM16 7h1.06v1.06h-1.06zM20 7h1.06v1.06h-1.06zM27 7h1.06v1.06h-1.06zM21 8h1.06v1.06h-1.06zM44 8h2v1.06h-2zM37 9h1.06v1.06h-1.06zM45 11h1v1.06h-1zM37 12h1.06v1.06h-1.06zM39 12h1.06v1.06h-1.06zM24 13h1.06v1.06h-1.06zM12 14h1.06v1.06h-1.06zM39 15h2.06v1.06h-2.06zM15 17h1.06v1.06h-1.06zM21 17h1.06v1.06h-1.06zM44 18h1.06v1.06h-1.06zM37 19h2.06v1h-2.06z"/>
<path fill="#9d9dff" d="M34 3h1.06v1.06h-1.06zM36 3h1.06v1.06h-1.06zM14 4h1.06v1.06h-1.06z"/>
<path fill="#8080ff" d="M38 3h1.06v1.06h-1.06zM40 3h1.06v1.06h-1.06z"/>
</g>
<line x1="131.4" y1="757.3" x2="217.8" y2="757.3" stroke="#222" stroke-width="1.3"/>
<text x="177.6" y="752.6" text-anchor="middle" style="font-family:'Liberation Sans',sans-serif;font-weight:bold;font-size:11.1px">D0</text>
<rect x="130.30" y="763.3" width="23.52" height="37.50" fill="#fff" stroke="#333" stroke-width="0.9"/>
<text transform="translate(144.96,797.20) rotate(-90)" style="font-family:'Liberation Sans',sans-serif;font-size:8px;fill:#000;stroke:#000;stroke-width:0.2">H9</text>
<rect x="153.82" y="763.3" width="23.52" height="37.50" fill="#fff" stroke="#333" stroke-width="0.9"/>
<text transform="translate(168.48,797.20) rotate(-90)" style="font-family:'Liberation Sans',sans-serif;font-size:8px;fill:#000;stroke:#000;stroke-width:0.2">is070a</text>
<rect x="177.34" y="763.3" width="23.52" height="37.50" fill="#fff" stroke="#333" stroke-width="0.9"/>
<text transform="translate(192.00,797.20) rotate(-90)" style="font-family:'Liberation Sans',sans-serif;font-size:8px;fill:#000;stroke:#000;stroke-width:0.2">i70b</text>
<rect x="200.86" y="763.3" width="23.52" height="37.50" fill="#fff" stroke="#333" stroke-width="0.9"/>
<text transform="translate(215.52,797.20) rotate(-90)" style="font-family:'Liberation Sans',sans-serif;font-size:8px;fill:#000;stroke:#000;stroke-width:0.2">i173b</text>
<line x1="225.1" y1="757.3" x2="306" y2="757.3" stroke="#222" stroke-width="1.3"/>
<text x="263.7" y="752.6" text-anchor="middle" style="font-family:'Liberation Sans',sans-serif;font-weight:bold;font-size:11.1px">D13</text>
<rect x="224.38" y="763.3" width="15.68" height="37.50" fill="#fff" stroke="#333" stroke-width="0.9"/>
<text transform="translate(235.12,797.20) rotate(-90)" style="font-family:'Liberation Sans',sans-serif;font-size:8px;fill:#000;stroke:#000;stroke-width:0.2">H9</text>
<rect x="240.06" y="763.3" width="23.52" height="37.50" fill="#fff" stroke="#333" stroke-width="0.9"/>
<text transform="translate(254.72,797.20) rotate(-90)" style="font-family:'Liberation Sans',sans-serif;font-size:8px;fill:#000;stroke:#000;stroke-width:0.2">is070a</text>
<rect x="263.58" y="763.3" width="23.52" height="37.50" fill="#fff" stroke="#333" stroke-width="0.9"/>
<text transform="translate(278.24,797.20) rotate(-90)" style="font-family:'Liberation Sans',sans-serif;font-size:8px;fill:#000;stroke:#000;stroke-width:0.2">i70b</text>
<rect x="287.10" y="763.3" width="23.52" height="37.50" fill="#fff" stroke="#333" stroke-width="0.9"/>
<text transform="translate(301.76,797.20) rotate(-90)" style="font-family:'Liberation Sans',sans-serif;font-size:8px;fill:#000;stroke:#000;stroke-width:0.2">i173b</text>
<line x1="311.9" y1="757.3" x2="394.3" y2="757.3" stroke="#222" stroke-width="1.3"/>
<text x="351.35" y="752.6" text-anchor="middle" style="font-family:'Liberation Sans',sans-serif;font-weight:bold;font-size:11.1px">D20</text>
<rect x="310.62" y="763.3" width="23.52" height="37.50" fill="#fff" stroke="#333" stroke-width="0.9"/>
<text transform="translate(325.28,797.20) rotate(-90)" style="font-family:'Liberation Sans',sans-serif;font-size:8px;fill:#000;stroke:#000;stroke-width:0.2">H9</text>
<rect x="334.14" y="763.3" width="15.68" height="37.50" fill="#fff" stroke="#333" stroke-width="0.9"/>
<text transform="translate(344.88,797.20) rotate(-90)" style="font-family:'Liberation Sans',sans-serif;font-size:8px;fill:#000;stroke:#000;stroke-width:0.2">is070a</text>
<rect x="349.82" y="763.3" width="23.52" height="37.50" fill="#fff" stroke="#333" stroke-width="0.9"/>
<text transform="translate(364.48,797.20) rotate(-90)" style="font-family:'Liberation Sans',sans-serif;font-size:8px;fill:#000;stroke:#000;stroke-width:0.2">i70b</text>
<rect x="373.34" y="763.3" width="23.52" height="37.50" fill="#fff" stroke="#333" stroke-width="0.9"/>
<text transform="translate(388.00,797.20) rotate(-90)" style="font-family:'Liberation Sans',sans-serif;font-size:8px;fill:#000;stroke:#000;stroke-width:0.2">i173b</text>
<line x1="400.7" y1="757.3" x2="486.2" y2="757.3" stroke="#222" stroke-width="1.3"/>
<text x="444.8" y="752.6" text-anchor="middle" style="font-family:'Liberation Sans',sans-serif;font-weight:bold;font-size:11.1px">D35</text>
<rect x="396.86" y="763.3" width="23.52" height="37.50" fill="#fff" stroke="#333" stroke-width="0.9"/>
<text transform="translate(411.52,797.20) rotate(-90)" style="font-family:'Liberation Sans',sans-serif;font-size:8px;fill:#000;stroke:#000;stroke-width:0.2">H9</text>
<rect x="420.38" y="763.3" width="23.52" height="37.50" fill="#fff" stroke="#333" stroke-width="0.9"/>
<text transform="translate(435.04,797.20) rotate(-90)" style="font-family:'Liberation Sans',sans-serif;font-size:8px;fill:#000;stroke:#000;stroke-width:0.2">is070a</text>
<rect x="443.90" y="763.3" width="23.52" height="37.50" fill="#fff" stroke="#333" stroke-width="0.9"/>
<text transform="translate(458.56,797.20) rotate(-90)" style="font-family:'Liberation Sans',sans-serif;font-size:8px;fill:#000;stroke:#000;stroke-width:0.2">i70b</text>
<rect x="467.42" y="763.3" width="23.52" height="37.50" fill="#fff" stroke="#333" stroke-width="0.9"/>
<text transform="translate(482.08,797.20) rotate(-90)" style="font-family:'Liberation Sans',sans-serif;font-size:8px;fill:#000;stroke:#000;stroke-width:0.2">i173b</text>
<text x="493.1" y="807.70" style="font-family:'Liberation Mono',monospace;font-size:7.45px;fill:#111">NHLH2</text>
<text x="493.1" y="815.53" style="font-family:'Liberation Mono',monospace;font-size:7.45px;fill:#111">LIN7A</text>
<text x="493.1" y="823.36" style="font-family:'Liberation Mono',monospace;font-size:7.45px;fill:#111">SIM1</text>
<text x="493.1" y="831.19" style="font-family:'Liberation Mono',monospace;font-size:7.45px;fill:#111">MAP3K13</text>
<text x="493.1" y="839.02" style="font-family:'Liberation Mono',monospace;font-size:7.45px;fill:#111">PLPPR1</text>
<text x="493.1" y="846.85" style="font-family:'Liberation Mono',monospace;font-size:7.45px;fill:#111">LRRN3</text>
<text x="493.1" y="854.68" style="font-family:'Liberation Mono',monospace;font-size:7.45px;fill:#111">POU4F1</text>
<text x="493.1" y="862.51" style="font-family:'Liberation Mono',monospace;font-size:7.45px;fill:#111">FSD1L</text>
<text x="493.1" y="870.34" style="font-family:'Liberation Mono',monospace;font-size:7.45px;fill:#111">SLC05A1</text>
<text x="493.1" y="878.17" style="font-family:'Liberation Mono',monospace;font-size:7.45px;fill:#111">CALHM4</text>
<text x="493.1" y="886.00" style="font-family:'Liberation Mono',monospace;font-size:7.45px;fill:#111">NEUROD4</text>
<text x="493.1" y="893.83" style="font-family:'Liberation Mono',monospace;font-size:7.45px;fill:#111">TERF2IP</text>
<text x="493.1" y="901.66" style="font-family:'Liberation Mono',monospace;font-size:7.45px;fill:#111">TMEFF2</text>
<text x="493.1" y="909.49" style="font-family:'Liberation Mono',monospace;font-size:7.45px;fill:#111">CHN2</text>
<text x="493.1" y="917.32" style="font-family:'Liberation Mono',monospace;font-size:7.45px;fill:#111">LAMP5</text>
<text x="493.1" y="925.15" style="font-family:'Liberation Mono',monospace;font-size:7.45px;fill:#111">EBF3</text>
<text x="493.1" y="932.98" style="font-family:'Liberation Mono',monospace;font-size:7.45px;fill:#111">LRRC55</text>
<text x="493.1" y="940.81" style="font-family:'Liberation Mono',monospace;font-size:7.45px;fill:#111">CADPS</text>
<text x="493.1" y="948.64" style="font-family:'Liberation Mono',monospace;font-size:7.45px;fill:#111">ELAVL4</text>
<text x="493.1" y="956.47" style="font-family:'Liberation Mono',monospace;font-size:7.45px;fill:#111">DRGX</text>
<rect x="525.8" y="729" width="29.900000000000045" height="63.099999999999994" fill="#efefef"/>
<rect x="517" y="729.00" width="8.8" height="8.90" fill="#0a00ff"/>
<text x="526.10" y="738.60" style="font-family:'Liberation Sans',sans-serif;font-size:8.3px;fill:#333">-3.00</text>
<rect x="517" y="737.70" width="8.8" height="8.90" fill="#5a52ff"/>
<text x="526.10" y="747.30" style="font-family:'Liberation Sans',sans-serif;font-size:8.3px;fill:#333">-2.00</text>
<rect x="517" y="746.40" width="8.8" height="8.90" fill="#a8a8ff"/>
<text x="526.10" y="756.00" style="font-family:'Liberation Sans',sans-serif;font-size:8.3px;fill:#333">-1.00</text>
<rect x="517" y="755.10" width="8.8" height="8.90" fill="#ffffff"/>
<text x="526.40" y="764.70" style="font-family:'Liberation Sans',sans-serif;font-size:8.3px;fill:#333">0.00</text>
<rect x="517" y="763.80" width="8.8" height="8.90" fill="#f2a3a8"/>
<text x="526.40" y="773.40" style="font-family:'Liberation Sans',sans-serif;font-size:8.3px;fill:#333">1.00</text>
<rect x="517" y="772.50" width="8.8" height="8.90" fill="#f0545e"/>
<text x="526.40" y="782.10" style="font-family:'Liberation Sans',sans-serif;font-size:8.3px;fill:#333">2.00</text>
<rect x="517" y="781.20" width="8.8" height="8.90" fill="#ff1a10"/>
<text x="526.40" y="790.80" style="font-family:'Liberation Sans',sans-serif;font-size:8.3px;fill:#333">3.00</text>
</svg>
</body></html>
